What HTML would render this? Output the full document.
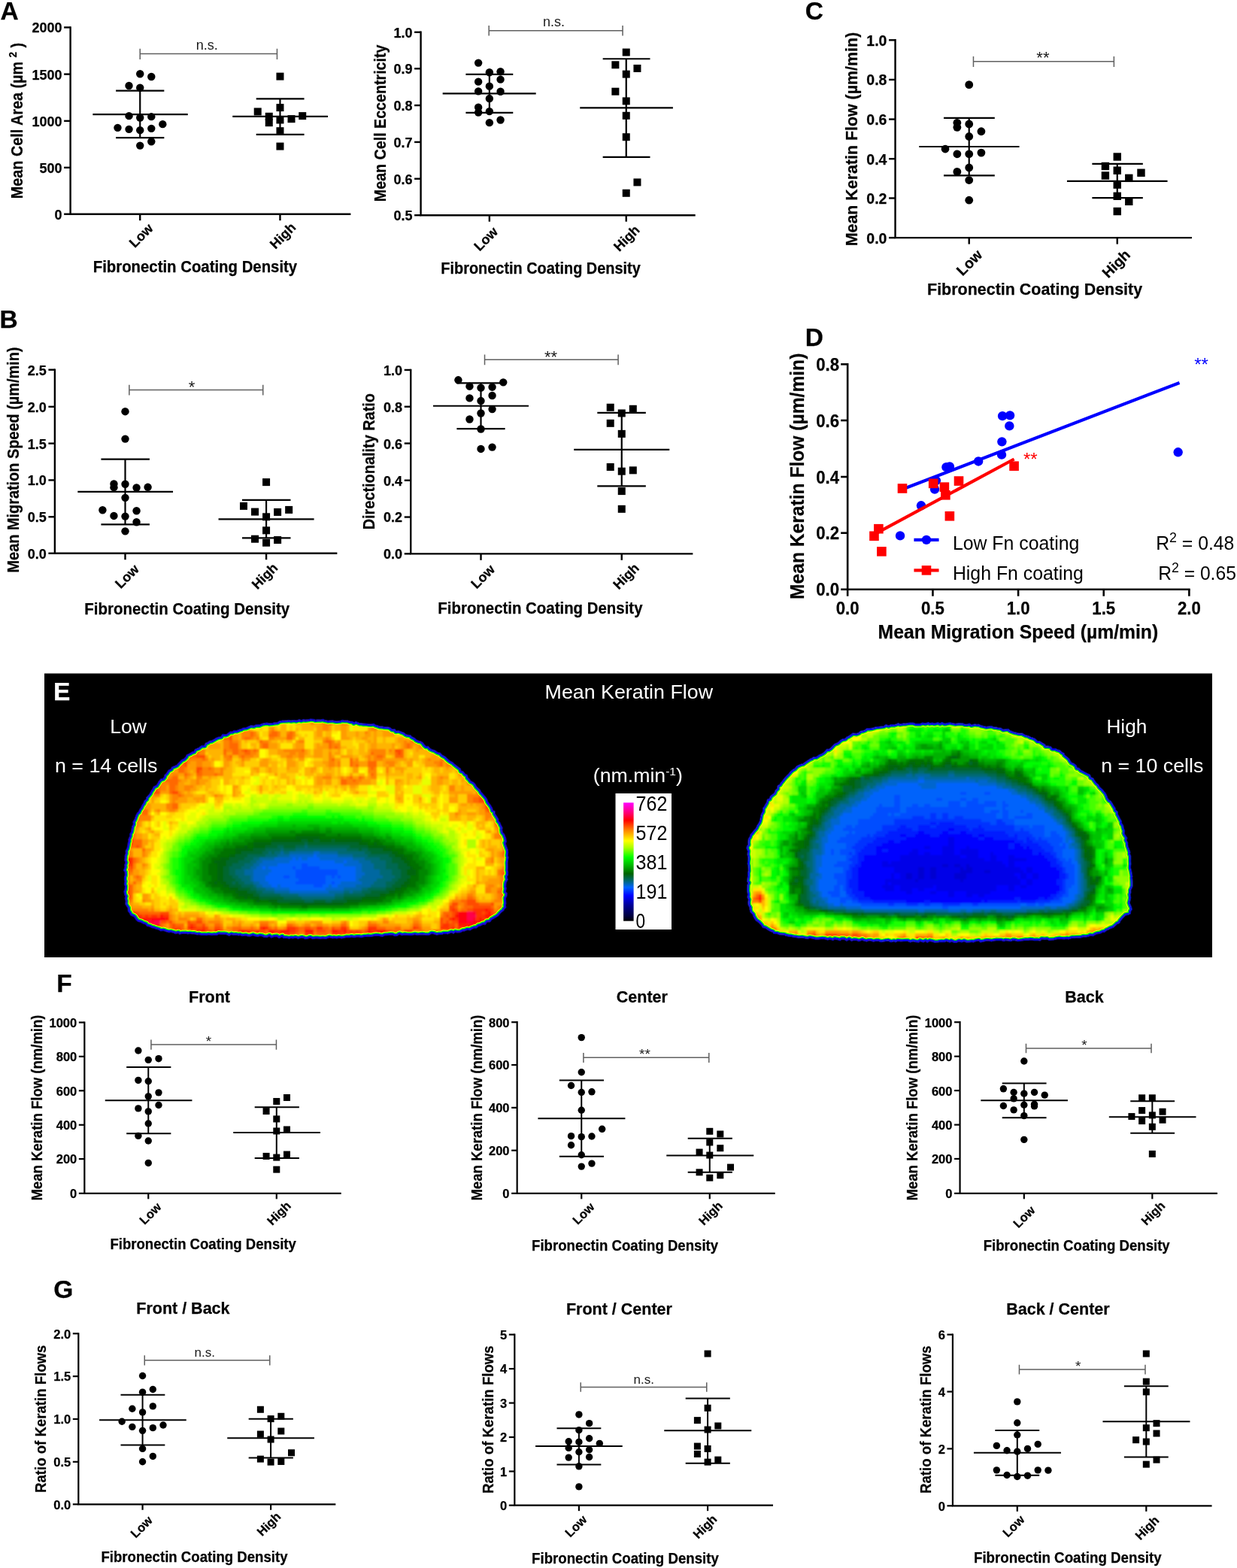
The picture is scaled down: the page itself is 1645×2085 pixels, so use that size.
<!DOCTYPE html>
<html lang="en"><head><meta charset="utf-8"><title>Figure</title>
<style>html,body{margin:0;padding:0;background:#fff}svg{display:block}text{font-family:"Liberation Sans", Arial, Helvetica, sans-serif}.b{font-weight:700;stroke:#000;stroke-width:.25px;stroke-linejoin:round}</style>
</head><body>
<svg width="1645" height="2085" viewBox="0 0 1645 2085">
<rect width="1645" height="2085" fill="#fff"/>
<g stroke="#000" fill="#000">
<path d="M93.62 35.24V284.7H466.41" fill="none" stroke-width="2.4" stroke-linejoin="miter"/>
<line x1="85.12" y1="36.44" x2="93.62" y2="36.44" stroke-width="2.4"/>
<line x1="85.12" y1="98.63" x2="93.62" y2="98.63" stroke-width="2.4"/>
<line x1="85.12" y1="160.82" x2="93.62" y2="160.82" stroke-width="2.4"/>
<line x1="85.12" y1="222.84" x2="93.62" y2="222.84" stroke-width="2.4"/>
<line x1="85.12" y1="284.7" x2="93.62" y2="284.7" stroke-width="2.4"/>
<line x1="186.23" y1="284.7" x2="186.23" y2="293.2" stroke-width="2.4"/>
<line x1="372.46" y1="284.7" x2="372.46" y2="293.2" stroke-width="2.4"/>
<line x1="123.37" y1="152.13" x2="249.76" y2="152.13" stroke-width="2.2"/>
<line x1="154.13" y1="120.7" x2="218.33" y2="120.7" stroke-width="2.2"/>
<line x1="154.13" y1="183.22" x2="218.33" y2="183.22" stroke-width="2.2"/>
<line x1="186.23" y1="120.7" x2="186.23" y2="183.22" stroke-width="2.2"/>
<line x1="309.27" y1="154.8" x2="435.99" y2="154.8" stroke-width="2.2"/>
<line x1="340.7" y1="131.4" x2="404.56" y2="131.4" stroke-width="2.2"/>
<line x1="340.7" y1="178.88" x2="404.56" y2="178.88" stroke-width="2.2"/>
<line x1="372.46" y1="131.4" x2="372.46" y2="178.88" stroke-width="2.2"/>
</g>
<circle cx="186.23" cy="98.3" r="5.2"/>
<circle cx="201.28" cy="101.98" r="5.2"/>
<circle cx="171.52" cy="114.01" r="5.2"/>
<circle cx="186.23" cy="116.69" r="5.2"/>
<circle cx="171.52" cy="154.13" r="5.2"/>
<circle cx="186.23" cy="156.47" r="5.2"/>
<circle cx="201.28" cy="155.14" r="5.2"/>
<circle cx="216.32" cy="165.17" r="5.2"/>
<circle cx="156.47" cy="169.85" r="5.2"/>
<circle cx="171.52" cy="171.85" r="5.2"/>
<circle cx="186.23" cy="173.19" r="5.2"/>
<circle cx="201.28" cy="170.85" r="5.2"/>
<circle cx="201.28" cy="188.24" r="5.2"/>
<circle cx="186.23" cy="193.59" r="5.2"/>
<rect x="367.46" y="96.64" width="10" height="10"/>
<rect x="367.46" y="138.1" width="10" height="10"/>
<rect x="337.71" y="143.45" width="10" height="10"/>
<rect x="352.75" y="149.8" width="10" height="10"/>
<rect x="397.22" y="149.13" width="10" height="10"/>
<rect x="382.51" y="153.15" width="10" height="10"/>
<rect x="367.46" y="154.48" width="10" height="10"/>
<rect x="352.75" y="158.16" width="10" height="10"/>
<rect x="367.46" y="169.19" width="10" height="10"/>
<rect x="367.46" y="189.59" width="10" height="10"/>
<path d="M186.23 64.86V78.91M186.23 71.55H368.45M368.45 64.86V78.91" fill="none" stroke="#606060" stroke-width="1.5"/>
<text x="275.17" y="65.53" font-size="18" text-anchor="middle" fill="#1a1a1a">n.s.</text>
<text x="82.52" y="43.37" font-size="18" class="b" text-anchor="end">2000</text>
<text x="82.52" y="105.56" font-size="18" class="b" text-anchor="end">1500</text>
<text x="82.52" y="167.75" font-size="18" class="b" text-anchor="end">1000</text>
<text x="82.52" y="229.77" font-size="18" class="b" text-anchor="end">500</text>
<text x="82.52" y="291.63" font-size="18" class="b" text-anchor="end">0</text>
<text x="204.62" y="304.92" font-size="18" class="b" text-anchor="end" transform="rotate(-45 204.62 304.92)">Low</text>
<text x="394.53" y="303.59" font-size="18" class="b" text-anchor="end" transform="rotate(-45 394.53 303.59)">High</text>
<text x="30.09" y="160.49" font-size="21.2" class="b" text-anchor="middle" transform="rotate(-90 30.09 160.49)" textLength="207.29" lengthAdjust="spacingAndGlyphs">Mean Cell Area (µm <tspan dy="-8.5" font-size="14.5">2</tspan><tspan dy="8.5"> )</tspan></text>
<text x="123.71" y="361.79" font-size="21.2" class="b" textLength="271.49" lengthAdjust="spacingAndGlyphs">Fibronectin Coating Density</text>
<g stroke="#000" fill="#000">
<path d="M559.57 41.6V286.2H924.68" fill="none" stroke-width="2.4" stroke-linejoin="miter"/>
<line x1="551.07" y1="42.8" x2="559.57" y2="42.8" stroke-width="2.4"/>
<line x1="551.07" y1="91.28" x2="559.57" y2="91.28" stroke-width="2.4"/>
<line x1="551.07" y1="140.09" x2="559.57" y2="140.09" stroke-width="2.4"/>
<line x1="551.07" y1="188.91" x2="559.57" y2="188.91" stroke-width="2.4"/>
<line x1="551.07" y1="237.72" x2="559.57" y2="237.72" stroke-width="2.4"/>
<line x1="551.07" y1="286.2" x2="559.57" y2="286.2" stroke-width="2.4"/>
<line x1="650.85" y1="286.2" x2="650.85" y2="294.7" stroke-width="2.4"/>
<line x1="832.74" y1="286.2" x2="832.74" y2="294.7" stroke-width="2.4"/>
<line x1="588.66" y1="124.38" x2="712.71" y2="124.38" stroke-width="2.2"/>
<line x1="619.42" y1="98.97" x2="682.28" y2="98.97" stroke-width="2.2"/>
<line x1="619.42" y1="149.79" x2="682.28" y2="149.79" stroke-width="2.2"/>
<line x1="650.85" y1="98.97" x2="650.85" y2="149.79" stroke-width="2.2"/>
<line x1="771.22" y1="143.43" x2="894.92" y2="143.43" stroke-width="2.2"/>
<line x1="801.64" y1="78.24" x2="864.5" y2="78.24" stroke-width="2.2"/>
<line x1="801.64" y1="208.97" x2="864.5" y2="208.97" stroke-width="2.2"/>
<line x1="832.74" y1="78.24" x2="832.74" y2="208.97" stroke-width="2.2"/>
</g>
<circle cx="636.14" cy="83.59" r="5.2"/>
<circle cx="650.85" cy="96.29" r="5.2"/>
<circle cx="665.56" cy="95.29" r="5.2"/>
<circle cx="665.56" cy="105.65" r="5.2"/>
<circle cx="636.14" cy="108.66" r="5.2"/>
<circle cx="650.85" cy="114.68" r="5.2"/>
<circle cx="636.14" cy="121.37" r="5.2"/>
<circle cx="665.56" cy="121.7" r="5.2"/>
<circle cx="650.85" cy="131.06" r="5.2"/>
<circle cx="636.14" cy="142.77" r="5.2"/>
<circle cx="636.14" cy="149.45" r="5.2"/>
<circle cx="650.85" cy="148.12" r="5.2"/>
<circle cx="665.56" cy="159.48" r="5.2"/>
<circle cx="650.85" cy="163.16" r="5.2"/>
<rect x="827.74" y="64.54" width="10" height="10"/>
<rect x="813.36" y="81.26" width="10" height="10"/>
<rect x="842.45" y="85.94" width="10" height="10"/>
<rect x="827.74" y="93.63" width="10" height="10"/>
<rect x="813.36" y="116.7" width="10" height="10"/>
<rect x="827.74" y="129.41" width="10" height="10"/>
<rect x="827.74" y="148.8" width="10" height="10"/>
<rect x="827.74" y="177.22" width="10" height="10"/>
<rect x="842.45" y="237.4" width="10" height="10"/>
<rect x="827.74" y="251.78" width="10" height="10"/>
<path d="M650.18 34.1V47.48M650.18 40.79H828.05M828.05 34.1V47.48" fill="none" stroke="#606060" stroke-width="1.5"/>
<text x="736.44" y="34.77" font-size="18" text-anchor="middle" fill="#1a1a1a">n.s.</text>
<text x="548.47" y="49.73" font-size="18" class="b" text-anchor="end">1.0</text>
<text x="548.47" y="98.21" font-size="18" class="b" text-anchor="end">0.9</text>
<text x="548.47" y="147.02" font-size="18" class="b" text-anchor="end">0.8</text>
<text x="548.47" y="195.84" font-size="18" class="b" text-anchor="end">0.7</text>
<text x="548.47" y="244.65" font-size="18" class="b" text-anchor="end">0.6</text>
<text x="548.47" y="293.13" font-size="18" class="b" text-anchor="end">0.5</text>
<text x="663.22" y="309.27" font-size="18" class="b" text-anchor="end" transform="rotate(-45 663.22 309.27)">Low</text>
<text x="851.79" y="306.93" font-size="18" class="b" text-anchor="end" transform="rotate(-45 851.79 306.93)">High</text>
<text x="513.43" y="163.83" font-size="21.2" class="b" text-anchor="middle" transform="rotate(-90 513.43 163.83)" textLength="208.63" lengthAdjust="spacingAndGlyphs">Mean Cell Eccentricity</text>
<text x="586.32" y="364.13" font-size="21.2" class="b" textLength="265.47" lengthAdjust="spacingAndGlyphs">Fibronectin Coating Density</text>
<g stroke="#000" fill="#000">
<path d="M1190.54 52.11V316.13H1584.95" fill="none" stroke-width="2.4" stroke-linejoin="miter"/>
<line x1="1182.04" y1="53.31" x2="1190.54" y2="53.31" stroke-width="2.4"/>
<line x1="1182.04" y1="105.94" x2="1190.54" y2="105.94" stroke-width="2.4"/>
<line x1="1182.04" y1="158.57" x2="1190.54" y2="158.57" stroke-width="2.4"/>
<line x1="1182.04" y1="211.2" x2="1190.54" y2="211.2" stroke-width="2.4"/>
<line x1="1182.04" y1="263.5" x2="1190.54" y2="263.5" stroke-width="2.4"/>
<line x1="1182.04" y1="316.13" x2="1190.54" y2="316.13" stroke-width="2.4"/>
<line x1="1288.72" y1="316.13" x2="1288.72" y2="324.63" stroke-width="2.4"/>
<line x1="1485.75" y1="316.13" x2="1485.75" y2="324.63" stroke-width="2.4"/>
<line x1="1222.26" y1="195.01" x2="1355.52" y2="195.01" stroke-width="2.2"/>
<line x1="1254.98" y1="156.88" x2="1322.8" y2="156.88" stroke-width="2.2"/>
<line x1="1254.98" y1="233.47" x2="1322.8" y2="233.47" stroke-width="2.2"/>
<line x1="1288.72" y1="156.88" x2="1288.72" y2="233.47" stroke-width="2.2"/>
<line x1="1418.95" y1="240.89" x2="1552.56" y2="240.89" stroke-width="2.2"/>
<line x1="1452.35" y1="217.95" x2="1519.83" y2="217.95" stroke-width="2.2"/>
<line x1="1452.35" y1="263.16" x2="1519.83" y2="263.16" stroke-width="2.2"/>
<line x1="1485.75" y1="217.95" x2="1485.75" y2="263.16" stroke-width="2.2"/>
</g>
<circle cx="1288.72" cy="112.69" r="5.4"/>
<circle cx="1272.86" cy="163.29" r="5.4"/>
<circle cx="1288.72" cy="164.98" r="5.4"/>
<circle cx="1272.86" cy="169.37" r="5.4"/>
<circle cx="1304.91" cy="174.77" r="5.4"/>
<circle cx="1288.72" cy="181.51" r="5.4"/>
<circle cx="1257.01" cy="198.05" r="5.4"/>
<circle cx="1272.86" cy="204.79" r="5.4"/>
<circle cx="1288.72" cy="204.79" r="5.4"/>
<circle cx="1304.91" cy="203.11" r="5.4"/>
<circle cx="1288.72" cy="223.01" r="5.4"/>
<circle cx="1272.86" cy="228.41" r="5.4"/>
<circle cx="1288.72" cy="239.54" r="5.4"/>
<circle cx="1288.72" cy="266.2" r="5.4"/>
<rect x="1480.55" y="203.3" width="10.4" height="10.4"/>
<rect x="1464.7" y="215.79" width="10.4" height="10.4"/>
<rect x="1480.55" y="221.52" width="10.4" height="10.4"/>
<rect x="1512.27" y="224.56" width="10.4" height="10.4"/>
<rect x="1464.7" y="228.27" width="10.4" height="10.4"/>
<rect x="1496.07" y="231.64" width="10.4" height="10.4"/>
<rect x="1480.55" y="240.42" width="10.4" height="10.4"/>
<rect x="1480.55" y="255.6" width="10.4" height="10.4"/>
<rect x="1496.07" y="262.68" width="10.4" height="10.4"/>
<rect x="1480.55" y="275.84" width="10.4" height="10.4"/>
<path d="M1294.46 74.9V89.07M1294.46 81.65H1481.37M1481.37 74.9V89.07" fill="none" stroke="#606060" stroke-width="1.5"/>
<text x="1386.9" y="84.01" font-size="22" text-anchor="middle" fill="#1a1a1a">**</text>
<text x="1179.44" y="60.81" font-size="19.5" class="b" text-anchor="end">1.0</text>
<text x="1179.44" y="113.45" font-size="19.5" class="b" text-anchor="end">0.8</text>
<text x="1179.44" y="166.08" font-size="19.5" class="b" text-anchor="end">0.6</text>
<text x="1179.44" y="218.71" font-size="19.5" class="b" text-anchor="end">0.4</text>
<text x="1179.44" y="271.01" font-size="19.5" class="b" text-anchor="end">0.2</text>
<text x="1179.44" y="323.64" font-size="19.5" class="b" text-anchor="end">0.0</text>
<text x="1307.61" y="340.09" font-size="19.5" class="b" text-anchor="end" transform="rotate(-45 1307.61 340.09)">Low</text>
<text x="1504.31" y="340.09" font-size="19.5" class="b" text-anchor="end" transform="rotate(-45 1504.31 340.09)">High</text>
<text x="1139.93" y="185.06" font-size="21.4" class="b" text-anchor="middle" transform="rotate(-90 1139.93 185.06)" textLength="284.42" lengthAdjust="spacingAndGlyphs">Mean Keratin Flow (µm/min)</text>
<text x="1233.05" y="392.07" font-size="21.4" class="b" textLength="286.1" lengthAdjust="spacingAndGlyphs">Fibronectin Coating Density</text>
<g stroke="#000" fill="#000">
<path d="M72.89 490.48V735.75H448.36" fill="none" stroke-width="2.4" stroke-linejoin="miter"/>
<line x1="64.39" y1="491.68" x2="72.89" y2="491.68" stroke-width="2.4"/>
<line x1="64.39" y1="540.83" x2="72.89" y2="540.83" stroke-width="2.4"/>
<line x1="64.39" y1="589.64" x2="72.89" y2="589.64" stroke-width="2.4"/>
<line x1="64.39" y1="638.45" x2="72.89" y2="638.45" stroke-width="2.4"/>
<line x1="64.39" y1="687.27" x2="72.89" y2="687.27" stroke-width="2.4"/>
<line x1="64.39" y1="735.75" x2="72.89" y2="735.75" stroke-width="2.4"/>
<line x1="166.5" y1="735.75" x2="166.5" y2="744.25" stroke-width="2.4"/>
<line x1="354.07" y1="735.75" x2="354.07" y2="744.25" stroke-width="2.4"/>
<line x1="103.31" y1="653.83" x2="230.03" y2="653.83" stroke-width="2.2"/>
<line x1="134.41" y1="610.7" x2="198.94" y2="610.7" stroke-width="2.2"/>
<line x1="134.41" y1="697.3" x2="198.94" y2="697.3" stroke-width="2.2"/>
<line x1="166.5" y1="610.7" x2="166.5" y2="697.3" stroke-width="2.2"/>
<line x1="290.55" y1="690.28" x2="417.6" y2="690.28" stroke-width="2.2"/>
<line x1="321.98" y1="664.87" x2="386.5" y2="664.87" stroke-width="2.2"/>
<line x1="321.98" y1="715.35" x2="386.5" y2="715.35" stroke-width="2.2"/>
<line x1="354.07" y1="664.87" x2="354.07" y2="715.35" stroke-width="2.2"/>
</g>
<circle cx="166.5" cy="547.18" r="5.2"/>
<circle cx="166.5" cy="583.62" r="5.2"/>
<circle cx="151.46" cy="643.47" r="5.2"/>
<circle cx="166.5" cy="643.8" r="5.2"/>
<circle cx="151.46" cy="648.15" r="5.2"/>
<circle cx="181.55" cy="648.49" r="5.2"/>
<circle cx="196.6" cy="647.82" r="5.2"/>
<circle cx="166.5" cy="661.86" r="5.2"/>
<circle cx="136.41" cy="678.24" r="5.2"/>
<circle cx="181.55" cy="679.24" r="5.2"/>
<circle cx="151.46" cy="685.93" r="5.2"/>
<circle cx="166.5" cy="686.6" r="5.2"/>
<circle cx="181.55" cy="694.29" r="5.2"/>
<circle cx="166.5" cy="706.33" r="5.2"/>
<rect x="349.07" y="636.13" width="10" height="10"/>
<rect x="318.98" y="667.89" width="10" height="10"/>
<rect x="379.16" y="672.91" width="10" height="10"/>
<rect x="334.03" y="675.58" width="10" height="10"/>
<rect x="364.12" y="675.92" width="10" height="10"/>
<rect x="349.07" y="682.27" width="10" height="10"/>
<rect x="349.07" y="700.32" width="10" height="10"/>
<rect x="334.03" y="711.69" width="10" height="10"/>
<rect x="364.12" y="713.03" width="10" height="10"/>
<rect x="349.07" y="716.71" width="10" height="10"/>
<path d="M171.85 511.74V525.45M171.85 518.42H349.73M349.73 511.74V525.45" fill="none" stroke="#606060" stroke-width="1.5"/>
<text x="255.11" y="521.6" font-size="22" text-anchor="middle" fill="#1a1a1a">*</text>
<text x="61.79" y="498.61" font-size="18" class="b" text-anchor="end">2.5</text>
<text x="61.79" y="547.76" font-size="18" class="b" text-anchor="end">2.0</text>
<text x="61.79" y="596.57" font-size="18" class="b" text-anchor="end">1.5</text>
<text x="61.79" y="645.38" font-size="18" class="b" text-anchor="end">1.0</text>
<text x="61.79" y="694.2" font-size="18" class="b" text-anchor="end">0.5</text>
<text x="61.79" y="742.68" font-size="18" class="b" text-anchor="end">0.0</text>
<text x="185.9" y="758.15" font-size="18" class="b" text-anchor="end" transform="rotate(-45 185.9 758.15)">Low</text>
<text x="370.46" y="756.14" font-size="18" class="b" text-anchor="end" transform="rotate(-45 370.46 756.14)">High</text>
<text x="24.74" y="611.54" font-size="21.2" class="b" text-anchor="middle" transform="rotate(-90 24.74 611.54)" textLength="299.91" lengthAdjust="spacingAndGlyphs">Mean Migration Speed (µm/min)</text>
<text x="112.34" y="816.69" font-size="21.2" class="b" textLength="272.83" lengthAdjust="spacingAndGlyphs">Fibronectin Coating Density</text>
<g stroke="#000" fill="#000">
<path d="M546.23 490.75V736.35H921.37" fill="none" stroke-width="2.4" stroke-linejoin="miter"/>
<line x1="537.73" y1="491.95" x2="546.23" y2="491.95" stroke-width="2.4"/>
<line x1="537.73" y1="540.76" x2="546.23" y2="540.76" stroke-width="2.4"/>
<line x1="537.73" y1="589.57" x2="546.23" y2="589.57" stroke-width="2.4"/>
<line x1="537.73" y1="638.72" x2="546.23" y2="638.72" stroke-width="2.4"/>
<line x1="537.73" y1="687.54" x2="546.23" y2="687.54" stroke-width="2.4"/>
<line x1="537.73" y1="736.35" x2="546.23" y2="736.35" stroke-width="2.4"/>
<line x1="639.51" y1="736.35" x2="639.51" y2="744.85" stroke-width="2.4"/>
<line x1="826.75" y1="736.35" x2="826.75" y2="744.85" stroke-width="2.4"/>
<line x1="575.99" y1="539.76" x2="703.04" y2="539.76" stroke-width="2.2"/>
<line x1="607.42" y1="509.33" x2="671.61" y2="509.33" stroke-width="2.2"/>
<line x1="607.42" y1="570.18" x2="671.61" y2="570.18" stroke-width="2.2"/>
<line x1="639.51" y1="509.33" x2="639.51" y2="570.18" stroke-width="2.2"/>
<line x1="763.22" y1="597.93" x2="890.27" y2="597.93" stroke-width="2.2"/>
<line x1="794.32" y1="548.78" x2="858.84" y2="548.78" stroke-width="2.2"/>
<line x1="794.32" y1="646.41" x2="858.84" y2="646.41" stroke-width="2.2"/>
<line x1="826.75" y1="548.78" x2="826.75" y2="646.41" stroke-width="2.2"/>
</g>
<circle cx="609.42" cy="505.32" r="5.2"/>
<circle cx="669.27" cy="508.33" r="5.2"/>
<circle cx="624.47" cy="513.68" r="5.2"/>
<circle cx="639.51" cy="515.68" r="5.2"/>
<circle cx="654.56" cy="514.68" r="5.2"/>
<circle cx="624.47" cy="529.39" r="5.2"/>
<circle cx="654.56" cy="526.05" r="5.2"/>
<circle cx="639.51" cy="533.07" r="5.2"/>
<circle cx="654.56" cy="544.1" r="5.2"/>
<circle cx="639.51" cy="549.45" r="5.2"/>
<circle cx="624.47" cy="557.48" r="5.2"/>
<circle cx="639.51" cy="570.52" r="5.2"/>
<circle cx="639.51" cy="596.93" r="5.2"/>
<circle cx="654.56" cy="594.59" r="5.2"/>
<rect x="806.7" y="536.76" width="10" height="10"/>
<rect x="836.79" y="538.77" width="10" height="10"/>
<rect x="821.75" y="544.45" width="10" height="10"/>
<rect x="806.7" y="557.83" width="10" height="10"/>
<rect x="821.75" y="571.87" width="10" height="10"/>
<rect x="806.7" y="616" width="10" height="10"/>
<rect x="821.75" y="621.69" width="10" height="10"/>
<rect x="836.79" y="620.35" width="10" height="10"/>
<rect x="821.75" y="648.1" width="10" height="10"/>
<rect x="821.75" y="671.84" width="10" height="10"/>
<path d="M644.53 471.55V485.26M644.53 478.24H822.07M822.07 471.55V485.26" fill="none" stroke="#606060" stroke-width="1.5"/>
<text x="732.46" y="482.08" font-size="22" text-anchor="middle" fill="#1a1a1a">**</text>
<text x="535.13" y="498.88" font-size="18" class="b" text-anchor="end">1.0</text>
<text x="535.13" y="547.69" font-size="18" class="b" text-anchor="end">0.8</text>
<text x="535.13" y="596.5" font-size="18" class="b" text-anchor="end">0.6</text>
<text x="535.13" y="645.65" font-size="18" class="b" text-anchor="end">0.4</text>
<text x="535.13" y="694.47" font-size="18" class="b" text-anchor="end">0.2</text>
<text x="535.13" y="743.28" font-size="18" class="b" text-anchor="end">0.0</text>
<text x="659.24" y="758.42" font-size="18" class="b" text-anchor="end" transform="rotate(-45 659.24 758.42)">Low</text>
<text x="851.16" y="756.41" font-size="18" class="b" text-anchor="end" transform="rotate(-45 851.16 756.41)">High</text>
<text x="497.75" y="613.65" font-size="21.2" class="b" text-anchor="middle" transform="rotate(-90 497.75 613.65)" textLength="181.22" lengthAdjust="spacingAndGlyphs">Directionality Ratio</text>
<text x="582.34" y="816.29" font-size="21.2" class="b" textLength="272.16" lengthAdjust="spacingAndGlyphs">Fibronectin Coating Density</text>
<g stroke="#000" fill="#000">
<path d="M112.34 1358.44V1586.83H453.71" fill="none" stroke-width="2.2" stroke-linejoin="miter"/>
<line x1="104.84" y1="1359.54" x2="112.34" y2="1359.54" stroke-width="2.2"/>
<line x1="104.84" y1="1404.85" x2="112.34" y2="1404.85" stroke-width="2.2"/>
<line x1="104.84" y1="1450.32" x2="112.34" y2="1450.32" stroke-width="2.2"/>
<line x1="104.84" y1="1495.79" x2="112.34" y2="1495.79" stroke-width="2.2"/>
<line x1="104.84" y1="1541.09" x2="112.34" y2="1541.09" stroke-width="2.2"/>
<line x1="104.84" y1="1586.83" x2="112.34" y2="1586.83" stroke-width="2.2"/>
<line x1="197.26" y1="1586.83" x2="197.26" y2="1594.33" stroke-width="2.2"/>
<line x1="367.78" y1="1586.83" x2="367.78" y2="1594.33" stroke-width="2.2"/>
<line x1="139.76" y1="1463.19" x2="255.44" y2="1463.19" stroke-width="2"/>
<line x1="168.18" y1="1419.06" x2="227.36" y2="1419.06" stroke-width="2"/>
<line x1="168.18" y1="1507.33" x2="227.36" y2="1507.33" stroke-width="2"/>
<line x1="197.26" y1="1419.06" x2="197.26" y2="1507.33" stroke-width="2"/>
<line x1="310.27" y1="1505.99" x2="425.96" y2="1505.99" stroke-width="2"/>
<line x1="338.69" y1="1472.22" x2="397.87" y2="1472.22" stroke-width="2"/>
<line x1="338.69" y1="1540.09" x2="397.87" y2="1540.09" stroke-width="2"/>
<line x1="367.78" y1="1472.22" x2="367.78" y2="1540.09" stroke-width="2"/>
</g>
<circle cx="183.89" cy="1396.99" r="4.7"/>
<circle cx="197.26" cy="1409.36" r="4.7"/>
<circle cx="210.97" cy="1407.69" r="4.7"/>
<circle cx="183.89" cy="1436.44" r="4.7"/>
<circle cx="197.26" cy="1437.78" r="4.7"/>
<circle cx="210.97" cy="1452.83" r="4.7"/>
<circle cx="197.26" cy="1457.84" r="4.7"/>
<circle cx="210.97" cy="1469.54" r="4.7"/>
<circle cx="183.89" cy="1473.89" r="4.7"/>
<circle cx="197.26" cy="1477.9" r="4.7"/>
<circle cx="197.26" cy="1493.95" r="4.7"/>
<circle cx="183.89" cy="1510.33" r="4.7"/>
<circle cx="197.26" cy="1517.02" r="4.7"/>
<circle cx="197.26" cy="1546.44" r="4.7"/>
<rect x="376.99" y="1455.01" width="9" height="9"/>
<rect x="363.28" y="1460.03" width="9" height="9"/>
<rect x="349.57" y="1473.07" width="9" height="9"/>
<rect x="363.28" y="1483.43" width="9" height="9"/>
<rect x="376.99" y="1497.48" width="9" height="9"/>
<rect x="363.28" y="1499.48" width="9" height="9"/>
<rect x="349.57" y="1532.92" width="9" height="9"/>
<rect x="376.99" y="1530.58" width="9" height="9"/>
<rect x="363.28" y="1534.59" width="9" height="9"/>
<rect x="363.28" y="1550.64" width="9" height="9"/>
<path d="M200.94 1382.61V1395.65M200.94 1388.97H367.45M367.45 1382.61V1395.65" fill="none" stroke="#606060" stroke-width="1.5"/>
<text x="277.51" y="1390.64" font-size="19" text-anchor="middle" fill="#1a1a1a">*</text>
<text x="102.24" y="1365.9" font-size="16.5" class="b" text-anchor="end">1000</text>
<text x="102.24" y="1411.2" font-size="16.5" class="b" text-anchor="end">800</text>
<text x="102.24" y="1456.67" font-size="16.5" class="b" text-anchor="end">600</text>
<text x="102.24" y="1502.14" font-size="16.5" class="b" text-anchor="end">400</text>
<text x="102.24" y="1547.45" font-size="16.5" class="b" text-anchor="end">200</text>
<text x="102.24" y="1593.19" font-size="16.5" class="b" text-anchor="end">0</text>
<text x="215.65" y="1605.96" font-size="16.5" class="b" text-anchor="end" transform="rotate(-45 215.65 1605.96)">Low</text>
<text x="387.84" y="1604.29" font-size="16.5" class="b" text-anchor="end" transform="rotate(-45 387.84 1604.29)">High</text>
<text x="56.17" y="1473.05" font-size="19.8" class="b" text-anchor="middle" transform="rotate(-90 56.17 1473.05)" textLength="247.08" lengthAdjust="spacingAndGlyphs">Mean Keratin Flow (nm/min)</text>
<text x="146.44" y="1660.82" font-size="19.8" class="b" textLength="247.42" lengthAdjust="spacingAndGlyphs">Fibronectin Coating Density</text>
<text x="278.51" y="1332.8" font-size="21.5" class="b" text-anchor="middle">Front</text>
<g stroke="#000" fill="#000">
<path d="M687.66 1358.11V1586.83H1030.7" fill="none" stroke-width="2.2" stroke-linejoin="miter"/>
<line x1="680.16" y1="1359.21" x2="687.66" y2="1359.21" stroke-width="2.2"/>
<line x1="680.16" y1="1416.05" x2="687.66" y2="1416.05" stroke-width="2.2"/>
<line x1="680.16" y1="1472.89" x2="687.66" y2="1472.89" stroke-width="2.2"/>
<line x1="680.16" y1="1529.73" x2="687.66" y2="1529.73" stroke-width="2.2"/>
<line x1="680.16" y1="1586.83" x2="687.66" y2="1586.83" stroke-width="2.2"/>
<line x1="773.25" y1="1586.83" x2="773.25" y2="1594.33" stroke-width="2.2"/>
<line x1="943.77" y1="1586.83" x2="943.77" y2="1594.33" stroke-width="2.2"/>
<line x1="715.41" y1="1487.26" x2="831.43" y2="1487.26" stroke-width="2"/>
<line x1="743.83" y1="1436.44" x2="803.01" y2="1436.44" stroke-width="2"/>
<line x1="743.83" y1="1537.75" x2="803.01" y2="1537.75" stroke-width="2"/>
<line x1="773.25" y1="1436.44" x2="773.25" y2="1537.75" stroke-width="2"/>
<line x1="886.26" y1="1536.41" x2="1002.28" y2="1536.41" stroke-width="2"/>
<line x1="914.68" y1="1513.68" x2="973.86" y2="1513.68" stroke-width="2"/>
<line x1="914.68" y1="1558.81" x2="973.86" y2="1558.81" stroke-width="2"/>
<line x1="943.77" y1="1513.68" x2="943.77" y2="1558.81" stroke-width="2"/>
</g>
<circle cx="773.25" cy="1379.6" r="4.7"/>
<circle cx="773.25" cy="1425.74" r="4.7"/>
<circle cx="759.54" cy="1443.47" r="4.7"/>
<circle cx="773.25" cy="1452.49" r="4.7"/>
<circle cx="786.96" cy="1451.82" r="4.7"/>
<circle cx="773.25" cy="1476.23" r="4.7"/>
<circle cx="800.67" cy="1501.31" r="4.7"/>
<circle cx="759.54" cy="1510.67" r="4.7"/>
<circle cx="773.25" cy="1511.67" r="4.7"/>
<circle cx="786.96" cy="1511" r="4.7"/>
<circle cx="759.54" cy="1522.71" r="4.7"/>
<circle cx="773.25" cy="1535.74" r="4.7"/>
<circle cx="786.96" cy="1547.11" r="4.7"/>
<circle cx="773.25" cy="1551.12" r="4.7"/>
<rect x="939.27" y="1499.82" width="9" height="9"/>
<rect x="953.31" y="1503.49" width="9" height="9"/>
<rect x="939.27" y="1514.53" width="9" height="9"/>
<rect x="953.31" y="1522.22" width="9" height="9"/>
<rect x="925.56" y="1527.57" width="9" height="9"/>
<rect x="939.27" y="1531.58" width="9" height="9"/>
<rect x="967.02" y="1547.63" width="9" height="9"/>
<rect x="925.56" y="1554.31" width="9" height="9"/>
<rect x="953.31" y="1558.33" width="9" height="9"/>
<rect x="939.27" y="1561.67" width="9" height="9"/>
<path d="M775.93 1400V1413.04M775.93 1406.35H942.77M942.77 1400V1413.04" fill="none" stroke="#606060" stroke-width="1.5"/>
<text x="857.51" y="1408.02" font-size="19" text-anchor="middle" fill="#1a1a1a">**</text>
<text x="677.56" y="1365.56" font-size="16.5" class="b" text-anchor="end">800</text>
<text x="677.56" y="1422.4" font-size="16.5" class="b" text-anchor="end">600</text>
<text x="677.56" y="1479.24" font-size="16.5" class="b" text-anchor="end">400</text>
<text x="677.56" y="1536.08" font-size="16.5" class="b" text-anchor="end">200</text>
<text x="677.56" y="1593.19" font-size="16.5" class="b" text-anchor="end">0</text>
<text x="791.64" y="1605.96" font-size="16.5" class="b" text-anchor="end" transform="rotate(-45 791.64 1605.96)">Low</text>
<text x="961.82" y="1604.29" font-size="16.5" class="b" text-anchor="end" transform="rotate(-45 961.82 1604.29)">High</text>
<text x="641.19" y="1473.05" font-size="19.8" class="b" text-anchor="middle" transform="rotate(-90 641.19 1473.05)" textLength="247.08" lengthAdjust="spacingAndGlyphs">Mean Keratin Flow (nm/min)</text>
<text x="707.05" y="1662.83" font-size="19.8" class="b" textLength="248.09" lengthAdjust="spacingAndGlyphs">Fibronectin Coating Density</text>
<text x="853.83" y="1332.8" font-size="21.5" class="b" text-anchor="middle">Center</text>
<g stroke="#000" fill="#000">
<path d="M1276.55 1358.11V1586.83H1618.92" fill="none" stroke-width="2.2" stroke-linejoin="miter"/>
<line x1="1269.05" y1="1359.21" x2="1276.55" y2="1359.21" stroke-width="2.2"/>
<line x1="1269.05" y1="1404.68" x2="1276.55" y2="1404.68" stroke-width="2.2"/>
<line x1="1269.05" y1="1450.15" x2="1276.55" y2="1450.15" stroke-width="2.2"/>
<line x1="1269.05" y1="1495.62" x2="1276.55" y2="1495.62" stroke-width="2.2"/>
<line x1="1269.05" y1="1540.93" x2="1276.55" y2="1540.93" stroke-width="2.2"/>
<line x1="1269.05" y1="1586.83" x2="1276.55" y2="1586.83" stroke-width="2.2"/>
<line x1="1361.81" y1="1586.83" x2="1361.81" y2="1594.33" stroke-width="2.2"/>
<line x1="1532.33" y1="1586.83" x2="1532.33" y2="1594.33" stroke-width="2.2"/>
<line x1="1304.3" y1="1463.19" x2="1419.98" y2="1463.19" stroke-width="2"/>
<line x1="1332.72" y1="1440.46" x2="1391.57" y2="1440.46" stroke-width="2"/>
<line x1="1332.72" y1="1486.26" x2="1391.57" y2="1486.26" stroke-width="2"/>
<line x1="1361.81" y1="1440.46" x2="1361.81" y2="1486.26" stroke-width="2"/>
<line x1="1474.82" y1="1485.26" x2="1590.5" y2="1485.26" stroke-width="2"/>
<line x1="1503.24" y1="1464.19" x2="1562.08" y2="1464.19" stroke-width="2"/>
<line x1="1503.24" y1="1506.66" x2="1562.08" y2="1506.66" stroke-width="2"/>
<line x1="1532.33" y1="1464.19" x2="1532.33" y2="1506.66" stroke-width="2"/>
</g>
<circle cx="1361.81" cy="1411.03" r="4.7"/>
<circle cx="1334.39" cy="1447.81" r="4.7"/>
<circle cx="1348.1" cy="1452.49" r="4.7"/>
<circle cx="1361.81" cy="1454.16" r="4.7"/>
<circle cx="1375.52" cy="1452.49" r="4.7"/>
<circle cx="1389.22" cy="1456.17" r="4.7"/>
<circle cx="1348.1" cy="1460.85" r="4.7"/>
<circle cx="1334.39" cy="1470.55" r="4.7"/>
<circle cx="1361.81" cy="1469.21" r="4.7"/>
<circle cx="1375.52" cy="1470.88" r="4.7"/>
<circle cx="1348.1" cy="1475.9" r="4.7"/>
<circle cx="1361.81" cy="1483.59" r="4.7"/>
<circle cx="1361.81" cy="1515.35" r="4.7"/>
<circle cx="1375.52" cy="1468.21" r="4.7"/>
<rect x="1514.12" y="1455.35" width="9" height="9"/>
<rect x="1527.83" y="1455.35" width="9" height="9"/>
<rect x="1514.12" y="1472.07" width="9" height="9"/>
<rect x="1541.53" y="1473.74" width="9" height="9"/>
<rect x="1500.41" y="1480.09" width="9" height="9"/>
<rect x="1527.83" y="1478.42" width="9" height="9"/>
<rect x="1514.12" y="1486.11" width="9" height="9"/>
<rect x="1541.53" y="1484.77" width="9" height="9"/>
<rect x="1527.83" y="1493.8" width="9" height="9"/>
<rect x="1527.83" y="1529.91" width="9" height="9"/>
<path d="M1364.48 1387.63V1400.33M1364.48 1393.98H1530.99M1530.99 1387.63V1400.33" fill="none" stroke="#606060" stroke-width="1.5"/>
<text x="1442.05" y="1395.65" font-size="19" text-anchor="middle" fill="#1a1a1a">*</text>
<text x="1266.45" y="1365.56" font-size="16.5" class="b" text-anchor="end">1000</text>
<text x="1266.45" y="1411.03" font-size="16.5" class="b" text-anchor="end">800</text>
<text x="1266.45" y="1456.5" font-size="16.5" class="b" text-anchor="end">600</text>
<text x="1266.45" y="1501.98" font-size="16.5" class="b" text-anchor="end">400</text>
<text x="1266.45" y="1547.28" font-size="16.5" class="b" text-anchor="end">200</text>
<text x="1266.45" y="1593.19" font-size="16.5" class="b" text-anchor="end">0</text>
<text x="1377.52" y="1610.3" font-size="16.5" class="b" text-anchor="end" transform="rotate(-45 1377.52 1610.3)">Low</text>
<text x="1550.38" y="1604.29" font-size="16.5" class="b" text-anchor="end" transform="rotate(-45 1550.38 1604.29)">High</text>
<text x="1220.38" y="1473.05" font-size="19.8" class="b" text-anchor="middle" transform="rotate(-90 1220.38 1473.05)" textLength="247.08" lengthAdjust="spacingAndGlyphs">Mean Keratin Flow (nm/min)</text>
<text x="1307.64" y="1662.83" font-size="19.8" class="b" textLength="248.09" lengthAdjust="spacingAndGlyphs">Fibronectin Coating Density</text>
<text x="1442.05" y="1332.8" font-size="21.5" class="b" text-anchor="middle">Back</text>
<g stroke="#000" fill="#000">
<path d="M104.32 1772.18V2000.3H446.35" fill="none" stroke-width="2.2" stroke-linejoin="miter"/>
<line x1="96.82" y1="1773.28" x2="104.32" y2="1773.28" stroke-width="2.2"/>
<line x1="96.82" y1="1830.12" x2="104.32" y2="1830.12" stroke-width="2.2"/>
<line x1="96.82" y1="1886.96" x2="104.32" y2="1886.96" stroke-width="2.2"/>
<line x1="96.82" y1="1943.8" x2="104.32" y2="1943.8" stroke-width="2.2"/>
<line x1="96.82" y1="2000.3" x2="104.32" y2="2000.3" stroke-width="2.2"/>
<line x1="189.57" y1="2000.3" x2="189.57" y2="2007.8" stroke-width="2.2"/>
<line x1="360.09" y1="2000.3" x2="360.09" y2="2007.8" stroke-width="2.2"/>
<line x1="132.07" y1="1888.3" x2="247.75" y2="1888.3" stroke-width="2"/>
<line x1="160.49" y1="1854.86" x2="219.33" y2="1854.86" stroke-width="2"/>
<line x1="160.49" y1="1921.4" x2="219.33" y2="1921.4" stroke-width="2"/>
<line x1="189.57" y1="1854.86" x2="189.57" y2="1921.4" stroke-width="2"/>
<line x1="302.25" y1="1912.37" x2="417.93" y2="1912.37" stroke-width="2"/>
<line x1="330.67" y1="1886.63" x2="389.85" y2="1886.63" stroke-width="2"/>
<line x1="330.67" y1="1938.45" x2="389.85" y2="1938.45" stroke-width="2"/>
<line x1="360.09" y1="1886.63" x2="360.09" y2="1938.45" stroke-width="2"/>
</g>
<circle cx="189.57" cy="1829.45" r="4.7"/>
<circle cx="203.28" cy="1847.51" r="4.7"/>
<circle cx="189.57" cy="1851.19" r="4.7"/>
<circle cx="175.87" cy="1873.25" r="4.7"/>
<circle cx="203.28" cy="1869.91" r="4.7"/>
<circle cx="189.57" cy="1877.93" r="4.7"/>
<circle cx="162.16" cy="1890.3" r="4.7"/>
<circle cx="216.99" cy="1894.98" r="4.7"/>
<circle cx="175.87" cy="1897.33" r="4.7"/>
<circle cx="203.28" cy="1898.66" r="4.7"/>
<circle cx="189.57" cy="1902.34" r="4.7"/>
<circle cx="189.57" cy="1926.41" r="4.7"/>
<circle cx="203.28" cy="1936.44" r="4.7"/>
<circle cx="189.57" cy="1943.8" r="4.7"/>
<rect x="341.88" y="1869.76" width="9" height="9"/>
<rect x="369.3" y="1878.78" width="9" height="9"/>
<rect x="355.59" y="1882.13" width="9" height="9"/>
<rect x="369.3" y="1898.51" width="9" height="9"/>
<rect x="341.88" y="1902.52" width="9" height="9"/>
<rect x="355.59" y="1909.54" width="9" height="9"/>
<rect x="383.01" y="1927.26" width="9" height="9"/>
<rect x="341.88" y="1935.62" width="9" height="9"/>
<rect x="355.59" y="1939.63" width="9" height="9"/>
<rect x="369.3" y="1938.97" width="9" height="9"/>
<path d="M192.25 1802.37V1815.41M192.25 1808.72H358.75M358.75 1802.37V1815.41" fill="none" stroke="#606060" stroke-width="1.5"/>
<text x="272.16" y="1804.38" font-size="17" text-anchor="middle" fill="#1a1a1a">n.s.</text>
<text x="94.22" y="1779.64" font-size="16.5" class="b" text-anchor="end">2.0</text>
<text x="94.22" y="1836.47" font-size="16.5" class="b" text-anchor="end">1.5</text>
<text x="94.22" y="1893.31" font-size="16.5" class="b" text-anchor="end">1.0</text>
<text x="94.22" y="1950.15" font-size="16.5" class="b" text-anchor="end">0.5</text>
<text x="94.22" y="2006.66" font-size="16.5" class="b" text-anchor="end">0.0</text>
<text x="203.95" y="2022.71" font-size="16.5" class="b" text-anchor="end" transform="rotate(-45 203.95 2022.71)">Low</text>
<text x="374.47" y="2017.69" font-size="16.5" class="b" text-anchor="end" transform="rotate(-45 374.47 2017.69)">High</text>
<text x="61.19" y="1886.79" font-size="19.8" class="b" text-anchor="middle" transform="rotate(-90 61.19 1886.79)" textLength="196.26" lengthAdjust="spacingAndGlyphs">Ratio of Keratin Flows</text>
<text x="134.41" y="2076.9" font-size="19.8" class="b" textLength="248.09" lengthAdjust="spacingAndGlyphs">Fibronectin Coating Density</text>
<text x="243.4" y="1746.87" font-size="21.5" class="b" text-anchor="middle">Front / Back</text>
<g stroke="#000" fill="#000">
<path d="M684.32 1773.52V2001.64H1028.02" fill="none" stroke-width="2.2" stroke-linejoin="miter"/>
<line x1="676.82" y1="1774.62" x2="684.32" y2="1774.62" stroke-width="2.2"/>
<line x1="676.82" y1="1820.09" x2="684.32" y2="1820.09" stroke-width="2.2"/>
<line x1="676.82" y1="1865.56" x2="684.32" y2="1865.56" stroke-width="2.2"/>
<line x1="676.82" y1="1911.03" x2="684.32" y2="1911.03" stroke-width="2.2"/>
<line x1="676.82" y1="1956.5" x2="684.32" y2="1956.5" stroke-width="2.2"/>
<line x1="676.82" y1="2001.64" x2="684.32" y2="2001.64" stroke-width="2.2"/>
<line x1="769.91" y1="2001.64" x2="769.91" y2="2009.14" stroke-width="2.2"/>
<line x1="941.09" y1="2001.64" x2="941.09" y2="2009.14" stroke-width="2.2"/>
<line x1="712.07" y1="1923.07" x2="827.75" y2="1923.07" stroke-width="2"/>
<line x1="740.49" y1="1899.33" x2="799.33" y2="1899.33" stroke-width="2"/>
<line x1="740.49" y1="1947.48" x2="799.33" y2="1947.48" stroke-width="2"/>
<line x1="769.91" y1="1899.33" x2="769.91" y2="1947.48" stroke-width="2"/>
<line x1="883.25" y1="1902.34" x2="999.27" y2="1902.34" stroke-width="2"/>
<line x1="911.67" y1="1859.54" x2="970.85" y2="1859.54" stroke-width="2"/>
<line x1="911.67" y1="1945.81" x2="970.85" y2="1945.81" stroke-width="2"/>
<line x1="941.09" y1="1859.54" x2="941.09" y2="1945.81" stroke-width="2"/>
</g>
<circle cx="769.91" cy="1880.94" r="4.7"/>
<circle cx="783.62" cy="1892.64" r="4.7"/>
<circle cx="769.91" cy="1901.67" r="4.7"/>
<circle cx="783.62" cy="1912.71" r="4.7"/>
<circle cx="756.2" cy="1916.72" r="4.7"/>
<circle cx="769.91" cy="1917.39" r="4.7"/>
<circle cx="797.33" cy="1919.39" r="4.7"/>
<circle cx="756.2" cy="1925.41" r="4.7"/>
<circle cx="769.91" cy="1930.76" r="4.7"/>
<circle cx="783.62" cy="1927.75" r="4.7"/>
<circle cx="756.2" cy="1938.12" r="4.7"/>
<circle cx="783.62" cy="1937.45" r="4.7"/>
<circle cx="769.91" cy="1949.82" r="4.7"/>
<circle cx="769.91" cy="1976.9" r="4.7"/>
<rect x="936.59" y="1795.53" width="9" height="9"/>
<rect x="936.59" y="1867.75" width="9" height="9"/>
<rect x="922.89" y="1884.13" width="9" height="9"/>
<rect x="950.3" y="1891.49" width="9" height="9"/>
<rect x="936.59" y="1896.5" width="9" height="9"/>
<rect x="922.89" y="1918.57" width="9" height="9"/>
<rect x="936.59" y="1921.91" width="9" height="9"/>
<rect x="922.89" y="1928.93" width="9" height="9"/>
<rect x="950.3" y="1936.62" width="9" height="9"/>
<rect x="936.59" y="1939.63" width="9" height="9"/>
<path d="M772.25 1838.15V1850.85M772.25 1844.5H939.76M939.76 1838.15V1850.85" fill="none" stroke="#606060" stroke-width="1.5"/>
<text x="856.17" y="1839.82" font-size="17" text-anchor="middle" fill="#1a1a1a">n.s.</text>
<text x="674.22" y="1780.97" font-size="16.5" class="b" text-anchor="end">5</text>
<text x="674.22" y="1826.44" font-size="16.5" class="b" text-anchor="end">4</text>
<text x="674.22" y="1871.91" font-size="16.5" class="b" text-anchor="end">3</text>
<text x="674.22" y="1917.39" font-size="16.5" class="b" text-anchor="end">2</text>
<text x="674.22" y="1962.86" font-size="16.5" class="b" text-anchor="end">1</text>
<text x="674.22" y="2007.99" font-size="16.5" class="b" text-anchor="end">0</text>
<text x="781.61" y="2021.7" font-size="16.5" class="b" text-anchor="end" transform="rotate(-45 781.61 2021.7)">Low</text>
<text x="954.47" y="2021.03" font-size="16.5" class="b" text-anchor="end" transform="rotate(-45 954.47 2021.03)">High</text>
<text x="655.9" y="1887.63" font-size="19.8" class="b" text-anchor="middle" transform="rotate(-90 655.9 1887.63)" textLength="196.6" lengthAdjust="spacingAndGlyphs">Ratio of Keratin Flows</text>
<text x="707.05" y="2079.24" font-size="19.8" class="b" textLength="248.75" lengthAdjust="spacingAndGlyphs">Fibronectin Coating Density</text>
<text x="823.4" y="1747.87" font-size="21.5" class="b" text-anchor="middle">Front / Center</text>
<g stroke="#000" fill="#000">
<path d="M1266.92 1773.52V2002.31H1611.57" fill="none" stroke-width="2.2" stroke-linejoin="miter"/>
<line x1="1259.42" y1="1774.62" x2="1266.92" y2="1774.62" stroke-width="2.2"/>
<line x1="1259.42" y1="1850.52" x2="1266.92" y2="1850.52" stroke-width="2.2"/>
<line x1="1259.42" y1="1926.41" x2="1266.92" y2="1926.41" stroke-width="2.2"/>
<line x1="1259.42" y1="2002.31" x2="1266.92" y2="2002.31" stroke-width="2.2"/>
<line x1="1352.78" y1="2002.31" x2="1352.78" y2="2009.81" stroke-width="2.2"/>
<line x1="1524.3" y1="2002.31" x2="1524.3" y2="2009.81" stroke-width="2.2"/>
<line x1="1294.94" y1="1931.76" x2="1410.96" y2="1931.76" stroke-width="2"/>
<line x1="1323.36" y1="1902.01" x2="1382.2" y2="1902.01" stroke-width="2"/>
<line x1="1323.36" y1="1961.85" x2="1382.2" y2="1961.85" stroke-width="2"/>
<line x1="1352.78" y1="1902.01" x2="1352.78" y2="1961.85" stroke-width="2"/>
<line x1="1466.46" y1="1890.3" x2="1582.48" y2="1890.3" stroke-width="2"/>
<line x1="1494.88" y1="1843.16" x2="1553.72" y2="1843.16" stroke-width="2"/>
<line x1="1494.88" y1="1937.45" x2="1553.72" y2="1937.45" stroke-width="2"/>
<line x1="1524.3" y1="1843.16" x2="1524.3" y2="1937.45" stroke-width="2"/>
</g>
<circle cx="1352.78" cy="1863.89" r="4.7"/>
<circle cx="1352.78" cy="1891.98" r="4.7"/>
<circle cx="1352.78" cy="1908.02" r="4.7"/>
<circle cx="1325.36" cy="1922.4" r="4.7"/>
<circle cx="1380.2" cy="1920.4" r="4.7"/>
<circle cx="1339.07" cy="1928.75" r="4.7"/>
<circle cx="1352.78" cy="1930.09" r="4.7"/>
<circle cx="1366.49" cy="1926.41" r="4.7"/>
<circle cx="1325.36" cy="1954.83" r="4.7"/>
<circle cx="1380.2" cy="1954.83" r="4.7"/>
<circle cx="1393.91" cy="1955.17" r="4.7"/>
<circle cx="1339.07" cy="1961.52" r="4.7"/>
<circle cx="1352.78" cy="1963.53" r="4.7"/>
<circle cx="1366.49" cy="1962.19" r="4.7"/>
<rect x="1519.8" y="1795.53" width="9" height="9"/>
<rect x="1519.8" y="1832.64" width="9" height="9"/>
<rect x="1519.8" y="1846.35" width="9" height="9"/>
<rect x="1533.51" y="1888.14" width="9" height="9"/>
<rect x="1519.8" y="1894.16" width="9" height="9"/>
<rect x="1533.51" y="1901.52" width="9" height="9"/>
<rect x="1506.09" y="1910.21" width="9" height="9"/>
<rect x="1519.8" y="1912.55" width="9" height="9"/>
<rect x="1533.51" y="1936.62" width="9" height="9"/>
<rect x="1519.8" y="1942.64" width="9" height="9"/>
<path d="M1355.46 1814.74V1827.45M1355.46 1821.09H1522.96M1522.96 1814.74V1827.45" fill="none" stroke="#606060" stroke-width="1.5"/>
<text x="1433.69" y="1822.77" font-size="19" text-anchor="middle" fill="#1a1a1a">*</text>
<text x="1256.82" y="1780.97" font-size="16.5" class="b" text-anchor="end">6</text>
<text x="1256.82" y="1856.87" font-size="16.5" class="b" text-anchor="end">4</text>
<text x="1256.82" y="1932.77" font-size="16.5" class="b" text-anchor="end">2</text>
<text x="1256.82" y="2008.66" font-size="16.5" class="b" text-anchor="end">0</text>
<text x="1363.48" y="2021.7" font-size="16.5" class="b" text-anchor="end" transform="rotate(-45 1363.48 2021.7)">Low</text>
<text x="1542.36" y="2022.71" font-size="16.5" class="b" text-anchor="end" transform="rotate(-45 1542.36 2022.71)">High</text>
<text x="1238.1" y="1887.63" font-size="19.8" class="b" text-anchor="middle" transform="rotate(-90 1238.1 1887.63)" textLength="196.6" lengthAdjust="spacingAndGlyphs">Ratio of Keratin Flows</text>
<text x="1294.94" y="2077.57" font-size="19.8" class="b" textLength="249.76" lengthAdjust="spacingAndGlyphs">Fibronectin Coating Density</text>
<text x="1406.95" y="1747.87" font-size="21.5" class="b" text-anchor="middle">Back / Center</text>
<g stroke="#000" fill="none">
<path d="M1127.16 483.06V783.74H1582.67" stroke-width="2.6"/>
<line x1="1118.16" y1="484.36" x2="1127.16" y2="484.36" stroke-width="2.6"/>
<line x1="1118.16" y1="559.02" x2="1127.16" y2="559.02" stroke-width="2.6"/>
<line x1="1118.16" y1="634.05" x2="1127.16" y2="634.05" stroke-width="2.6"/>
<line x1="1118.16" y1="708.71" x2="1127.16" y2="708.71" stroke-width="2.6"/>
<line x1="1118.16" y1="783.74" x2="1127.16" y2="783.74" stroke-width="2.6"/>
<line x1="1127.16" y1="783.74" x2="1127.16" y2="792.74" stroke-width="2.6"/>
<line x1="1240.44" y1="783.74" x2="1240.44" y2="792.74" stroke-width="2.6"/>
<line x1="1354.09" y1="783.74" x2="1354.09" y2="792.74" stroke-width="2.6"/>
<line x1="1467.73" y1="783.74" x2="1467.73" y2="792.74" stroke-width="2.6"/>
<line x1="1581.37" y1="783.74" x2="1581.37" y2="792.74" stroke-width="2.6"/>
</g>
<circle cx="1197.04" cy="712.39" r="6.2" fill="#0000ff"/>
<circle cx="1224.99" cy="672.3" r="6.2" fill="#0000ff"/>
<circle cx="1243.02" cy="650.6" r="6.2" fill="#0000ff"/>
<circle cx="1244.85" cy="639.2" r="6.2" fill="#0000ff"/>
<circle cx="1258.46" cy="621.18" r="6.2" fill="#0000ff"/>
<circle cx="1262.88" cy="620.44" r="6.2" fill="#0000ff"/>
<circle cx="1301.12" cy="613.45" r="6.2" fill="#0000ff"/>
<circle cx="1332.02" cy="604.63" r="6.2" fill="#0000ff"/>
<circle cx="1332.39" cy="587.34" r="6.2" fill="#0000ff"/>
<circle cx="1342.32" cy="566.38" r="6.2" fill="#0000ff"/>
<circle cx="1333.12" cy="553.14" r="6.2" fill="#0000ff"/>
<circle cx="1343.05" cy="552.4" r="6.2" fill="#0000ff"/>
<circle cx="1566.66" cy="601.32" r="6.2" fill="#0000ff"/>
<line x1="1197.04" y1="651.7" x2="1568.5" y2="509" stroke-width="4.2" stroke="#0000ff"/>
<rect x="1156.17" y="706.45" width="12.6" height="12.6" fill="#ff0000"/>
<rect x="1162.06" y="696.89" width="12.6" height="12.6" fill="#ff0000"/>
<rect x="1166.1" y="727.05" width="12.6" height="12.6" fill="#ff0000"/>
<rect x="1193.68" y="643.2" width="12.6" height="12.6" fill="#ff0000"/>
<rect x="1234.88" y="636.58" width="12.6" height="12.6" fill="#ff0000"/>
<rect x="1249.59" y="641.36" width="12.6" height="12.6" fill="#ff0000"/>
<rect x="1251.06" y="652.02" width="12.6" height="12.6" fill="#ff0000"/>
<rect x="1256.58" y="679.97" width="12.6" height="12.6" fill="#ff0000"/>
<rect x="1268.71" y="633.27" width="12.6" height="12.6" fill="#ff0000"/>
<rect x="1342.27" y="613.41" width="12.6" height="12.6" fill="#ff0000"/>
<line x1="1162.47" y1="710.55" x2="1348.57" y2="610.51" stroke-width="4.2" stroke="#ff0000"/>
<line x1="1215.43" y1="717.9" x2="1248.53" y2="717.9" stroke-width="4.2" stroke="#0000ff"/>
<circle cx="1231.98" cy="717.9" r="6.2" fill="#0000ff"/>
<line x1="1215.43" y1="758.36" x2="1248.53" y2="758.36" stroke-width="4.2" stroke="#ff0000"/>
<rect x="1225.68" y="752.06" width="12.6" height="12.6" fill="#ff0000"/>
<text x="1266.92" y="730.78" font-size="25" textLength="168.44" lengthAdjust="spacingAndGlyphs">Low Fn coating</text>
<text x="1266.92" y="770.5" font-size="25" textLength="173.96" lengthAdjust="spacingAndGlyphs">High Fn coating</text>
<text x="1537.24" y="730.78" font-size="25" textLength="104.08" lengthAdjust="spacingAndGlyphs">R<tspan dy="-10" font-size="18">2</tspan><tspan dy="10"> = 0.48</tspan></text>
<text x="1540.18" y="770.5" font-size="25" textLength="103.71" lengthAdjust="spacingAndGlyphs">R<tspan dy="-10" font-size="18">2</tspan><tspan dy="10"> = 0.65</tspan></text>
<text x="1597.56" y="492.82" font-size="24" text-anchor="middle" fill="#0000ff">**</text>
<text x="1370.27" y="618.6" font-size="24" text-anchor="middle" fill="#ff0000">**</text>
<text x="1116.06" y="492.87" font-size="23" class="b" text-anchor="end" textLength="30.85" lengthAdjust="spacingAndGlyphs">0.8</text>
<text x="1116.06" y="567.53" font-size="23" class="b" text-anchor="end" textLength="30.85" lengthAdjust="spacingAndGlyphs">0.6</text>
<text x="1116.06" y="642.56" font-size="23" class="b" text-anchor="end" textLength="30.85" lengthAdjust="spacingAndGlyphs">0.4</text>
<text x="1116.06" y="717.22" font-size="23" class="b" text-anchor="end" textLength="30.85" lengthAdjust="spacingAndGlyphs">0.2</text>
<text x="1116.06" y="792.25" font-size="23" class="b" text-anchor="end" textLength="30.85" lengthAdjust="spacingAndGlyphs">0.0</text>
<text x="1127.16" y="816.84" font-size="23" class="b" text-anchor="middle" textLength="30.85" lengthAdjust="spacingAndGlyphs">0.0</text>
<text x="1240.44" y="816.84" font-size="23" class="b" text-anchor="middle" textLength="30.85" lengthAdjust="spacingAndGlyphs">0.5</text>
<text x="1354.09" y="816.84" font-size="23" class="b" text-anchor="middle" textLength="30.85" lengthAdjust="spacingAndGlyphs">1.0</text>
<text x="1467.73" y="816.84" font-size="23" class="b" text-anchor="middle" textLength="30.85" lengthAdjust="spacingAndGlyphs">1.5</text>
<text x="1581.37" y="816.84" font-size="23" class="b" text-anchor="middle" textLength="30.85" lengthAdjust="spacingAndGlyphs">2.0</text>
<text x="1068.69" y="633.31" font-size="26" class="b" text-anchor="middle" transform="rotate(-90 1068.69 633.31)" textLength="327.33" lengthAdjust="spacingAndGlyphs">Mean Keratin Flow (µm/min)</text>
<text x="1167.62" y="848.83" font-size="25.6" class="b" textLength="372.56" lengthAdjust="spacingAndGlyphs">Mean Migration Speed (µm/min)</text>
<rect x="59" y="895.5" width="1553" height="377.5" fill="#000"/>
<filter id="hb" x="-5%" y="-5%" width="110%" height="110%"><feGaussianBlur stdDeviation="1.2"/></filter><filter id="rb" x="-5%" y="-5%" width="110%" height="110%"><feGaussianBlur stdDeviation="0.5"/></filter>
<clipPath id="cpL"><path d="M176.2 1099.2L177.9 1096.1L177.5 1093.0L179.3 1090.1L180.2 1088.0L181.4 1084.3L183.0 1081.3L184.7 1080.0L186.3 1076.4L188.1 1074.3L189.4 1070.9L191.6 1068.1L192.2 1065.4L195.3 1062.7L195.2 1060.8L198.4 1057.2L199.7 1055.7L201.9 1051.2L202.9 1050.3L204.9 1046.3L208.3 1044.9L210.7 1041.1L211.3 1039.8L214.3 1036.2L216.8 1035.9L219.0 1033.4L219.5 1030.8L221.7 1028.8L224.2 1024.9L228.1 1022.7L228.8 1020.5L231.9 1019.3L235.5 1017.8L237.0 1015.9L239.8 1013.2L241.5 1011.2L244.9 1009.6L247.8 1006.6L248.6 1004.3L252.8 1002.3L256.0 1000.3L258.1 1000.0L259.8 996.8L263.6 995.3L264.8 994.8L268.4 992.0L272.2 991.9L273.6 988.7L276.4 987.7L278.9 985.8L281.5 985.6L285.9 983.0L287.7 981.8L290.8 980.6L294.2 980.2L296.2 977.0L300.3 977.3L302.3 976.5L306.3 973.5L309.5 973.5L311.3 972.0L315.0 972.2L318.6 970.6L321.1 970.0L323.3 968.6L327.5 968.1L330.9 966.6L333.6 965.2L337.7 965.8L340.0 964.5L343.8 964.3L345.3 964.6L348.4 962.9L353.1 962.0L355.3 961.8L358.0 962.5L362.8 962.1L364.7 961.5L368.8 961.2L371.9 959.4L375.5 958.7L378.1 958.7L381.6 958.6L383.9 958.1L386.9 958.8L391.5 958.1L393.7 958.8L398.1 957.3L400.6 958.3L403.8 957.2L405.9 957.8L410.9 957.2L413.1 956.6L416.6 956.9L419.4 957.9L422.3 957.5L426.9 957.6L429.4 956.9L431.4 957.9L436.0 958.9L438.6 958.7L442.2 958.4L446.2 959.4L448.3 959.4L452.7 959.0L455.3 958.0L457.2 958.4L462.4 958.6L465.1 959.7L468.9 959.9L470.3 961.6L473.4 960.2L478.4 962.3L481.0 962.3L482.8 962.8L487.5 962.9L490.7 963.4L494.2 963.5L496.9 963.0L498.7 964.3L501.6 965.2L504.8 966.4L507.9 966.5L511.5 967.2L515.9 967.3L518.3 967.9L521.3 970.4L525.0 970.3L526.4 972.8L529.8 972.2L533.4 973.6L537.2 975.1L539.3 976.9L541.0 977.6L545.6 978.2L547.2 980.1L551.3 982.1L553.2 984.1L557.1 986.0L559.6 986.4L561.9 987.9L563.8 990.7L566.3 993.1L569.2 992.9L571.7 995.9L574.5 997.3L577.5 998.1L581.2 1000.5L583.6 1001.5L585.0 1001.7L587.7 1004.5L592.3 1007.1L594.0 1009.0L595.7 1010.5L598.4 1012.6L601.9 1014.4L603.2 1015.8L606.4 1018.5L609.7 1020.9L611.8 1022.4L612.8 1025.6L615.6 1026.4L618.2 1029.8L620.9 1031.1L621.6 1034.5L623.5 1036.0L625.8 1039.2L628.9 1040.6L631.2 1042.7L633.2 1046.3L634.7 1047.8L638.2 1051.2L639.3 1053.7L640.8 1055.1L643.1 1057.7L645.4 1060.3L647.1 1062.8L648.1 1065.9L649.4 1067.9L651.8 1070.8L654.1 1074.7L654.8 1077.8L657.6 1079.0L657.6 1082.1L659.5 1084.9L662.2 1089.3L662.2 1091.8L664.4 1094.3L665.4 1096.7L667.5 1100.8L667.1 1103.0L667.7 1107.0L670.1 1109.6L671.0 1112.1L672.1 1114.4L672.8 1119.4L671.4 1120.7L672.4 1123.9L673.7 1127.6L674.8 1130.7L675.1 1133.3L674.5 1137.7L675.4 1139.7L674.9 1143.9L674.4 1147.4L674.5 1149.4L674.7 1153.4L674.4 1157.0L675.1 1159.9L674.9 1163.1L673.5 1165.6L674.5 1169.8L672.6 1173.5L672.3 1175.5L672.1 1179.5L672.8 1181.1L671.7 1186.0L673.7 1187.8L673.4 1191.4L671.7 1194.3L672.0 1196.9L672.3 1201.7L671.6 1203.3L672.3 1206.3L670.0 1208.7L669.4 1210.2L666.5 1212.5L664.8 1214.3L662.3 1217.3L659.9 1218.8L656.2 1220.9L653.7 1222.2L651.4 1225.4L647.5 1225.6L645.0 1229.0L642.4 1228.6L638.2 1230.8L636.5 1230.9L633.2 1233.6L631.0 1233.4L626.9 1235.0L625.2 1236.4L621.4 1235.9L617.5 1237.5L615.7 1237.4L612.2 1239.2L607.9 1239.6L605.5 1238.9L602.9 1240.8L600.3 1239.3L595.1 1241.4L594.1 1241.0L589.5 1240.9L587.7 1241.9L583.6 1242.0L580.9 1242.7L577.1 1241.3L574.0 1240.8L570.0 1242.9L567.4 1242.8L564.5 1242.6L561.5 1242.2L558.1 1242.6L554.7 1242.9L551.8 1242.1L547.4 1243.0L544.9 1243.0L541.2 1242.8L537.8 1242.5L534.6 1243.2L531.4 1241.8L528.0 1243.7L525.4 1244.1L521.8 1242.7L519.8 1242.6L515.9 1243.0L511.6 1243.3L508.9 1244.8L505.5 1244.2L503.3 1243.7L500.3 1243.6L497.1 1244.1L493.4 1244.9L489.3 1244.5L486.1 1244.9L484.2 1245.0L480.2 1246.0L477.6 1245.3L473.9 1245.3L471.1 1246.1L467.4 1245.3L464.8 1246.0L461.1 1245.8L457.7 1246.6L454.2 1247.2L450.4 1246.4L447.9 1247.3L444.0 1246.6L442.8 1247.2L437.9 1246.1L436.1 1246.8L433.0 1247.9L429.4 1247.3L425.9 1247.7L421.8 1247.2L419.3 1247.2L415.8 1247.9L412.4 1246.2L410.0 1247.3L406.2 1248.1L404.3 1247.1L401.1 1246.3L396.4 1247.7L392.9 1246.3L389.9 1247.2L387.3 1246.7L384.6 1247.5L380.3 1246.6L377.2 1246.9L375.3 1244.9L371.1 1246.9L368.3 1244.7L364.3 1245.1L360.8 1246.3L358.5 1244.1L355.2 1245.7L351.2 1245.6L349.1 1244.4L345.7 1243.9L342.7 1244.9L338.4 1244.0L336.5 1243.1L332.1 1244.6L329.5 1244.4L326.9 1243.4L322.0 1244.0L319.4 1242.9L317.4 1243.4L314.1 1242.6L310.2 1242.8L307.7 1242.0L304.7 1243.7L301.2 1242.1L298.0 1241.7L293.2 1241.7L291.1 1241.4L288.0 1242.9L284.6 1242.6L281.8 1243.1L276.9 1242.4L275.3 1243.0L272.0 1242.7L267.8 1242.9L264.6 1242.0L262.2 1242.4L258.3 1241.3L256.1 1241.4L252.2 1240.9L249.7 1241.3L247.0 1240.7L242.3 1240.8L238.8 1241.7L237.3 1240.0L233.3 1241.0L231.1 1239.9L227.2 1238.8L224.9 1239.3L220.8 1238.2L217.6 1236.8L213.7 1237.2L211.1 1235.6L207.3 1234.6L204.5 1233.5L202.8 1233.3L198.2 1231.2L195.9 1231.1L194.0 1228.6L190.7 1227.6L187.8 1225.9L183.8 1224.9L181.7 1223.1L179.4 1219.5L177.9 1218.2L174.1 1216.6L172.4 1213.1L170.9 1211.5L170.7 1207.2L169.1 1205.0L167.4 1202.1L167.8 1198.0L166.7 1194.3L167.7 1191.9L166.3 1189.8L165.5 1185.2L166.6 1183.0L167.0 1178.4L165.9 1175.6L166.6 1171.9L166.0 1170.0L166.0 1166.8L166.9 1163.6L166.7 1159.4L165.1 1157.2L166.7 1153.0L166.3 1150.2L167.6 1146.9L166.3 1143.7L166.8 1139.8L166.7 1137.9L167.9 1134.9L167.7 1131.5L169.4 1128.4L170.4 1124.1L170.8 1120.9L171.6 1118.6L171.4 1116.3L173.4 1111.6L173.3 1109.1L175.1 1106.0L175.6 1103.1Z"/></clipPath>
<path d="M176.2 1099.2L177.9 1096.1L177.5 1093.0L179.3 1090.1L180.2 1088.0L181.4 1084.3L183.0 1081.3L184.7 1080.0L186.3 1076.4L188.1 1074.3L189.4 1070.9L191.6 1068.1L192.2 1065.4L195.3 1062.7L195.2 1060.8L198.4 1057.2L199.7 1055.7L201.9 1051.2L202.9 1050.3L204.9 1046.3L208.3 1044.9L210.7 1041.1L211.3 1039.8L214.3 1036.2L216.8 1035.9L219.0 1033.4L219.5 1030.8L221.7 1028.8L224.2 1024.9L228.1 1022.7L228.8 1020.5L231.9 1019.3L235.5 1017.8L237.0 1015.9L239.8 1013.2L241.5 1011.2L244.9 1009.6L247.8 1006.6L248.6 1004.3L252.8 1002.3L256.0 1000.3L258.1 1000.0L259.8 996.8L263.6 995.3L264.8 994.8L268.4 992.0L272.2 991.9L273.6 988.7L276.4 987.7L278.9 985.8L281.5 985.6L285.9 983.0L287.7 981.8L290.8 980.6L294.2 980.2L296.2 977.0L300.3 977.3L302.3 976.5L306.3 973.5L309.5 973.5L311.3 972.0L315.0 972.2L318.6 970.6L321.1 970.0L323.3 968.6L327.5 968.1L330.9 966.6L333.6 965.2L337.7 965.8L340.0 964.5L343.8 964.3L345.3 964.6L348.4 962.9L353.1 962.0L355.3 961.8L358.0 962.5L362.8 962.1L364.7 961.5L368.8 961.2L371.9 959.4L375.5 958.7L378.1 958.7L381.6 958.6L383.9 958.1L386.9 958.8L391.5 958.1L393.7 958.8L398.1 957.3L400.6 958.3L403.8 957.2L405.9 957.8L410.9 957.2L413.1 956.6L416.6 956.9L419.4 957.9L422.3 957.5L426.9 957.6L429.4 956.9L431.4 957.9L436.0 958.9L438.6 958.7L442.2 958.4L446.2 959.4L448.3 959.4L452.7 959.0L455.3 958.0L457.2 958.4L462.4 958.6L465.1 959.7L468.9 959.9L470.3 961.6L473.4 960.2L478.4 962.3L481.0 962.3L482.8 962.8L487.5 962.9L490.7 963.4L494.2 963.5L496.9 963.0L498.7 964.3L501.6 965.2L504.8 966.4L507.9 966.5L511.5 967.2L515.9 967.3L518.3 967.9L521.3 970.4L525.0 970.3L526.4 972.8L529.8 972.2L533.4 973.6L537.2 975.1L539.3 976.9L541.0 977.6L545.6 978.2L547.2 980.1L551.3 982.1L553.2 984.1L557.1 986.0L559.6 986.4L561.9 987.9L563.8 990.7L566.3 993.1L569.2 992.9L571.7 995.9L574.5 997.3L577.5 998.1L581.2 1000.5L583.6 1001.5L585.0 1001.7L587.7 1004.5L592.3 1007.1L594.0 1009.0L595.7 1010.5L598.4 1012.6L601.9 1014.4L603.2 1015.8L606.4 1018.5L609.7 1020.9L611.8 1022.4L612.8 1025.6L615.6 1026.4L618.2 1029.8L620.9 1031.1L621.6 1034.5L623.5 1036.0L625.8 1039.2L628.9 1040.6L631.2 1042.7L633.2 1046.3L634.7 1047.8L638.2 1051.2L639.3 1053.7L640.8 1055.1L643.1 1057.7L645.4 1060.3L647.1 1062.8L648.1 1065.9L649.4 1067.9L651.8 1070.8L654.1 1074.7L654.8 1077.8L657.6 1079.0L657.6 1082.1L659.5 1084.9L662.2 1089.3L662.2 1091.8L664.4 1094.3L665.4 1096.7L667.5 1100.8L667.1 1103.0L667.7 1107.0L670.1 1109.6L671.0 1112.1L672.1 1114.4L672.8 1119.4L671.4 1120.7L672.4 1123.9L673.7 1127.6L674.8 1130.7L675.1 1133.3L674.5 1137.7L675.4 1139.7L674.9 1143.9L674.4 1147.4L674.5 1149.4L674.7 1153.4L674.4 1157.0L675.1 1159.9L674.9 1163.1L673.5 1165.6L674.5 1169.8L672.6 1173.5L672.3 1175.5L672.1 1179.5L672.8 1181.1L671.7 1186.0L673.7 1187.8L673.4 1191.4L671.7 1194.3L672.0 1196.9L672.3 1201.7L671.6 1203.3L672.3 1206.3L670.0 1208.7L669.4 1210.2L666.5 1212.5L664.8 1214.3L662.3 1217.3L659.9 1218.8L656.2 1220.9L653.7 1222.2L651.4 1225.4L647.5 1225.6L645.0 1229.0L642.4 1228.6L638.2 1230.8L636.5 1230.9L633.2 1233.6L631.0 1233.4L626.9 1235.0L625.2 1236.4L621.4 1235.9L617.5 1237.5L615.7 1237.4L612.2 1239.2L607.9 1239.6L605.5 1238.9L602.9 1240.8L600.3 1239.3L595.1 1241.4L594.1 1241.0L589.5 1240.9L587.7 1241.9L583.6 1242.0L580.9 1242.7L577.1 1241.3L574.0 1240.8L570.0 1242.9L567.4 1242.8L564.5 1242.6L561.5 1242.2L558.1 1242.6L554.7 1242.9L551.8 1242.1L547.4 1243.0L544.9 1243.0L541.2 1242.8L537.8 1242.5L534.6 1243.2L531.4 1241.8L528.0 1243.7L525.4 1244.1L521.8 1242.7L519.8 1242.6L515.9 1243.0L511.6 1243.3L508.9 1244.8L505.5 1244.2L503.3 1243.7L500.3 1243.6L497.1 1244.1L493.4 1244.9L489.3 1244.5L486.1 1244.9L484.2 1245.0L480.2 1246.0L477.6 1245.3L473.9 1245.3L471.1 1246.1L467.4 1245.3L464.8 1246.0L461.1 1245.8L457.7 1246.6L454.2 1247.2L450.4 1246.4L447.9 1247.3L444.0 1246.6L442.8 1247.2L437.9 1246.1L436.1 1246.8L433.0 1247.9L429.4 1247.3L425.9 1247.7L421.8 1247.2L419.3 1247.2L415.8 1247.9L412.4 1246.2L410.0 1247.3L406.2 1248.1L404.3 1247.1L401.1 1246.3L396.4 1247.7L392.9 1246.3L389.9 1247.2L387.3 1246.7L384.6 1247.5L380.3 1246.6L377.2 1246.9L375.3 1244.9L371.1 1246.9L368.3 1244.7L364.3 1245.1L360.8 1246.3L358.5 1244.1L355.2 1245.7L351.2 1245.6L349.1 1244.4L345.7 1243.9L342.7 1244.9L338.4 1244.0L336.5 1243.1L332.1 1244.6L329.5 1244.4L326.9 1243.4L322.0 1244.0L319.4 1242.9L317.4 1243.4L314.1 1242.6L310.2 1242.8L307.7 1242.0L304.7 1243.7L301.2 1242.1L298.0 1241.7L293.2 1241.7L291.1 1241.4L288.0 1242.9L284.6 1242.6L281.8 1243.1L276.9 1242.4L275.3 1243.0L272.0 1242.7L267.8 1242.9L264.6 1242.0L262.2 1242.4L258.3 1241.3L256.1 1241.4L252.2 1240.9L249.7 1241.3L247.0 1240.7L242.3 1240.8L238.8 1241.7L237.3 1240.0L233.3 1241.0L231.1 1239.9L227.2 1238.8L224.9 1239.3L220.8 1238.2L217.6 1236.8L213.7 1237.2L211.1 1235.6L207.3 1234.6L204.5 1233.5L202.8 1233.3L198.2 1231.2L195.9 1231.1L194.0 1228.6L190.7 1227.6L187.8 1225.9L183.8 1224.9L181.7 1223.1L179.4 1219.5L177.9 1218.2L174.1 1216.6L172.4 1213.1L170.9 1211.5L170.7 1207.2L169.1 1205.0L167.4 1202.1L167.8 1198.0L166.7 1194.3L167.7 1191.9L166.3 1189.8L165.5 1185.2L166.6 1183.0L167.0 1178.4L165.9 1175.6L166.6 1171.9L166.0 1170.0L166.0 1166.8L166.9 1163.6L166.7 1159.4L165.1 1157.2L166.7 1153.0L166.3 1150.2L167.6 1146.9L166.3 1143.7L166.8 1139.8L166.7 1137.9L167.9 1134.9L167.7 1131.5L169.4 1128.4L170.4 1124.1L170.8 1120.9L171.6 1118.6L171.4 1116.3L173.4 1111.6L173.3 1109.1L175.1 1106.0L175.6 1103.1Z" fill="#0008f0" stroke="#0000b0" stroke-width="2.4" stroke-linejoin="round" filter="url(#rb)"/>
<g clip-path="url(#cpL)"><g transform="translate(161 952)" filter="url(#hb)" shape-rendering="crispEdges">
<path fill="#004dff" d="M240 196h8v4h-8zM228 200h4v4h-4zM240 200h24v4h-24zM232 204h56v4h-56zM232 208h56v4h-56zM216 212h8v4h-8zM232 212h40v4h-40zM280 212h4v4h-4zM288 212h4v4h-4zM236 216h36v4h-36zM232 220h40v4h-40zM280 220h4v4h-4zM256 224h12v4h-12z"/>
<path fill="#0064fb" d="M256 184h4v4h-4zM228 188h4v4h-4zM236 188h4v4h-4zM248 188h16v4h-16zM224 192h60v4h-60zM296 192h4v4h-4zM208 196h32v4h-32zM248 196h48v4h-48zM188 200h4v4h-4zM196 200h32v4h-32zM232 200h8v4h-8zM264 200h48v4h-48zM200 204h32v4h-32zM288 204h24v4h-24zM196 208h36v4h-36zM288 208h24v4h-24zM192 212h24v4h-24zM224 212h8v4h-8zM272 212h8v4h-8zM284 212h4v4h-4zM292 212h20v4h-20zM192 216h44v4h-44zM272 216h40v4h-40zM196 220h36v4h-36zM272 220h8v4h-8zM284 220h8v4h-8zM200 224h8v4h-8zM212 224h44v4h-44zM268 224h8v4h-8zM280 224h8v4h-8zM224 228h48v4h-48z"/>
<path fill="#0066ce" d="M256 180h8v4h-8zM224 184h32v4h-32zM260 184h28v4h-28zM204 188h24v4h-24zM232 188h4v4h-4zM240 188h8v4h-8zM264 188h44v4h-44zM188 192h36v4h-36zM284 192h12v4h-12zM300 192h16v4h-16zM184 196h24v4h-24zM296 196h24v4h-24zM180 200h8v4h-8zM192 200h4v4h-4zM312 200h8v4h-8zM176 204h24v4h-24zM312 204h8v4h-8zM176 208h20v4h-20zM312 208h12v4h-12zM176 212h16v4h-16zM312 212h8v4h-8zM176 216h16v4h-16zM312 216h4v4h-4zM184 220h12v4h-12zM292 220h28v4h-28zM188 224h12v4h-12zM208 224h4v4h-4zM276 224h4v4h-4zM288 224h24v4h-24zM204 228h20v4h-20zM272 228h24v4h-24zM224 232h52v4h-52z"/>
<path fill="#0067a1" d="M212 180h4v4h-4zM224 180h32v4h-32zM264 180h24v4h-24zM208 184h16v4h-16zM288 184h20v4h-20zM184 188h20v4h-20zM308 188h16v4h-16zM180 192h8v4h-8zM316 192h16v4h-16zM176 196h8v4h-8zM320 196h16v4h-16zM172 200h8v4h-8zM320 200h16v4h-16zM164 204h12v4h-12zM320 204h24v4h-24zM164 208h12v4h-12zM324 208h20v4h-20zM172 212h4v4h-4zM320 212h28v4h-28zM172 216h4v4h-4zM316 216h24v4h-24zM176 220h8v4h-8zM320 220h16v4h-16zM180 224h8v4h-8zM312 224h20v4h-20zM192 228h12v4h-12zM296 228h24v4h-24zM204 232h20v4h-20zM276 232h20v4h-20zM304 232h4v4h-4zM236 236h48v4h-48z"/>
<path fill="#006975" d="M244 172h4v4h-4zM212 176h4v4h-4zM232 176h68v4h-68zM196 180h4v4h-4zM204 180h8v4h-8zM216 180h8v4h-8zM288 180h36v4h-36zM192 184h16v4h-16zM308 184h20v4h-20zM176 188h8v4h-8zM324 188h20v4h-20zM172 192h8v4h-8zM332 192h20v4h-20zM164 196h12v4h-12zM336 196h16v4h-16zM160 200h12v4h-12zM336 200h16v4h-16zM152 204h12v4h-12zM344 204h16v4h-16zM152 208h12v4h-12zM344 208h16v4h-16zM156 212h16v4h-16zM348 212h16v4h-16zM160 216h12v4h-12zM340 216h20v4h-20zM164 220h12v4h-12zM336 220h16v4h-16zM176 224h4v4h-4zM332 224h20v4h-20zM180 228h12v4h-12zM320 228h8v4h-8zM188 232h16v4h-16zM296 232h8v4h-8zM308 232h12v4h-12zM212 236h24v4h-24zM284 236h12v4h-12zM240 240h44v4h-44z"/>
<path fill="#006851" d="M244 168h4v4h-4zM208 172h8v4h-8zM232 172h12v4h-12zM248 172h56v4h-56zM192 176h20v4h-20zM216 176h16v4h-16zM300 176h16v4h-16zM320 176h8v4h-8zM188 180h8v4h-8zM200 180h4v4h-4zM324 180h8v4h-8zM168 184h24v4h-24zM328 184h28v4h-28zM164 188h12v4h-12zM344 188h16v4h-16zM156 192h16v4h-16zM352 192h8v4h-8zM148 196h16v4h-16zM352 196h16v4h-16zM144 200h16v4h-16zM352 200h16v4h-16zM144 204h8v4h-8zM360 204h12v4h-12zM144 208h8v4h-8zM360 208h12v4h-12zM148 212h8v4h-8zM364 212h8v4h-8zM152 216h8v4h-8zM360 216h8v4h-8zM148 220h4v4h-4zM156 220h8v4h-8zM352 220h12v4h-12zM160 224h16v4h-16zM352 224h8v4h-8zM172 228h8v4h-8zM328 228h24v4h-24zM180 232h8v4h-8zM320 232h12v4h-12zM184 236h28v4h-28zM296 236h28v4h-28zM216 240h24v4h-24zM284 240h12v4h-12zM244 244h12v4h-12zM272 244h8v4h-8z"/>
<path fill="#00662f" d="M240 164h8v4h-8zM256 164h8v4h-8zM280 164h4v4h-4zM200 168h44v4h-44zM248 168h68v4h-68zM192 172h16v4h-16zM216 172h16v4h-16zM304 172h24v4h-24zM176 176h16v4h-16zM316 176h4v4h-4zM328 176h20v4h-20zM160 180h28v4h-28zM332 180h28v4h-28zM152 184h16v4h-16zM356 184h8v4h-8zM144 188h20v4h-20zM360 188h12v4h-12zM140 192h16v4h-16zM360 192h16v4h-16zM140 196h8v4h-8zM368 196h12v4h-12zM136 200h8v4h-8zM368 200h16v4h-16zM136 204h8v4h-8zM372 204h8v4h-8zM136 208h8v4h-8zM372 208h8v4h-8zM136 212h12v4h-12zM372 212h12v4h-12zM136 216h16v4h-16zM368 216h12v4h-12zM140 220h8v4h-8zM152 220h4v4h-4zM364 220h12v4h-12zM144 224h16v4h-16zM360 224h12v4h-12zM156 228h16v4h-16zM352 228h12v4h-12zM168 232h12v4h-12zM332 232h24v4h-24zM176 236h8v4h-8zM324 236h20v4h-20zM184 240h32v4h-32zM296 240h24v4h-24zM208 244h36v4h-36zM256 244h16v4h-16zM280 244h20v4h-20z"/>
<path fill="#00650e" d="M232 160h32v4h-32zM200 164h40v4h-40zM248 164h8v4h-8zM264 164h16v4h-16zM284 164h36v4h-36zM176 168h24v4h-24zM316 168h12v4h-12zM336 168h4v4h-4zM164 172h4v4h-4zM176 172h16v4h-16zM328 172h24v4h-24zM152 176h24v4h-24zM348 176h12v4h-12zM152 180h8v4h-8zM360 180h8v4h-8zM144 184h8v4h-8zM364 184h12v4h-12zM132 188h12v4h-12zM372 188h8v4h-8zM124 192h16v4h-16zM376 192h8v4h-8zM128 196h12v4h-12zM380 196h4v4h-4zM128 200h8v4h-8zM384 200h4v4h-4zM128 204h8v4h-8zM380 204h12v4h-12zM128 208h8v4h-8zM380 208h12v4h-12zM128 212h8v4h-8zM128 216h8v4h-8zM380 216h4v4h-4zM124 220h4v4h-4zM132 220h8v4h-8zM376 220h8v4h-8zM136 224h8v4h-8zM372 224h8v4h-8zM144 228h12v4h-12zM364 228h8v4h-8zM152 232h16v4h-16zM356 232h8v4h-8zM156 236h20v4h-20zM344 236h8v4h-8zM164 240h4v4h-4zM172 240h12v4h-12zM320 240h24v4h-24zM180 244h4v4h-4zM196 244h12v4h-12zM300 244h20v4h-20zM224 248h72v4h-72z"/>
<path fill="#007100" d="M232 156h40v4h-40zM288 156h4v4h-4zM200 160h32v4h-32zM264 160h56v4h-56zM176 164h24v4h-24zM320 164h12v4h-12zM336 164h8v4h-8zM168 168h8v4h-8zM328 168h8v4h-8zM340 168h8v4h-8zM152 172h12v4h-12zM168 172h8v4h-8zM352 172h12v4h-12zM136 176h16v4h-16zM360 176h16v4h-16zM132 180h20v4h-20zM368 180h8v4h-8zM128 184h16v4h-16zM376 184h12v4h-12zM120 188h12v4h-12zM380 188h8v4h-8zM120 192h4v4h-4zM384 192h8v4h-8zM116 196h12v4h-12zM384 196h12v4h-12zM116 200h12v4h-12zM388 200h12v4h-12zM116 204h12v4h-12zM392 204h4v4h-4zM116 208h12v4h-12zM392 208h4v4h-4zM120 212h8v4h-8zM384 212h12v4h-12zM120 216h8v4h-8zM384 216h12v4h-12zM116 220h8v4h-8zM128 220h4v4h-4zM384 220h8v4h-8zM120 224h16v4h-16zM380 224h12v4h-12zM132 228h12v4h-12zM372 228h8v4h-8zM136 232h16v4h-16zM364 232h12v4h-12zM148 236h8v4h-8zM352 236h12v4h-12zM368 236h4v4h-4zM152 240h12v4h-12zM168 240h4v4h-4zM344 240h8v4h-8zM176 244h4v4h-4zM184 244h12v4h-12zM320 244h28v4h-28zM200 248h24v4h-24zM296 248h20v4h-20zM240 252h8v4h-8z"/>
<path fill="#008600" d="M224 152h8v4h-8zM240 152h24v4h-24zM272 152h8v4h-8zM196 156h36v4h-36zM272 156h16v4h-16zM292 156h28v4h-28zM172 160h28v4h-28zM320 160h20v4h-20zM164 164h12v4h-12zM332 164h4v4h-4zM344 164h8v4h-8zM140 168h4v4h-4zM148 168h20v4h-20zM348 168h16v4h-16zM136 172h16v4h-16zM364 172h12v4h-12zM124 176h12v4h-12zM376 176h4v4h-4zM124 180h8v4h-8zM376 180h16v4h-16zM116 184h12v4h-12zM388 184h8v4h-8zM112 188h8v4h-8zM388 188h8v4h-8zM108 192h12v4h-12zM392 192h12v4h-12zM108 196h8v4h-8zM396 196h8v4h-8zM108 200h8v4h-8zM400 200h4v4h-4zM108 204h8v4h-8zM396 204h12v4h-12zM108 208h8v4h-8zM396 208h12v4h-12zM108 212h12v4h-12zM396 212h8v4h-8zM108 216h12v4h-12zM396 216h8v4h-8zM112 220h4v4h-4zM392 220h12v4h-12zM112 224h8v4h-8zM392 224h4v4h-4zM120 228h12v4h-12zM380 228h16v4h-16zM124 232h12v4h-12zM376 232h8v4h-8zM136 236h12v4h-12zM364 236h4v4h-4zM372 236h4v4h-4zM148 240h4v4h-4zM352 240h12v4h-12zM368 240h4v4h-4zM156 244h20v4h-20zM348 244h12v4h-12zM176 248h24v4h-24zM316 248h24v4h-24zM204 252h4v4h-4zM212 252h28v4h-28zM248 252h56v4h-56z"/>
<path fill="#009c00" d="M256 148h8v4h-8zM272 148h8v4h-8zM192 152h32v4h-32zM232 152h8v4h-8zM264 152h8v4h-8zM280 152h36v4h-36zM172 156h24v4h-24zM320 156h16v4h-16zM156 160h16v4h-16zM340 160h8v4h-8zM352 160h8v4h-8zM140 164h4v4h-4zM148 164h16v4h-16zM352 164h12v4h-12zM132 168h8v4h-8zM144 168h4v4h-4zM364 168h8v4h-8zM124 172h12v4h-12zM376 172h4v4h-4zM120 176h4v4h-4zM380 176h8v4h-8zM112 180h12v4h-12zM392 180h8v4h-8zM108 184h8v4h-8zM396 184h4v4h-4zM104 188h8v4h-8zM396 188h8v4h-8zM104 192h4v4h-4zM404 192h4v4h-4zM104 196h4v4h-4zM404 196h8v4h-8zM104 200h4v4h-4zM404 200h8v4h-8zM100 204h8v4h-8zM408 204h4v4h-4zM100 208h8v4h-8zM408 208h4v4h-4zM104 212h4v4h-4zM404 212h4v4h-4zM104 216h4v4h-4zM404 216h4v4h-4zM108 220h4v4h-4zM404 220h4v4h-4zM396 224h8v4h-8zM116 228h4v4h-4zM396 228h4v4h-4zM120 232h4v4h-4zM384 232h12v4h-12zM128 236h8v4h-8zM376 236h12v4h-12zM136 240h12v4h-12zM364 240h4v4h-4zM372 240h4v4h-4zM144 244h12v4h-12zM168 248h8v4h-8zM340 248h12v4h-12zM196 252h8v4h-8zM208 252h4v4h-4zM304 252h12v4h-12z"/>
<path fill="#00b100" d="M228 144h4v4h-4zM248 144h16v4h-16zM192 148h64v4h-64zM264 148h8v4h-8zM280 148h36v4h-36zM176 152h16v4h-16zM316 152h20v4h-20zM156 156h16v4h-16zM336 156h8v4h-8zM352 156h4v4h-4zM148 160h8v4h-8zM348 160h4v4h-4zM132 164h8v4h-8zM144 164h4v4h-4zM364 164h8v4h-8zM124 168h8v4h-8zM372 168h16v4h-16zM116 172h8v4h-8zM380 172h12v4h-12zM112 176h8v4h-8zM388 176h12v4h-12zM108 180h4v4h-4zM400 180h4v4h-4zM104 184h4v4h-4zM400 184h8v4h-8zM100 188h4v4h-4zM404 188h8v4h-8zM96 192h8v4h-8zM408 192h4v4h-4zM100 196h4v4h-4zM412 196h4v4h-4zM96 200h8v4h-8zM412 200h4v4h-4zM96 204h4v4h-4zM412 204h4v4h-4zM96 208h4v4h-4zM412 208h4v4h-4zM96 212h8v4h-8zM408 212h4v4h-4zM100 216h4v4h-4zM408 216h4v4h-4zM104 220h4v4h-4zM408 220h4v4h-4zM104 224h8v4h-8zM404 224h4v4h-4zM108 228h8v4h-8zM112 232h8v4h-8zM396 232h4v4h-4zM116 236h12v4h-12zM388 236h4v4h-4zM128 240h8v4h-8zM376 240h4v4h-4zM136 244h8v4h-8zM360 244h12v4h-12zM152 248h16v4h-16zM352 248h8v4h-8zM172 252h4v4h-4zM180 252h16v4h-16zM316 252h12v4h-12zM236 256h12v4h-12zM280 256h4v4h-4z"/>
<path fill="#00c300" d="M208 144h20v4h-20zM232 144h16v4h-16zM264 144h44v4h-44zM176 148h16v4h-16zM316 148h20v4h-20zM164 152h12v4h-12zM336 152h8v4h-8zM152 156h4v4h-4zM344 156h8v4h-8zM356 156h4v4h-4zM136 160h12v4h-12zM360 160h16v4h-16zM124 164h8v4h-8zM372 164h16v4h-16zM112 168h12v4h-12zM388 168h4v4h-4zM108 172h8v4h-8zM392 172h8v4h-8zM104 176h8v4h-8zM400 176h4v4h-4zM100 180h8v4h-8zM404 180h8v4h-8zM92 184h12v4h-12zM408 184h8v4h-8zM96 188h4v4h-4zM412 188h4v4h-4zM92 192h4v4h-4zM412 192h4v4h-4zM88 196h12v4h-12zM416 196h4v4h-4zM88 200h8v4h-8zM416 200h4v4h-4zM88 204h8v4h-8zM416 204h4v4h-4zM88 208h8v4h-8zM416 208h4v4h-4zM92 212h4v4h-4zM412 212h4v4h-4zM92 216h8v4h-8zM412 216h4v4h-4zM96 220h8v4h-8zM412 220h4v4h-4zM100 224h4v4h-4zM408 224h4v4h-4zM96 228h12v4h-12zM400 228h12v4h-12zM100 232h12v4h-12zM400 232h4v4h-4zM108 236h8v4h-8zM392 236h8v4h-8zM116 240h12v4h-12zM380 240h12v4h-12zM124 244h12v4h-12zM372 244h4v4h-4zM140 248h12v4h-12zM360 248h4v4h-4zM160 252h12v4h-12zM176 252h4v4h-4zM328 252h16v4h-16zM200 256h8v4h-8zM212 256h24v4h-24zM248 256h32v4h-32zM284 256h20v4h-20z"/>
<path fill="#00d600" d="M208 140h72v4h-72zM288 140h4v4h-4zM296 140h8v4h-8zM184 144h24v4h-24zM308 144h20v4h-20zM168 148h8v4h-8zM336 148h8v4h-8zM140 152h4v4h-4zM148 152h16v4h-16zM344 152h16v4h-16zM136 156h16v4h-16zM360 156h12v4h-12zM128 160h8v4h-8zM376 160h12v4h-12zM112 164h12v4h-12zM388 164h4v4h-4zM108 168h4v4h-4zM392 168h8v4h-8zM104 172h4v4h-4zM400 172h4v4h-4zM96 176h8v4h-8zM404 176h4v4h-4zM88 180h12v4h-12zM412 180h4v4h-4zM88 184h4v4h-4zM416 184h4v4h-4zM84 188h12v4h-12zM416 188h4v4h-4zM84 192h8v4h-8zM416 192h8v4h-8zM84 196h4v4h-4zM420 196h4v4h-4zM84 200h4v4h-4zM420 200h4v4h-4zM84 204h4v4h-4zM420 204h4v4h-4zM84 208h4v4h-4zM420 208h4v4h-4zM84 212h8v4h-8zM416 212h4v4h-4zM84 216h8v4h-8zM416 216h4v4h-4zM84 220h12v4h-12zM416 220h8v4h-8zM92 224h8v4h-8zM412 224h8v4h-8zM412 228h4v4h-4zM96 232h4v4h-4zM404 232h8v4h-8zM104 236h4v4h-4zM400 236h4v4h-4zM108 240h8v4h-8zM392 240h4v4h-4zM120 244h4v4h-4zM376 244h12v4h-12zM132 248h8v4h-8zM364 248h8v4h-8zM148 252h12v4h-12zM344 252h12v4h-12zM184 256h16v4h-16zM208 256h4v4h-4zM304 256h16v4h-16z"/>
<path fill="#00e900" d="M208 136h8v4h-8zM224 136h72v4h-72zM188 140h20v4h-20zM280 140h8v4h-8zM292 140h4v4h-4zM304 140h24v4h-24zM160 144h24v4h-24zM328 144h16v4h-16zM140 148h4v4h-4zM148 148h20v4h-20zM344 148h16v4h-16zM136 152h4v4h-4zM144 152h4v4h-4zM360 152h16v4h-16zM128 156h8v4h-8zM372 156h16v4h-16zM116 160h12v4h-12zM388 160h4v4h-4zM104 164h8v4h-8zM392 164h8v4h-8zM100 168h8v4h-8zM400 168h8v4h-8zM92 172h12v4h-12zM404 172h8v4h-8zM88 176h8v4h-8zM408 176h8v4h-8zM416 180h4v4h-4zM84 184h4v4h-4zM420 184h4v4h-4zM80 188h4v4h-4zM420 188h8v4h-8zM80 192h4v4h-4zM424 192h4v4h-4zM80 196h4v4h-4zM424 196h4v4h-4zM80 200h4v4h-4zM424 200h4v4h-4zM80 204h4v4h-4zM424 204h8v4h-8zM80 208h4v4h-4zM424 208h4v4h-4zM80 212h4v4h-4zM420 212h8v4h-8zM80 216h4v4h-4zM420 216h8v4h-8zM80 220h4v4h-4zM80 224h12v4h-12zM420 224h4v4h-4zM88 228h8v4h-8zM416 228h4v4h-4zM412 232h4v4h-4zM96 236h8v4h-8zM404 236h8v4h-8zM104 240h4v4h-4zM396 240h8v4h-8zM112 244h8v4h-8zM388 244h8v4h-8zM120 248h12v4h-12zM372 248h8v4h-8zM144 252h4v4h-4zM356 252h8v4h-8zM160 256h24v4h-24zM320 256h24v4h-24z"/>
<path fill="#00fc00" d="M208 132h8v4h-8zM224 132h48v4h-48zM280 132h4v4h-4zM288 132h8v4h-8zM196 136h12v4h-12zM216 136h8v4h-8zM296 136h20v4h-20zM320 136h4v4h-4zM160 140h28v4h-28zM328 140h12v4h-12zM148 144h12v4h-12zM344 144h16v4h-16zM136 148h4v4h-4zM144 148h4v4h-4zM360 148h16v4h-16zM120 152h16v4h-16zM376 152h12v4h-12zM116 156h12v4h-12zM388 156h4v4h-4zM100 160h16v4h-16zM392 160h8v4h-8zM96 164h8v4h-8zM400 164h8v4h-8zM92 168h8v4h-8zM408 168h8v4h-8zM84 172h8v4h-8zM412 172h8v4h-8zM80 176h8v4h-8zM416 176h8v4h-8zM80 180h8v4h-8zM420 180h8v4h-8zM80 184h4v4h-4zM424 184h4v4h-4zM76 188h4v4h-4zM428 188h8v4h-8zM76 192h4v4h-4zM428 192h8v4h-8zM76 196h4v4h-4zM428 196h4v4h-4zM76 200h4v4h-4zM428 200h4v4h-4zM72 204h8v4h-8zM72 208h8v4h-8zM428 208h4v4h-4zM76 212h4v4h-4zM428 212h8v4h-8zM76 216h4v4h-4zM428 216h4v4h-4zM76 220h4v4h-4zM424 220h4v4h-4zM424 224h4v4h-4zM84 228h4v4h-4zM420 228h4v4h-4zM88 232h8v4h-8zM416 232h8v4h-8zM92 236h4v4h-4zM412 236h4v4h-4zM96 240h8v4h-8zM404 240h8v4h-8zM104 244h8v4h-8zM396 244h8v4h-8zM116 248h4v4h-4zM380 248h12v4h-12zM128 252h16v4h-16zM364 252h16v4h-16zM148 256h12v4h-12zM344 256h8v4h-8zM200 260h108v4h-108z"/>
<path fill="#1fff00" d="M228 128h20v4h-20zM272 128h20v4h-20zM200 132h8v4h-8zM216 132h8v4h-8zM272 132h8v4h-8zM284 132h4v4h-4zM296 132h16v4h-16zM320 132h4v4h-4zM168 136h28v4h-28zM316 136h4v4h-4zM324 136h12v4h-12zM148 140h12v4h-12zM340 140h20v4h-20zM140 144h8v4h-8zM360 144h16v4h-16zM120 148h16v4h-16zM376 148h12v4h-12zM116 152h4v4h-4zM388 152h4v4h-4zM100 156h16v4h-16zM392 156h8v4h-8zM96 160h4v4h-4zM400 160h12v4h-12zM92 164h4v4h-4zM408 164h8v4h-8zM84 168h8v4h-8zM416 168h8v4h-8zM80 172h4v4h-4zM420 172h8v4h-8zM424 176h8v4h-8zM76 180h4v4h-4zM428 180h4v4h-4zM76 184h4v4h-4zM428 184h8v4h-8zM68 188h8v4h-8zM436 188h4v4h-4zM68 192h8v4h-8zM436 192h4v4h-4zM68 196h8v4h-8zM432 196h4v4h-4zM68 200h8v4h-8zM432 200h4v4h-4zM68 204h4v4h-4zM432 204h4v4h-4zM68 208h4v4h-4zM432 208h4v4h-4zM72 212h4v4h-4zM72 216h4v4h-4zM432 216h4v4h-4zM72 220h4v4h-4zM428 220h4v4h-4zM76 224h4v4h-4zM428 224h4v4h-4zM76 228h8v4h-8zM424 228h4v4h-4zM84 232h4v4h-4zM88 236h4v4h-4zM416 236h4v4h-4zM92 240h4v4h-4zM412 240h4v4h-4zM100 244h4v4h-4zM404 244h4v4h-4zM112 248h4v4h-4zM392 248h4v4h-4zM124 252h4v4h-4zM380 252h4v4h-4zM144 256h4v4h-4zM352 256h8v4h-8zM184 260h16v4h-16zM308 260h12v4h-12zM328 260h4v4h-4z"/>
<path fill="#4f0" d="M240 124h8v4h-8zM272 124h8v4h-8zM184 128h44v4h-44zM248 128h24v4h-24zM292 128h28v4h-28zM168 132h32v4h-32zM312 132h8v4h-8zM324 132h12v4h-12zM144 136h24v4h-24zM336 136h20v4h-20zM140 140h8v4h-8zM360 140h16v4h-16zM120 144h20v4h-20zM376 144h12v4h-12zM116 148h4v4h-4zM388 148h4v4h-4zM104 152h12v4h-12zM392 152h12v4h-12zM96 156h4v4h-4zM400 156h12v4h-12zM92 160h4v4h-4zM412 160h4v4h-4zM84 164h8v4h-8zM416 164h8v4h-8zM76 168h8v4h-8zM424 168h4v4h-4zM76 172h4v4h-4zM428 172h4v4h-4zM76 176h4v4h-4zM432 176h4v4h-4zM68 180h8v4h-8zM432 180h4v4h-4zM68 184h8v4h-8zM436 184h8v4h-8zM64 188h4v4h-4zM64 192h4v4h-4zM64 196h4v4h-4zM436 196h8v4h-8zM64 200h4v4h-4zM436 200h8v4h-8zM64 204h4v4h-4zM436 204h8v4h-8zM64 208h4v4h-4zM436 208h8v4h-8zM68 212h4v4h-4zM436 212h4v4h-4zM68 216h4v4h-4zM436 216h4v4h-4zM68 220h4v4h-4zM432 220h4v4h-4zM72 224h4v4h-4zM432 224h4v4h-4zM72 228h4v4h-4zM428 228h4v4h-4zM76 232h8v4h-8zM424 232h4v4h-4zM84 236h4v4h-4zM420 236h4v4h-4zM88 240h4v4h-4zM96 244h4v4h-4zM408 244h4v4h-4zM104 248h8v4h-8zM396 248h8v4h-8zM120 252h4v4h-4zM384 252h4v4h-4zM140 256h4v4h-4zM360 256h8v4h-8zM168 260h16v4h-16zM320 260h8v4h-8zM332 260h8v4h-8z"/>
<path fill="#6aff00" d="M248 120h8v4h-8zM188 124h52v4h-52zM248 124h24v4h-24zM280 124h40v4h-40zM176 128h8v4h-8zM320 128h16v4h-16zM144 132h24v4h-24zM336 132h16v4h-16zM140 136h4v4h-4zM356 136h16v4h-16zM120 140h20v4h-20zM376 140h12v4h-12zM116 144h4v4h-4zM388 144h4v4h-4zM104 148h12v4h-12zM392 148h12v4h-12zM96 152h8v4h-8zM404 152h8v4h-8zM92 156h4v4h-4zM412 156h4v4h-4zM84 160h8v4h-8zM416 160h12v4h-12zM76 164h8v4h-8zM424 164h4v4h-4zM72 168h4v4h-4zM428 168h4v4h-4zM68 172h8v4h-8zM432 172h8v4h-8zM68 176h8v4h-8zM436 176h4v4h-4zM64 180h4v4h-4zM436 180h8v4h-8zM64 184h4v4h-4zM444 184h4v4h-4zM440 188h4v4h-4zM440 192h4v4h-4zM60 196h4v4h-4zM444 196h4v4h-4zM60 200h4v4h-4zM444 200h4v4h-4zM444 204h4v4h-4zM444 208h4v4h-4zM60 212h8v4h-8zM440 212h4v4h-4zM64 216h4v4h-4zM440 216h4v4h-4zM64 220h4v4h-4zM436 220h4v4h-4zM68 224h4v4h-4zM432 228h4v4h-4zM72 232h4v4h-4zM428 232h4v4h-4zM76 236h8v4h-8zM424 236h4v4h-4zM84 240h4v4h-4zM416 240h4v4h-4zM92 244h4v4h-4zM412 244h4v4h-4zM100 248h4v4h-4zM404 248h4v4h-4zM112 252h8v4h-8zM388 252h8v4h-8zM128 256h12v4h-12zM368 256h12v4h-12zM156 260h12v4h-12zM340 260h12v4h-12zM200 264h8v4h-8zM224 264h8v4h-8zM248 264h4v4h-4zM264 264h8v4h-8z"/>
<path fill="#8fff00" d="M220 116h8v4h-8zM248 116h8v4h-8zM196 120h52v4h-52zM256 120h56v4h-56zM328 120h8v4h-8zM176 124h12v4h-12zM320 124h16v4h-16zM152 128h24v4h-24zM336 128h28v4h-28zM136 132h8v4h-8zM352 132h24v4h-24zM116 136h24v4h-24zM372 136h16v4h-16zM112 140h8v4h-8zM388 140h4v4h-4zM104 144h12v4h-12zM392 144h12v4h-12zM96 148h8v4h-8zM404 148h8v4h-8zM88 152h8v4h-8zM412 152h8v4h-8zM84 156h8v4h-8zM416 156h12v4h-12zM76 160h8v4h-8zM428 160h4v4h-4zM72 164h4v4h-4zM428 164h8v4h-8zM68 168h4v4h-4zM432 168h12v4h-12zM64 176h4v4h-4zM440 176h4v4h-4zM60 180h4v4h-4zM444 180h4v4h-4zM60 184h4v4h-4zM60 188h4v4h-4zM444 188h4v4h-4zM60 192h4v4h-4zM444 192h4v4h-4zM56 196h4v4h-4zM56 200h4v4h-4zM60 204h4v4h-4zM60 208h4v4h-4zM56 212h4v4h-4zM444 212h4v4h-4zM60 216h4v4h-4zM444 216h4v4h-4zM440 220h4v4h-4zM64 224h4v4h-4zM436 224h4v4h-4zM68 228h4v4h-4zM436 228h4v4h-4zM432 232h4v4h-4zM72 236h4v4h-4zM428 236h4v4h-4zM76 240h8v4h-8zM420 240h8v4h-8zM84 244h8v4h-8zM92 248h8v4h-8zM104 252h8v4h-8zM396 252h4v4h-4zM120 256h8v4h-8zM380 256h4v4h-4zM144 260h12v4h-12zM352 260h8v4h-8zM184 264h16v4h-16zM208 264h16v4h-16zM232 264h16v4h-16zM252 264h12v4h-12zM272 264h48v4h-48z"/>
<path fill="#b1ff00" d="M172 108h4v4h-4zM172 112h8v4h-8zM200 112h8v4h-8zM236 112h4v4h-4zM244 112h4v4h-4zM172 116h4v4h-4zM196 116h24v4h-24zM228 116h20v4h-20zM256 116h32v4h-32zM292 116h12v4h-12zM328 116h12v4h-12zM136 120h12v4h-12zM156 120h4v4h-4zM172 120h12v4h-12zM192 120h4v4h-4zM312 120h16v4h-16zM336 120h4v4h-4zM136 124h4v4h-4zM144 124h32v4h-32zM336 124h24v4h-24zM132 128h20v4h-20zM364 128h12v4h-12zM380 128h4v4h-4zM112 132h24v4h-24zM376 132h12v4h-12zM108 136h8v4h-8zM388 136h12v4h-12zM100 140h12v4h-12zM392 140h12v4h-12zM100 144h4v4h-4zM404 144h8v4h-8zM92 148h4v4h-4zM412 148h8v4h-8zM420 152h4v4h-4zM436 152h8v4h-8zM76 156h8v4h-8zM428 156h4v4h-4zM436 156h8v4h-8zM72 160h4v4h-4zM432 160h12v4h-12zM68 164h4v4h-4zM436 164h12v4h-12zM460 164h12v4h-12zM60 168h8v4h-8zM444 168h4v4h-4zM460 168h12v4h-12zM60 172h8v4h-8zM440 172h8v4h-8zM460 172h12v4h-12zM60 176h4v4h-4zM444 176h4v4h-4zM56 180h4v4h-4zM448 180h4v4h-4zM56 184h4v4h-4zM448 184h4v4h-4zM56 188h4v4h-4zM448 188h4v4h-4zM56 192h4v4h-4zM448 192h4v4h-4zM52 196h4v4h-4zM448 196h4v4h-4zM448 200h4v4h-4zM56 204h4v4h-4zM448 204h4v4h-4zM56 208h4v4h-4zM448 208h4v4h-4zM52 212h4v4h-4zM448 212h4v4h-4zM56 216h4v4h-4zM56 220h8v4h-8zM444 220h4v4h-4zM60 224h4v4h-4zM440 224h4v4h-4zM60 228h8v4h-8zM440 228h4v4h-4zM68 232h4v4h-4zM432 236h4v4h-4zM428 240h4v4h-4zM80 244h4v4h-4zM416 244h4v4h-4zM84 248h8v4h-8zM408 248h8v4h-8zM84 252h4v4h-4zM100 252h4v4h-4zM400 252h4v4h-4zM108 256h12v4h-12zM384 256h12v4h-12zM136 260h8v4h-8zM360 260h4v4h-4zM172 264h12v4h-12zM320 264h20v4h-20zM208 268h8v4h-8zM280 268h4v4h-4z"/>
<path fill="#cbff00" d="M172 104h8v4h-8zM188 104h8v4h-8zM204 104h8v4h-8zM236 104h8v4h-8zM248 104h4v4h-4zM176 108h20v4h-20zM200 108h8v4h-8zM236 108h16v4h-16zM332 108h8v4h-8zM180 112h20v4h-20zM208 112h20v4h-20zM232 112h4v4h-4zM240 112h4v4h-4zM248 112h8v4h-8zM268 112h12v4h-12zM296 112h12v4h-12zM316 112h4v4h-4zM328 112h12v4h-12zM136 116h12v4h-12zM152 116h8v4h-8zM168 116h4v4h-4zM176 116h8v4h-8zM192 116h4v4h-4zM288 116h4v4h-4zM304 116h8v4h-8zM348 116h8v4h-8zM120 120h4v4h-4zM148 120h8v4h-8zM160 120h12v4h-12zM184 120h8v4h-8zM340 120h20v4h-20zM116 124h8v4h-8zM140 124h4v4h-4zM360 124h4v4h-4zM116 128h16v4h-16zM376 128h4v4h-4zM384 128h4v4h-4zM396 128h4v4h-4zM108 132h4v4h-4zM388 132h16v4h-16zM104 136h4v4h-4zM400 136h4v4h-4zM424 136h8v4h-8zM404 140h8v4h-8zM80 144h8v4h-8zM92 144h8v4h-8zM412 144h16v4h-16zM80 148h12v4h-12zM420 148h8v4h-8zM432 148h8v4h-8zM76 152h12v4h-12zM424 152h4v4h-4zM72 156h4v4h-4zM432 156h4v4h-4zM444 156h4v4h-4zM68 160h4v4h-4zM444 160h4v4h-4zM472 160h4v4h-4zM60 164h8v4h-8zM56 168h4v4h-4zM56 172h4v4h-4zM56 176h4v4h-4zM448 176h4v4h-4zM52 184h4v4h-4zM452 184h4v4h-4zM52 188h4v4h-4zM452 188h4v4h-4zM52 192h4v4h-4zM452 192h4v4h-4zM452 196h4v4h-4zM48 200h8v4h-8zM52 204h4v4h-4zM52 208h4v4h-4zM452 212h4v4h-4zM52 216h4v4h-4zM448 216h4v4h-4zM52 220h4v4h-4zM448 220h4v4h-4zM444 224h4v4h-4zM444 228h4v4h-4zM60 232h8v4h-8zM436 232h4v4h-4zM72 240h4v4h-4zM76 244h4v4h-4zM420 244h8v4h-8zM416 248h8v4h-8zM80 252h4v4h-4zM88 252h12v4h-12zM404 252h4v4h-4zM412 252h8v4h-8zM100 256h8v4h-8zM396 256h4v4h-4zM132 260h4v4h-4zM364 260h16v4h-16zM164 264h8v4h-8zM216 268h4v4h-4zM236 268h4v4h-4zM284 268h8v4h-8zM300 268h8v4h-8z"/>
<path fill="#e6ff00" d="M304 12h4v4h-4zM304 16h4v4h-4zM176 80h8v4h-8zM232 80h4v4h-4zM240 80h4v4h-4zM404 80h4v4h-4zM180 84h4v4h-4zM344 84h4v4h-4zM400 84h12v4h-12zM176 88h8v4h-8zM340 88h8v4h-8zM400 88h12v4h-12zM328 92h4v4h-4zM352 92h12v4h-12zM388 92h12v4h-12zM168 96h4v4h-4zM328 96h4v4h-4zM352 96h12v4h-12zM388 96h12v4h-12zM164 100h8v4h-8zM220 100h8v4h-8zM236 100h4v4h-4zM268 100h4v4h-4zM328 100h12v4h-12zM356 100h8v4h-8zM388 100h12v4h-12zM180 104h8v4h-8zM196 104h8v4h-8zM212 104h16v4h-16zM232 104h4v4h-4zM244 104h4v4h-4zM252 104h4v4h-4zM268 104h4v4h-4zM400 104h12v4h-12zM164 108h8v4h-8zM196 108h4v4h-4zM208 108h20v4h-20zM232 108h4v4h-4zM252 108h4v4h-4zM268 108h12v4h-12zM296 108h12v4h-12zM312 108h12v4h-12zM328 108h4v4h-4zM352 108h4v4h-4zM408 108h4v4h-4zM164 112h8v4h-8zM228 112h4v4h-4zM256 112h12v4h-12zM280 112h16v4h-16zM308 112h8v4h-8zM320 112h8v4h-8zM352 112h4v4h-4zM408 112h4v4h-4zM112 116h12v4h-12zM148 116h4v4h-4zM160 116h8v4h-8zM184 116h8v4h-8zM312 116h16v4h-16zM340 116h8v4h-8zM356 116h8v4h-8zM104 120h16v4h-16zM360 120h4v4h-4zM380 120h8v4h-8zM100 124h4v4h-4zM112 124h4v4h-4zM124 124h12v4h-12zM364 124h8v4h-8zM380 124h8v4h-8zM396 124h4v4h-4zM92 128h8v4h-8zM112 128h4v4h-4zM388 128h8v4h-8zM400 128h4v4h-4zM88 132h12v4h-12zM104 132h4v4h-4zM404 132h8v4h-8zM424 132h12v4h-12zM88 136h16v4h-16zM404 136h8v4h-8zM432 136h4v4h-4zM56 140h4v4h-4zM76 140h12v4h-12zM96 140h4v4h-4zM412 140h24v4h-24zM460 140h4v4h-4zM56 144h4v4h-4zM76 144h4v4h-4zM88 144h4v4h-4zM428 144h8v4h-8zM440 144h8v4h-8zM460 144h8v4h-8zM56 148h8v4h-8zM76 148h4v4h-4zM428 148h4v4h-4zM440 148h4v4h-4zM452 148h4v4h-4zM460 148h8v4h-8zM72 152h4v4h-4zM428 152h8v4h-8zM444 152h4v4h-4zM452 152h8v4h-8zM472 152h4v4h-4zM68 156h4v4h-4zM448 156h4v4h-4zM472 156h8v4h-8zM56 160h4v4h-4zM64 160h4v4h-4zM448 160h4v4h-4zM476 160h4v4h-4zM52 164h8v4h-8zM448 164h4v4h-4zM52 168h4v4h-4zM448 168h4v4h-4zM52 172h4v4h-4zM448 172h4v4h-4zM452 176h12v4h-12zM472 176h4v4h-4zM52 180h4v4h-4zM452 180h4v4h-4zM472 180h4v4h-4zM48 188h4v4h-4zM456 188h4v4h-4zM472 188h8v4h-8zM48 192h4v4h-4zM456 192h4v4h-4zM44 196h8v4h-8zM44 200h4v4h-4zM452 200h4v4h-4zM452 204h4v4h-4zM460 204h4v4h-4zM48 208h4v4h-4zM452 208h4v4h-4zM460 208h4v4h-4zM36 212h4v4h-4zM456 212h4v4h-4zM36 216h4v4h-4zM452 216h8v4h-8zM452 220h4v4h-4zM460 220h4v4h-4zM36 224h4v4h-4zM52 224h8v4h-8zM448 224h4v4h-4zM48 228h12v4h-12zM48 232h4v4h-4zM440 232h8v4h-8zM24 236h4v4h-4zM60 236h4v4h-4zM68 236h4v4h-4zM436 236h4v4h-4zM432 240h4v4h-4zM76 248h8v4h-8zM424 248h4v4h-4zM76 252h4v4h-4zM408 252h4v4h-4zM80 256h20v4h-20zM412 256h8v4h-8zM116 260h8v4h-8zM128 260h4v4h-4zM380 260h8v4h-8zM148 264h16v4h-16zM340 264h12v4h-12zM356 264h4v4h-4zM184 268h12v4h-12zM204 268h4v4h-4zM220 268h8v4h-8zM232 268h4v4h-4zM240 268h12v4h-12zM268 268h12v4h-12zM292 268h8v4h-8zM308 268h8v4h-8zM332 268h4v4h-4z"/>
<path fill="#fffe00" d="M220 4h4v4h-4zM220 8h8v4h-8zM316 8h4v4h-4zM288 20h4v4h-4zM280 24h12v4h-12zM284 28h8v4h-8zM184 44h8v4h-8zM184 48h8v4h-8zM184 52h8v4h-8zM248 56h4v4h-4zM124 60h8v4h-8zM244 60h4v4h-4zM124 64h8v4h-8zM244 64h4v4h-4zM296 68h4v4h-4zM164 72h8v4h-8zM296 72h4v4h-4zM316 72h8v4h-8zM344 72h4v4h-4zM184 76h8v4h-8zM404 76h8v4h-8zM172 80h4v4h-4zM196 80h8v4h-8zM236 80h4v4h-4zM408 80h4v4h-4zM132 84h4v4h-4zM172 84h8v4h-8zM240 84h4v4h-4zM248 84h8v4h-8zM340 84h4v4h-4zM348 84h4v4h-4zM132 88h4v4h-4zM172 88h4v4h-4zM240 88h4v4h-4zM248 88h8v4h-8zM348 88h4v4h-4zM132 92h4v4h-4zM140 92h8v4h-8zM160 92h12v4h-12zM220 92h8v4h-8zM332 92h4v4h-4zM344 92h8v4h-8zM376 92h4v4h-4zM132 96h4v4h-4zM140 96h8v4h-8zM160 96h8v4h-8zM220 96h12v4h-12zM332 96h20v4h-20zM140 100h8v4h-8zM160 100h4v4h-4zM172 100h8v4h-8zM228 100h8v4h-8zM240 100h4v4h-4zM272 100h4v4h-4zM296 100h4v4h-4zM164 104h8v4h-8zM228 104h4v4h-4zM264 104h4v4h-4zM272 104h4v4h-4zM292 104h16v4h-16zM328 104h12v4h-12zM356 104h8v4h-8zM376 104h12v4h-12zM424 104h4v4h-4zM116 108h8v4h-8zM144 108h4v4h-4zM160 108h4v4h-4zM228 108h4v4h-4zM256 108h12v4h-12zM280 108h16v4h-16zM308 108h4v4h-4zM324 108h4v4h-4zM344 108h8v4h-8zM356 108h8v4h-8zM376 108h4v4h-4zM384 108h4v4h-4zM404 108h4v4h-4zM424 108h4v4h-4zM52 112h8v4h-8zM116 112h8v4h-8zM136 112h28v4h-28zM340 112h12v4h-12zM356 112h8v4h-8zM376 112h12v4h-12zM404 112h4v4h-4zM424 112h4v4h-4zM104 116h8v4h-8zM376 116h12v4h-12zM424 116h4v4h-4zM100 120h4v4h-4zM132 120h4v4h-4zM368 120h12v4h-12zM388 120h8v4h-8zM424 120h4v4h-4zM436 120h8v4h-8zM88 124h12v4h-12zM104 124h8v4h-8zM372 124h8v4h-8zM388 124h8v4h-8zM400 124h4v4h-4zM436 124h8v4h-8zM40 128h4v4h-4zM52 128h8v4h-8zM84 128h8v4h-8zM100 128h8v4h-8zM404 128h8v4h-8zM424 128h4v4h-4zM84 132h4v4h-4zM100 132h4v4h-4zM72 136h8v4h-8zM84 136h4v4h-4zM412 136h4v4h-4zM420 136h4v4h-4zM40 140h4v4h-4zM52 140h4v4h-4zM88 140h8v4h-8zM436 140h16v4h-16zM464 140h4v4h-4zM40 144h4v4h-4zM52 144h4v4h-4zM60 144h4v4h-4zM436 144h4v4h-4zM448 144h8v4h-8zM44 148h12v4h-12zM72 148h4v4h-4zM444 148h4v4h-4zM456 148h4v4h-4zM468 148h4v4h-4zM56 152h8v4h-8zM68 152h4v4h-4zM448 152h4v4h-4zM460 152h8v4h-8zM476 152h8v4h-8zM52 156h12v4h-12zM452 156h4v4h-4zM460 156h8v4h-8zM480 156h4v4h-4zM52 160h4v4h-4zM60 160h4v4h-4zM452 160h20v4h-20zM480 160h4v4h-4zM452 164h4v4h-4zM472 164h4v4h-4zM452 168h4v4h-4zM472 168h4v4h-4zM452 172h8v4h-8zM52 176h4v4h-4zM464 176h8v4h-8zM48 180h4v4h-4zM456 180h4v4h-4zM464 180h8v4h-8zM48 184h4v4h-4zM456 184h4v4h-4zM472 184h4v4h-4zM40 188h8v4h-8zM460 188h8v4h-8zM480 188h4v4h-4zM40 192h8v4h-8zM460 192h8v4h-8zM472 192h12v4h-12zM40 196h4v4h-4zM456 196h4v4h-4zM472 196h12v4h-12zM40 200h4v4h-4zM484 200h8v4h-8zM40 204h12v4h-12zM464 204h4v4h-4zM40 208h8v4h-8zM464 208h4v4h-4zM48 212h4v4h-4zM464 212h4v4h-4zM48 216h4v4h-4zM32 220h8v4h-8zM48 220h4v4h-4zM456 220h4v4h-4zM464 220h4v4h-4zM28 224h8v4h-8zM40 224h4v4h-4zM48 224h4v4h-4zM452 224h8v4h-8zM32 228h8v4h-8zM44 228h4v4h-4zM448 228h4v4h-4zM32 232h8v4h-8zM52 232h8v4h-8zM20 236h4v4h-4zM52 236h8v4h-8zM64 236h4v4h-4zM440 236h4v4h-4zM24 240h4v4h-4zM60 240h4v4h-4zM68 240h4v4h-4zM428 244h8v4h-8zM420 252h4v4h-4zM76 256h4v4h-4zM400 256h8v4h-8zM112 260h4v4h-4zM124 260h4v4h-4zM388 260h4v4h-4zM400 260h8v4h-8zM420 260h4v4h-4zM144 264h4v4h-4zM352 264h4v4h-4zM360 264h4v4h-4zM420 264h4v4h-4zM168 268h16v4h-16zM196 268h8v4h-8zM228 268h4v4h-4zM252 268h16v4h-16zM316 268h16v4h-16zM336 268h4v4h-4zM208 272h12v4h-12zM304 272h4v4h-4zM304 276h4v4h-4z"/>
<path fill="#ffe600" d="M212 4h8v4h-8zM224 4h8v4h-8zM228 8h4v4h-4zM308 8h8v4h-8zM320 8h8v4h-8zM172 12h12v4h-12zM188 12h8v4h-8zM208 12h4v4h-4zM220 12h4v4h-4zM228 12h4v4h-4zM308 12h20v4h-20zM176 16h8v4h-8zM188 16h8v4h-8zM220 16h4v4h-4zM228 16h4v4h-4zM308 16h20v4h-20zM184 20h4v4h-4zM236 20h20v4h-20zM280 20h8v4h-8zM184 24h4v4h-4zM240 24h4v4h-4zM248 24h8v4h-8zM188 28h8v4h-8zM232 28h4v4h-4zM244 28h12v4h-12zM228 32h4v4h-4zM244 32h12v4h-12zM308 32h4v4h-4zM168 36h4v4h-4zM212 36h16v4h-16zM244 36h12v4h-12zM308 36h8v4h-8zM168 40h4v4h-4zM212 40h16v4h-16zM244 40h12v4h-12zM312 40h4v4h-4zM192 44h4v4h-4zM296 44h4v4h-4zM192 48h4v4h-4zM296 48h4v4h-4zM384 48h4v4h-4zM192 52h4v4h-4zM200 52h8v4h-8zM396 52h8v4h-8zM180 56h4v4h-4zM208 56h4v4h-4zM244 56h4v4h-4zM252 56h4v4h-4zM132 60h4v4h-4zM216 60h4v4h-4zM248 60h4v4h-4zM388 60h4v4h-4zM132 64h4v4h-4zM208 64h4v4h-4zM216 64h4v4h-4zM248 64h8v4h-8zM388 64h8v4h-8zM152 68h20v4h-20zM240 68h4v4h-4zM264 68h4v4h-4zM292 68h4v4h-4zM300 68h4v4h-4zM316 68h12v4h-12zM340 68h8v4h-8zM400 68h4v4h-4zM408 68h4v4h-4zM152 72h12v4h-12zM236 72h8v4h-8zM264 72h4v4h-4zM292 72h4v4h-4zM300 72h4v4h-4zM324 72h4v4h-4zM340 72h4v4h-4zM400 72h12v4h-12zM148 76h24v4h-24zM192 76h4v4h-4zM232 76h4v4h-4zM240 76h4v4h-4zM296 76h4v4h-4zM324 76h4v4h-4zM400 76h4v4h-4zM436 76h8v4h-8zM184 80h8v4h-8zM204 80h4v4h-4zM244 80h4v4h-4zM252 80h4v4h-4zM340 80h12v4h-12zM400 80h4v4h-4zM436 80h8v4h-8zM152 84h4v4h-4zM164 84h8v4h-8zM184 84h4v4h-4zM192 84h8v4h-8zM204 84h4v4h-4zM212 84h8v4h-8zM232 84h8v4h-8zM244 84h4v4h-4zM356 84h8v4h-8zM152 88h4v4h-4zM164 88h8v4h-8zM184 88h4v4h-4zM192 88h8v4h-8zM204 88h4v4h-4zM212 88h8v4h-8zM232 88h8v4h-8zM244 88h4v4h-4zM356 88h8v4h-8zM396 88h4v4h-4zM128 92h4v4h-4zM136 92h4v4h-4zM172 92h8v4h-8zM196 92h4v4h-4zM228 92h4v4h-4zM316 92h12v4h-12zM336 92h8v4h-8zM380 92h8v4h-8zM400 92h8v4h-8zM428 92h4v4h-4zM128 96h4v4h-4zM136 96h4v4h-4zM172 96h8v4h-8zM196 96h4v4h-4zM212 96h8v4h-8zM240 96h8v4h-8zM252 96h4v4h-4zM268 96h4v4h-4zM276 96h8v4h-8zM288 96h4v4h-4zM300 96h4v4h-4zM316 96h12v4h-12zM376 96h12v4h-12zM400 96h8v4h-8zM428 96h4v4h-4zM100 100h12v4h-12zM132 100h8v4h-8zM180 100h4v4h-4zM188 100h8v4h-8zM204 100h8v4h-8zM244 100h12v4h-12zM276 100h8v4h-8zM288 100h8v4h-8zM300 100h4v4h-4zM352 100h4v4h-4zM376 100h12v4h-12zM400 100h12v4h-12zM424 100h4v4h-4zM56 104h4v4h-4zM140 104h8v4h-8zM256 104h8v4h-8zM276 104h4v4h-4zM308 104h20v4h-20zM412 104h4v4h-4zM428 104h8v4h-8zM52 108h8v4h-8zM136 108h8v4h-8zM148 108h12v4h-12zM340 108h4v4h-4zM380 108h4v4h-4zM400 108h4v4h-4zM420 108h4v4h-4zM428 108h8v4h-8zM60 112h4v4h-4zM400 112h4v4h-4zM420 112h4v4h-4zM428 112h8v4h-8zM100 116h4v4h-4zM132 116h4v4h-4zM364 116h12v4h-12zM388 116h8v4h-8zM420 116h4v4h-4zM436 116h12v4h-12zM92 120h8v4h-8zM124 120h8v4h-8zM364 120h4v4h-4zM400 120h4v4h-4zM408 120h4v4h-4zM420 120h4v4h-4zM444 120h4v4h-4zM84 124h4v4h-4zM404 124h16v4h-16zM424 124h4v4h-4zM444 124h4v4h-4zM60 128h4v4h-4zM72 128h12v4h-12zM108 128h4v4h-4zM428 128h8v4h-8zM44 132h16v4h-16zM68 132h16v4h-16zM412 132h4v4h-4zM420 132h4v4h-4zM44 136h28v4h-28zM80 136h4v4h-4zM416 136h4v4h-4zM472 136h4v4h-4zM32 140h4v4h-4zM44 140h4v4h-4zM60 140h4v4h-4zM452 140h4v4h-4zM468 140h4v4h-4zM488 140h4v4h-4zM32 144h4v4h-4zM44 144h4v4h-4zM68 144h8v4h-8zM456 144h4v4h-4zM468 144h4v4h-4zM484 144h8v4h-8zM40 148h4v4h-4zM68 148h4v4h-4zM448 148h4v4h-4zM492 148h4v4h-4zM28 152h4v4h-4zM52 152h4v4h-4zM64 152h4v4h-4zM468 152h4v4h-4zM36 156h4v4h-4zM64 156h4v4h-4zM456 156h4v4h-4zM468 156h4v4h-4zM484 156h8v4h-8zM36 160h4v4h-4zM484 160h8v4h-8zM48 164h4v4h-4zM456 164h4v4h-4zM44 168h8v4h-8zM456 168h4v4h-4zM44 172h8v4h-8zM472 172h4v4h-4zM44 176h8v4h-8zM476 176h8v4h-8zM40 180h8v4h-8zM460 180h4v4h-4zM480 180h8v4h-8zM40 184h8v4h-8zM460 184h12v4h-12zM484 184h4v4h-4zM36 188h4v4h-4zM468 188h4v4h-4zM36 192h4v4h-4zM468 192h4v4h-4zM460 196h12v4h-12zM496 196h4v4h-4zM456 200h16v4h-16zM492 200h4v4h-4zM36 204h4v4h-4zM456 204h4v4h-4zM468 204h4v4h-4zM484 204h4v4h-4zM492 204h4v4h-4zM36 208h4v4h-4zM456 208h4v4h-4zM468 208h4v4h-4zM484 208h4v4h-4zM492 208h4v4h-4zM32 212h4v4h-4zM40 212h8v4h-8zM460 212h4v4h-4zM468 212h4v4h-4zM32 216h4v4h-4zM40 216h8v4h-8zM460 216h12v4h-12zM28 220h4v4h-4zM40 220h8v4h-8zM468 220h4v4h-4zM44 224h4v4h-4zM476 224h8v4h-8zM28 228h4v4h-4zM452 228h8v4h-8zM472 228h12v4h-12zM28 232h4v4h-4zM44 232h4v4h-4zM448 232h4v4h-4zM472 232h12v4h-12zM40 236h4v4h-4zM48 236h4v4h-4zM20 240h4v4h-4zM40 240h4v4h-4zM52 240h8v4h-8zM436 240h8v4h-8zM20 244h8v4h-8zM52 244h12v4h-12zM72 244h4v4h-4zM32 248h8v4h-8zM52 248h4v4h-4zM60 248h4v4h-4zM428 248h4v4h-4zM52 252h8v4h-8zM424 252h4v4h-4zM408 256h4v4h-4zM420 256h4v4h-4zM392 260h4v4h-4zM408 260h12v4h-12zM116 264h8v4h-8zM132 264h12v4h-12zM368 264h12v4h-12zM384 264h4v4h-4zM404 264h4v4h-4zM412 264h8v4h-8zM160 268h8v4h-8zM340 268h4v4h-4zM356 268h4v4h-4zM400 268h16v4h-16zM268 272h12v4h-12zM308 272h8v4h-8zM208 276h4v4h-4zM308 276h8v4h-8z"/>
<path fill="#ffcd00" d="M208 4h4v4h-4zM304 4h4v4h-4zM188 8h8v4h-8zM212 8h8v4h-8zM304 8h4v4h-4zM184 12h4v4h-4zM204 12h4v4h-4zM224 12h4v4h-4zM232 12h8v4h-8zM280 12h4v4h-4zM352 12h4v4h-4zM172 16h4v4h-4zM184 16h4v4h-4zM208 16h4v4h-4zM224 16h4v4h-4zM236 16h4v4h-4zM256 16h4v4h-4zM280 16h4v4h-4zM352 16h4v4h-4zM188 20h8v4h-8zM232 20h4v4h-4zM268 20h4v4h-4zM364 20h12v4h-12zM188 24h8v4h-8zM236 24h4v4h-4zM244 24h4v4h-4zM268 24h4v4h-4zM364 24h12v4h-12zM184 28h4v4h-4zM280 28h4v4h-4zM308 28h4v4h-4zM340 28h8v4h-8zM352 28h12v4h-12zM112 32h4v4h-4zM128 32h4v4h-4zM160 32h4v4h-4zM168 32h12v4h-12zM208 32h4v4h-4zM216 32h4v4h-4zM256 32h12v4h-12zM292 32h16v4h-16zM312 32h12v4h-12zM340 32h8v4h-8zM352 32h12v4h-12zM108 36h8v4h-8zM160 36h8v4h-8zM180 36h4v4h-4zM292 36h16v4h-16zM324 36h4v4h-4zM100 40h16v4h-16zM160 40h8v4h-8zM172 40h4v4h-4zM180 40h4v4h-4zM300 40h12v4h-12zM324 40h4v4h-4zM364 40h4v4h-4zM252 44h4v4h-4zM292 44h4v4h-4zM308 44h8v4h-8zM324 44h4v4h-4zM380 44h8v4h-8zM112 48h4v4h-4zM252 48h4v4h-4zM292 48h4v4h-4zM308 48h8v4h-8zM380 48h4v4h-4zM116 52h4v4h-4zM132 52h4v4h-4zM196 52h4v4h-4zM208 52h4v4h-4zM284 52h8v4h-8zM316 52h4v4h-4zM352 52h8v4h-8zM380 52h8v4h-8zM424 52h8v4h-8zM132 56h4v4h-4zM148 56h8v4h-8zM172 56h8v4h-8zM200 56h8v4h-8zM212 56h8v4h-8zM232 56h4v4h-4zM256 56h12v4h-12zM292 56h12v4h-12zM316 56h8v4h-8zM396 56h4v4h-4zM148 60h4v4h-4zM164 60h20v4h-20zM208 60h8v4h-8zM236 60h8v4h-8zM252 60h4v4h-4zM292 60h12v4h-12zM372 60h4v4h-4zM392 60h8v4h-8zM148 64h8v4h-8zM164 64h20v4h-20zM196 64h4v4h-4zM212 64h4v4h-4zM236 64h8v4h-8zM292 64h12v4h-12zM372 64h8v4h-8zM396 64h8v4h-8zM148 68h4v4h-4zM184 68h8v4h-8zM208 68h12v4h-12zM236 68h4v4h-4zM260 68h4v4h-4zM284 68h4v4h-4zM304 68h4v4h-4zM348 68h4v4h-4zM360 68h4v4h-4zM380 68h20v4h-20zM404 68h4v4h-4zM412 68h4v4h-4zM424 68h4v4h-4zM148 72h4v4h-4zM184 72h8v4h-8zM208 72h12v4h-12zM260 72h4v4h-4zM284 72h4v4h-4zM304 72h4v4h-4zM348 72h4v4h-4zM360 72h4v4h-4zM376 72h24v4h-24zM412 72h4v4h-4zM424 72h4v4h-4zM440 72h4v4h-4zM176 76h8v4h-8zM196 76h8v4h-8zM208 76h4v4h-4zM220 76h12v4h-12zM236 76h4v4h-4zM256 76h4v4h-4zM284 76h4v4h-4zM292 76h4v4h-4zM300 76h4v4h-4zM308 76h8v4h-8zM340 76h12v4h-12zM376 76h4v4h-4zM388 76h8v4h-8zM412 76h8v4h-8zM444 76h4v4h-4zM96 80h4v4h-4zM128 80h8v4h-8zM148 80h12v4h-12zM164 80h8v4h-8zM192 80h4v4h-4zM208 80h4v4h-4zM224 80h8v4h-8zM248 80h4v4h-4zM356 80h24v4h-24zM388 80h4v4h-4zM444 80h4v4h-4zM120 84h12v4h-12zM144 84h8v4h-8zM156 84h8v4h-8zM188 84h4v4h-4zM200 84h4v4h-4zM208 84h4v4h-4zM224 84h4v4h-4zM280 84h8v4h-8zM376 84h4v4h-4zM384 84h16v4h-16zM436 84h4v4h-4zM448 84h4v4h-4zM120 88h12v4h-12zM144 88h8v4h-8zM156 88h8v4h-8zM188 88h4v4h-4zM200 88h4v4h-4zM208 88h4v4h-4zM224 88h4v4h-4zM280 88h8v4h-8zM376 88h4v4h-4zM384 88h12v4h-12zM436 88h4v4h-4zM448 88h4v4h-4zM108 92h4v4h-4zM120 92h8v4h-8zM156 92h4v4h-4zM180 92h4v4h-4zM188 92h8v4h-8zM200 92h4v4h-4zM208 92h12v4h-12zM232 92h24v4h-24zM268 92h16v4h-16zM288 92h4v4h-4zM300 92h4v4h-4zM372 92h4v4h-4zM408 92h4v4h-4zM424 92h4v4h-4zM432 92h4v4h-4zM104 96h8v4h-8zM116 96h12v4h-12zM156 96h4v4h-4zM180 96h4v4h-4zM188 96h8v4h-8zM200 96h12v4h-12zM232 96h8v4h-8zM248 96h4v4h-4zM256 96h8v4h-8zM272 96h4v4h-4zM284 96h4v4h-4zM292 96h4v4h-4zM312 96h4v4h-4zM372 96h4v4h-4zM408 96h4v4h-4zM424 96h4v4h-4zM432 96h4v4h-4zM96 100h4v4h-4zM112 100h4v4h-4zM124 100h8v4h-8zM196 100h8v4h-8zM212 100h8v4h-8zM260 100h8v4h-8zM284 100h4v4h-4zM304 100h4v4h-4zM316 100h12v4h-12zM340 100h12v4h-12zM368 100h4v4h-4zM412 100h4v4h-4zM428 100h8v4h-8zM32 104h4v4h-4zM52 104h4v4h-4zM60 104h4v4h-4zM112 104h8v4h-8zM136 104h4v4h-4zM156 104h8v4h-8zM280 104h12v4h-12zM340 104h16v4h-16zM388 104h12v4h-12zM416 104h8v4h-8zM448 104h12v4h-12zM32 108h8v4h-8zM48 108h4v4h-4zM60 108h4v4h-4zM112 108h4v4h-4zM388 108h8v4h-8zM448 108h12v4h-12zM32 112h8v4h-8zM44 112h8v4h-8zM112 112h4v4h-4zM124 112h4v4h-4zM132 112h4v4h-4zM364 112h4v4h-4zM388 112h8v4h-8zM448 112h12v4h-12zM80 116h20v4h-20zM124 116h8v4h-8zM396 116h24v4h-24zM428 116h8v4h-8zM80 120h12v4h-12zM396 120h4v4h-4zM404 120h4v4h-4zM412 120h8v4h-8zM428 120h8v4h-8zM40 124h4v4h-4zM76 124h8v4h-8zM420 124h4v4h-4zM428 124h8v4h-8zM460 124h12v4h-12zM44 128h4v4h-4zM64 128h8v4h-8zM412 128h12v4h-12zM60 132h8v4h-8zM416 132h4v4h-4zM452 132h8v4h-8zM472 132h8v4h-8zM40 136h4v4h-4zM452 136h8v4h-8zM468 136h4v4h-4zM476 136h4v4h-4zM28 140h4v4h-4zM36 140h4v4h-4zM48 140h4v4h-4zM68 140h8v4h-8zM456 140h4v4h-4zM484 140h4v4h-4zM492 140h4v4h-4zM28 144h4v4h-4zM36 144h4v4h-4zM48 144h4v4h-4zM64 144h4v4h-4zM476 144h4v4h-4zM492 144h4v4h-4zM24 148h8v4h-8zM64 148h4v4h-4zM472 148h4v4h-4zM484 148h8v4h-8zM24 152h4v4h-4zM32 152h4v4h-4zM44 152h8v4h-8zM492 152h4v4h-4zM40 156h4v4h-4zM40 160h12v4h-12zM44 164h4v4h-4zM476 164h4v4h-4zM484 164h4v4h-4zM492 164h12v4h-12zM36 168h4v4h-4zM476 168h4v4h-4zM484 168h4v4h-4zM492 168h12v4h-12zM32 172h8v4h-8zM476 172h4v4h-4zM484 172h4v4h-4zM500 172h4v4h-4zM476 180h4v4h-4zM488 180h4v4h-4zM36 184h4v4h-4zM476 184h8v4h-8zM488 184h4v4h-4zM32 188h4v4h-4zM496 188h4v4h-4zM32 192h4v4h-4zM496 192h4v4h-4zM36 196h4v4h-4zM500 196h4v4h-4zM36 200h4v4h-4zM496 200h4v4h-4zM32 204h4v4h-4zM476 204h8v4h-8zM488 204h4v4h-4zM496 204h4v4h-4zM32 208h4v4h-4zM476 208h8v4h-8zM488 208h4v4h-4zM496 208h4v4h-4zM476 212h4v4h-4zM28 216h4v4h-4zM476 216h4v4h-4zM460 224h8v4h-8zM472 224h4v4h-4zM40 228h4v4h-4zM460 228h4v4h-4zM452 232h8v4h-8zM16 236h4v4h-4zM44 236h4v4h-4zM444 236h8v4h-8zM472 236h20v4h-20zM16 240h4v4h-4zM44 240h8v4h-8zM64 240h4v4h-4zM476 240h4v4h-4zM484 240h8v4h-8zM16 244h4v4h-4zM44 244h8v4h-8zM64 244h8v4h-8zM24 248h8v4h-8zM44 248h8v4h-8zM56 248h4v4h-4zM64 248h12v4h-12zM432 248h4v4h-4zM44 252h8v4h-8zM60 252h4v4h-4zM68 252h8v4h-8zM428 252h8v4h-8zM52 256h8v4h-8zM72 260h4v4h-4zM80 260h4v4h-4zM104 260h8v4h-8zM396 260h4v4h-4zM112 264h4v4h-4zM364 264h4v4h-4zM380 264h4v4h-4zM388 264h4v4h-4zM400 264h4v4h-4zM408 264h4v4h-4zM92 268h4v4h-4zM136 268h4v4h-4zM152 268h8v4h-8zM344 268h4v4h-4zM360 268h20v4h-20zM416 268h8v4h-8zM136 272h12v4h-12zM164 272h12v4h-12zM232 272h12v4h-12zM280 272h12v4h-12zM316 272h12v4h-12zM364 272h16v4h-16zM400 272h16v4h-16zM136 276h4v4h-4zM180 276h4v4h-4zM212 276h8v4h-8zM316 276h8v4h-8zM412 276h8v4h-8zM304 280h12v4h-12zM412 280h8v4h-8z"/>
<path fill="#ffb400" d="M256 4h12v4h-12zM184 8h4v4h-4zM196 8h8v4h-8zM208 8h4v4h-4zM232 8h20v4h-20zM260 8h4v4h-4zM284 8h4v4h-4zM212 12h8v4h-8zM240 12h20v4h-20zM284 12h8v4h-8zM300 12h4v4h-4zM340 12h12v4h-12zM356 12h4v4h-4zM204 16h4v4h-4zM212 16h8v4h-8zM232 16h4v4h-4zM240 16h16v4h-16zM284 16h8v4h-8zM300 16h4v4h-4zM340 16h8v4h-8zM156 20h4v4h-4zM180 20h4v4h-4zM212 20h8v4h-8zM256 20h4v4h-4zM272 20h8v4h-8zM300 20h12v4h-12zM316 20h8v4h-8zM332 20h4v4h-4zM340 20h8v4h-8zM376 20h4v4h-4zM156 24h4v4h-4zM212 24h8v4h-8zM232 24h4v4h-4zM256 24h4v4h-4zM272 24h8v4h-8zM300 24h12v4h-12zM316 24h8v4h-8zM332 24h4v4h-4zM340 24h8v4h-8zM376 24h12v4h-12zM128 28h4v4h-4zM156 28h4v4h-4zM236 28h8v4h-8zM256 28h12v4h-12zM304 28h4v4h-4zM312 28h8v4h-8zM328 28h8v4h-8zM348 28h4v4h-4zM364 28h4v4h-4zM376 28h12v4h-12zM116 32h4v4h-4zM124 32h4v4h-4zM132 32h4v4h-4zM164 32h4v4h-4zM180 32h4v4h-4zM200 32h8v4h-8zM212 32h4v4h-4zM220 32h8v4h-8zM284 32h4v4h-4zM324 32h4v4h-4zM332 32h4v4h-4zM348 32h4v4h-4zM364 32h4v4h-4zM132 36h4v4h-4zM172 36h8v4h-8zM208 36h4v4h-4zM228 36h4v4h-4zM256 36h4v4h-4zM264 36h4v4h-4zM316 36h8v4h-8zM328 36h4v4h-4zM340 36h20v4h-20zM364 36h8v4h-8zM132 40h4v4h-4zM176 40h4v4h-4zM208 40h4v4h-4zM228 40h4v4h-4zM256 40h4v4h-4zM292 40h8v4h-8zM316 40h8v4h-8zM328 40h4v4h-4zM340 40h20v4h-20zM368 40h4v4h-4zM388 40h4v4h-4zM112 44h24v4h-24zM196 44h12v4h-12zM248 44h4v4h-4zM268 44h8v4h-8zM280 44h8v4h-8zM300 44h8v4h-8zM316 44h8v4h-8zM352 44h4v4h-4zM376 44h4v4h-4zM388 44h4v4h-4zM396 44h24v4h-24zM116 48h20v4h-20zM196 48h12v4h-12zM248 48h4v4h-4zM268 48h8v4h-8zM280 48h4v4h-4zM300 48h8v4h-8zM316 48h12v4h-12zM352 48h4v4h-4zM376 48h4v4h-4zM388 48h32v4h-32zM424 48h4v4h-4zM120 52h12v4h-12zM148 52h8v4h-8zM244 52h12v4h-12zM268 52h8v4h-8zM308 52h8v4h-8zM320 52h4v4h-4zM360 52h4v4h-4zM376 52h4v4h-4zM388 52h8v4h-8zM404 52h8v4h-8zM420 52h4v4h-4zM116 56h4v4h-4zM124 56h8v4h-8zM156 56h4v4h-4zM184 56h4v4h-4zM196 56h4v4h-4zM228 56h4v4h-4zM268 56h8v4h-8zM324 56h4v4h-4zM380 56h4v4h-4zM388 56h8v4h-8zM400 56h4v4h-4zM120 60h4v4h-4zM144 60h4v4h-4zM152 60h8v4h-8zM196 60h12v4h-12zM232 60h4v4h-4zM256 60h12v4h-12zM340 60h8v4h-8zM368 60h4v4h-4zM376 60h4v4h-4zM400 60h4v4h-4zM120 64h4v4h-4zM144 64h4v4h-4zM156 64h4v4h-4zM200 64h8v4h-8zM232 64h4v4h-4zM256 64h16v4h-16zM340 64h8v4h-8zM364 64h8v4h-8zM140 68h8v4h-8zM172 68h4v4h-4zM192 68h4v4h-4zM200 68h8v4h-8zM224 68h12v4h-12zM244 68h8v4h-8zM268 68h8v4h-8zM280 68h4v4h-4zM288 68h4v4h-4zM356 68h4v4h-4zM376 68h4v4h-4zM416 68h8v4h-8zM428 68h4v4h-4zM436 68h12v4h-12zM92 72h4v4h-4zM136 72h12v4h-12zM172 72h8v4h-8zM192 72h4v4h-4zM200 72h8v4h-8zM220 72h16v4h-16zM244 72h8v4h-8zM256 72h4v4h-4zM268 72h16v4h-16zM288 72h4v4h-4zM356 72h4v4h-4zM364 72h8v4h-8zM416 72h8v4h-8zM428 72h12v4h-12zM444 72h4v4h-4zM96 76h4v4h-4zM136 76h12v4h-12zM172 76h4v4h-4zM212 76h8v4h-8zM244 76h12v4h-12zM260 76h12v4h-12zM280 76h4v4h-4zM288 76h4v4h-4zM316 76h8v4h-8zM356 76h20v4h-20zM380 76h8v4h-8zM396 76h4v4h-4zM420 76h16v4h-16zM76 80h8v4h-8zM92 80h4v4h-4zM108 80h8v4h-8zM120 80h8v4h-8zM136 80h12v4h-12zM160 80h4v4h-4zM212 80h12v4h-12zM256 80h4v4h-4zM280 80h8v4h-8zM324 80h4v4h-4zM352 80h4v4h-4zM380 80h8v4h-8zM392 80h4v4h-4zM412 80h8v4h-8zM448 80h12v4h-12zM88 84h4v4h-4zM116 84h4v4h-4zM136 84h8v4h-8zM220 84h4v4h-4zM228 84h4v4h-4zM256 84h4v4h-4zM268 84h4v4h-4zM288 84h4v4h-4zM332 84h8v4h-8zM352 84h4v4h-4zM372 84h4v4h-4zM380 84h4v4h-4zM412 84h8v4h-8zM428 84h8v4h-8zM440 84h8v4h-8zM456 84h4v4h-4zM84 88h8v4h-8zM112 88h8v4h-8zM136 88h8v4h-8zM220 88h4v4h-4zM228 88h4v4h-4zM256 88h4v4h-4zM268 88h4v4h-4zM288 88h4v4h-4zM332 88h8v4h-8zM352 88h4v4h-4zM368 88h8v4h-8zM380 88h4v4h-4zM412 88h8v4h-8zM428 88h8v4h-8zM440 88h8v4h-8zM452 88h8v4h-8zM100 92h8v4h-8zM112 92h8v4h-8zM204 92h4v4h-4zM256 92h12v4h-12zM284 92h4v4h-4zM292 92h8v4h-8zM312 92h4v4h-4zM364 92h8v4h-8zM412 92h12v4h-12zM444 92h8v4h-8zM456 92h12v4h-12zM100 96h4v4h-4zM112 96h4v4h-4zM152 96h4v4h-4zM264 96h4v4h-4zM296 96h4v4h-4zM304 96h8v4h-8zM364 96h8v4h-8zM412 96h12v4h-12zM444 96h8v4h-8zM456 96h12v4h-12zM84 100h4v4h-4zM92 100h4v4h-4zM116 100h8v4h-8zM152 100h8v4h-8zM184 100h4v4h-4zM256 100h4v4h-4zM308 100h4v4h-4zM364 100h4v4h-4zM372 100h4v4h-4zM416 100h8v4h-8zM468 100h4v4h-4zM36 104h4v4h-4zM96 104h12v4h-12zM120 104h4v4h-4zM152 104h4v4h-4zM364 104h12v4h-12zM436 104h8v4h-8zM44 108h4v4h-4zM88 108h8v4h-8zM124 108h12v4h-12zM364 108h4v4h-4zM372 108h4v4h-4zM412 108h8v4h-8zM28 112h4v4h-4zM88 112h12v4h-12zM104 112h4v4h-4zM128 112h4v4h-4zM368 112h8v4h-8zM396 112h4v4h-4zM412 112h8v4h-8zM40 116h20v4h-20zM76 116h4v4h-4zM448 116h4v4h-4zM460 116h4v4h-4zM468 116h4v4h-4zM40 120h20v4h-20zM76 120h4v4h-4zM448 120h28v4h-28zM52 124h8v4h-8zM452 124h8v4h-8zM472 124h4v4h-4zM36 128h4v4h-4zM48 128h4v4h-4zM436 128h8v4h-8zM452 128h8v4h-8zM472 128h4v4h-4zM40 132h4v4h-4zM436 132h8v4h-8zM448 132h4v4h-4zM460 132h12v4h-12zM480 132h4v4h-4zM436 136h16v4h-16zM460 136h8v4h-8zM480 136h4v4h-4zM64 140h4v4h-4zM472 140h12v4h-12zM472 144h4v4h-4zM480 144h4v4h-4zM32 148h4v4h-4zM476 148h8v4h-8zM20 152h4v4h-4zM36 152h4v4h-4zM484 152h4v4h-4zM496 152h4v4h-4zM28 156h8v4h-8zM44 156h8v4h-8zM492 156h4v4h-4zM28 160h8v4h-8zM492 160h4v4h-4zM36 164h8v4h-8zM480 164h4v4h-4zM488 164h4v4h-4zM504 164h4v4h-4zM40 168h4v4h-4zM480 168h4v4h-4zM488 168h4v4h-4zM504 168h4v4h-4zM40 172h4v4h-4zM480 172h4v4h-4zM488 172h12v4h-12zM504 172h4v4h-4zM16 176h12v4h-12zM40 176h4v4h-4zM484 176h4v4h-4zM496 176h12v4h-12zM16 180h12v4h-12zM36 180h4v4h-4zM496 180h4v4h-4zM16 184h12v4h-12zM496 184h4v4h-4zM28 188h4v4h-4zM484 188h4v4h-4zM500 188h4v4h-4zM508 188h4v4h-4zM28 192h4v4h-4zM500 192h4v4h-4zM20 196h8v4h-8zM484 196h12v4h-12zM504 196h4v4h-4zM20 200h8v4h-8zM32 200h4v4h-4zM472 200h12v4h-12zM500 200h4v4h-4zM24 204h8v4h-8zM472 204h4v4h-4zM24 208h8v4h-8zM472 208h4v4h-4zM12 212h4v4h-4zM28 212h4v4h-4zM472 212h4v4h-4zM480 212h20v4h-20zM12 216h4v4h-4zM472 216h4v4h-4zM480 216h8v4h-8zM476 220h8v4h-8zM20 224h8v4h-8zM500 224h4v4h-4zM20 228h8v4h-8zM464 228h8v4h-8zM24 232h4v4h-4zM40 232h4v4h-4zM460 232h4v4h-4zM36 236h4v4h-4zM452 236h8v4h-8zM492 236h4v4h-4zM36 240h4v4h-4zM448 240h4v4h-4zM472 240h4v4h-4zM480 240h4v4h-4zM492 240h4v4h-4zM40 244h4v4h-4zM436 244h4v4h-4zM476 244h16v4h-16zM16 248h8v4h-8zM40 248h4v4h-4zM28 252h12v4h-12zM64 252h4v4h-4zM44 256h8v4h-8zM60 256h4v4h-4zM68 256h8v4h-8zM424 256h12v4h-12zM68 260h4v4h-4zM76 260h4v4h-4zM84 260h20v4h-20zM72 264h4v4h-4zM80 264h4v4h-4zM104 264h8v4h-8zM128 264h4v4h-4zM392 264h8v4h-8zM72 268h4v4h-4zM96 268h4v4h-4zM112 268h12v4h-12zM132 268h4v4h-4zM140 268h12v4h-12zM352 268h4v4h-4zM380 268h8v4h-8zM396 268h4v4h-4zM152 272h4v4h-4zM160 272h4v4h-4zM176 272h8v4h-8zM204 272h4v4h-4zM220 272h12v4h-12zM244 272h8v4h-8zM300 272h4v4h-4zM340 272h8v4h-8zM356 272h8v4h-8zM380 272h8v4h-8zM416 272h8v4h-8zM84 276h4v4h-4zM140 276h8v4h-8zM160 276h12v4h-12zM176 276h4v4h-4zM200 276h4v4h-4zM236 276h4v4h-4zM252 276h4v4h-4zM276 276h4v4h-4zM324 276h4v4h-4zM372 276h12v4h-12zM400 276h12v4h-12zM420 276h4v4h-4zM136 280h4v4h-4zM316 280h4v4h-4zM420 280h4v4h-4z"/>
<path fill="#ff9c00" d="M232 4h20v4h-20zM272 4h4v4h-4zM204 8h4v4h-4zM256 8h4v4h-4zM264 8h4v4h-4zM280 8h4v4h-4zM288 8h4v4h-4zM328 8h8v4h-8zM168 12h4v4h-4zM196 12h8v4h-8zM260 12h8v4h-8zM276 12h4v4h-4zM292 12h8v4h-8zM328 12h4v4h-4zM164 16h8v4h-8zM196 16h4v4h-4zM260 16h8v4h-8zM276 16h4v4h-4zM292 16h8v4h-8zM328 16h4v4h-4zM348 16h4v4h-4zM356 16h8v4h-8zM148 20h8v4h-8zM260 20h8v4h-8zM292 20h8v4h-8zM312 20h4v4h-4zM328 20h4v4h-4zM336 20h4v4h-4zM348 20h16v4h-16zM148 24h8v4h-8zM180 24h4v4h-4zM260 24h8v4h-8zM292 24h8v4h-8zM312 24h4v4h-4zM324 24h8v4h-8zM336 24h4v4h-4zM348 24h16v4h-16zM124 28h4v4h-4zM148 28h8v4h-8zM176 28h4v4h-4zM204 28h16v4h-16zM228 28h4v4h-4zM268 28h4v4h-4zM276 28h4v4h-4zM292 28h12v4h-12zM320 28h8v4h-8zM336 28h4v4h-4zM368 28h8v4h-8zM120 32h4v4h-4zM156 32h4v4h-4zM196 32h4v4h-4zM232 32h4v4h-4zM288 32h4v4h-4zM328 32h4v4h-4zM336 32h4v4h-4zM368 32h8v4h-8zM380 32h4v4h-4zM116 36h16v4h-16zM156 36h4v4h-4zM196 36h12v4h-12zM232 36h12v4h-12zM260 36h4v4h-4zM268 36h8v4h-8zM332 36h8v4h-8zM360 36h4v4h-4zM372 36h4v4h-4zM388 36h8v4h-8zM116 40h16v4h-16zM156 40h4v4h-4zM196 40h12v4h-12zM232 40h12v4h-12zM260 40h16v4h-16zM332 40h8v4h-8zM360 40h4v4h-4zM372 40h4v4h-4zM392 40h4v4h-4zM208 44h8v4h-8zM244 44h4v4h-4zM256 44h12v4h-12zM276 44h4v4h-4zM288 44h4v4h-4zM328 44h4v4h-4zM360 44h4v4h-4zM392 44h4v4h-4zM140 48h8v4h-8zM180 48h4v4h-4zM208 48h16v4h-16zM232 48h4v4h-4zM244 48h4v4h-4zM256 48h12v4h-12zM284 48h8v4h-8zM328 48h4v4h-4zM356 48h8v4h-8zM112 52h4v4h-4zM176 52h8v4h-8zM212 52h8v4h-8zM228 52h8v4h-8zM256 52h12v4h-12zM280 52h4v4h-4zM292 52h16v4h-16zM324 52h4v4h-4zM332 52h4v4h-4zM412 52h8v4h-8zM120 56h4v4h-4zM136 56h4v4h-4zM164 56h8v4h-8zM188 56h8v4h-8zM220 56h8v4h-8zM236 56h8v4h-8zM284 56h8v4h-8zM308 56h4v4h-4zM332 56h4v4h-4zM348 56h32v4h-32zM384 56h4v4h-4zM404 56h4v4h-4zM412 56h12v4h-12zM432 56h4v4h-4zM92 60h8v4h-8zM108 60h12v4h-12zM136 60h8v4h-8zM160 60h4v4h-4zM184 60h12v4h-12zM220 60h12v4h-12zM268 60h8v4h-8zM284 60h4v4h-4zM316 60h12v4h-12zM348 60h4v4h-4zM364 60h4v4h-4zM380 60h8v4h-8zM404 60h12v4h-12zM428 60h4v4h-4zM88 64h12v4h-12zM108 64h12v4h-12zM136 64h8v4h-8zM160 64h4v4h-4zM184 64h12v4h-12zM220 64h12v4h-12zM272 64h4v4h-4zM284 64h4v4h-4zM316 64h12v4h-12zM348 64h8v4h-8zM380 64h8v4h-8zM404 64h16v4h-16zM428 64h4v4h-4zM68 68h8v4h-8zM88 68h12v4h-12zM124 68h8v4h-8zM136 68h4v4h-4zM176 68h8v4h-8zM196 68h4v4h-4zM220 68h4v4h-4zM252 68h8v4h-8zM276 68h4v4h-4zM308 68h8v4h-8zM364 68h12v4h-12zM432 68h4v4h-4zM68 72h8v4h-8zM88 72h4v4h-4zM96 72h4v4h-4zM124 72h8v4h-8zM180 72h4v4h-4zM196 72h4v4h-4zM252 72h4v4h-4zM308 72h8v4h-8zM372 72h4v4h-4zM64 76h4v4h-4zM76 76h8v4h-8zM92 76h4v4h-4zM204 76h4v4h-4zM272 76h8v4h-8zM304 76h4v4h-4zM328 76h4v4h-4zM352 76h4v4h-4zM448 76h12v4h-12zM60 80h4v4h-4zM88 80h4v4h-4zM116 80h4v4h-4zM260 80h8v4h-8zM288 80h4v4h-4zM296 80h4v4h-4zM308 80h8v4h-8zM328 80h4v4h-4zM396 80h4v4h-4zM420 80h4v4h-4zM428 80h8v4h-8zM80 84h8v4h-8zM92 84h8v4h-8zM104 84h12v4h-12zM260 84h8v4h-8zM272 84h8v4h-8zM320 84h12v4h-12zM364 84h8v4h-8zM420 84h8v4h-8zM452 84h4v4h-4zM76 88h8v4h-8zM92 88h8v4h-8zM104 88h8v4h-8zM260 88h8v4h-8zM272 88h8v4h-8zM316 88h16v4h-16zM364 88h4v4h-4zM420 88h8v4h-8zM60 92h4v4h-4zM76 92h8v4h-8zM96 92h4v4h-4zM148 92h8v4h-8zM184 92h4v4h-4zM304 92h8v4h-8zM452 92h4v4h-4zM468 92h4v4h-4zM60 96h4v4h-4zM76 96h8v4h-8zM92 96h8v4h-8zM148 96h4v4h-4zM184 96h4v4h-4zM452 96h4v4h-4zM468 96h4v4h-4zM52 100h12v4h-12zM80 100h4v4h-4zM88 100h4v4h-4zM148 100h4v4h-4zM312 100h4v4h-4zM436 100h32v4h-32zM40 104h4v4h-4zM64 104h4v4h-4zM84 104h12v4h-12zM108 104h4v4h-4zM128 104h8v4h-8zM148 104h4v4h-4zM444 104h4v4h-4zM40 108h4v4h-4zM64 108h4v4h-4zM76 108h12v4h-12zM96 108h16v4h-16zM368 108h4v4h-4zM396 108h4v4h-4zM436 108h12v4h-12zM40 112h4v4h-4zM64 112h4v4h-4zM72 112h16v4h-16zM100 112h4v4h-4zM108 112h4v4h-4zM436 112h12v4h-12zM32 116h8v4h-8zM452 116h8v4h-8zM464 116h4v4h-4zM472 116h8v4h-8zM32 120h8v4h-8zM476 120h4v4h-4zM36 124h4v4h-4zM44 124h4v4h-4zM60 124h4v4h-4zM72 124h4v4h-4zM448 124h4v4h-4zM476 124h8v4h-8zM448 128h4v4h-4zM460 128h12v4h-12zM476 128h8v4h-8zM444 132h4v4h-4zM492 132h4v4h-4zM488 136h12v4h-12zM24 140h4v4h-4zM24 144h4v4h-4zM16 148h8v4h-8zM36 148h4v4h-4zM496 148h4v4h-4zM16 152h4v4h-4zM40 152h4v4h-4zM488 152h4v4h-4zM20 156h8v4h-8zM20 160h8v4h-8zM28 164h8v4h-8zM28 168h8v4h-8zM28 172h4v4h-4zM12 176h4v4h-4zM32 176h8v4h-8zM488 176h8v4h-8zM32 180h4v4h-4zM492 180h4v4h-4zM500 180h4v4h-4zM32 184h4v4h-4zM492 184h4v4h-4zM500 184h4v4h-4zM24 188h4v4h-4zM488 188h4v4h-4zM504 188h4v4h-4zM512 188h4v4h-4zM24 192h4v4h-4zM484 192h8v4h-8zM504 192h12v4h-12zM32 196h4v4h-4zM508 196h4v4h-4zM28 200h4v4h-4zM504 200h4v4h-4zM16 204h8v4h-8zM16 208h8v4h-8zM500 212h4v4h-4zM508 212h4v4h-4zM16 216h4v4h-4zM488 216h16v4h-16zM508 216h4v4h-4zM12 220h4v4h-4zM20 220h8v4h-8zM472 220h4v4h-4zM484 220h20v4h-20zM16 224h4v4h-4zM468 224h4v4h-4zM484 224h4v4h-4zM496 224h4v4h-4zM16 228h4v4h-4zM492 228h8v4h-8zM16 232h8v4h-8zM464 232h8v4h-8zM492 232h8v4h-8zM28 236h8v4h-8zM468 236h4v4h-4zM496 236h4v4h-4zM28 240h8v4h-8zM444 240h4v4h-4zM452 240h8v4h-8zM496 240h4v4h-4zM32 244h8v4h-8zM472 244h4v4h-4zM492 244h4v4h-4zM4 248h12v4h-12zM496 248h12v4h-12zM8 252h20v4h-20zM40 252h4v4h-4zM448 252h4v4h-4zM496 252h4v4h-4zM36 256h4v4h-4zM64 256h4v4h-4zM64 260h4v4h-4zM424 260h4v4h-4zM68 264h4v4h-4zM76 264h4v4h-4zM84 264h20v4h-20zM124 264h4v4h-4zM68 268h4v4h-4zM88 268h4v4h-4zM108 268h4v4h-4zM124 268h8v4h-8zM348 268h4v4h-4zM388 268h8v4h-8zM72 272h16v4h-16zM112 272h4v4h-4zM132 272h4v4h-4zM148 272h4v4h-4zM156 272h4v4h-4zM196 272h8v4h-8zM252 272h16v4h-16zM292 272h4v4h-4zM332 272h8v4h-8zM396 272h4v4h-4zM60 276h4v4h-4zM116 276h8v4h-8zM148 276h8v4h-8zM172 276h4v4h-4zM196 276h4v4h-4zM204 276h4v4h-4zM232 276h4v4h-4zM240 276h4v4h-4zM256 276h4v4h-4zM268 276h8v4h-8zM280 276h12v4h-12zM300 276h4v4h-4zM344 276h28v4h-28zM384 276h4v4h-4zM60 280h4v4h-4zM84 280h4v4h-4zM180 280h4v4h-4zM208 280h8v4h-8zM320 280h4v4h-4zM372 280h12v4h-12zM400 280h12v4h-12zM140 284h4v4h-4zM404 284h8v4h-8zM140 288h4v4h-4z"/>
<path fill="#ff8300" d="M268 4h4v4h-4zM276 4h28v4h-28zM252 8h4v4h-4zM268 8h8v4h-8zM292 8h12v4h-12zM268 12h8v4h-8zM332 12h8v4h-8zM200 16h4v4h-4zM268 16h8v4h-8zM332 16h8v4h-8zM160 20h12v4h-12zM176 20h4v4h-4zM196 20h4v4h-4zM208 20h4v4h-4zM220 20h4v4h-4zM228 20h4v4h-4zM324 20h4v4h-4zM132 24h4v4h-4zM160 24h12v4h-12zM176 24h4v4h-4zM208 24h4v4h-4zM228 24h4v4h-4zM120 28h4v4h-4zM132 28h4v4h-4zM160 28h4v4h-4zM172 28h4v4h-4zM180 28h4v4h-4zM196 28h8v4h-8zM272 28h4v4h-4zM388 28h4v4h-4zM136 32h8v4h-8zM148 32h8v4h-8zM188 32h8v4h-8zM236 32h8v4h-8zM268 32h4v4h-4zM280 32h4v4h-4zM376 32h4v4h-4zM384 32h4v4h-4zM396 32h8v4h-8zM136 36h8v4h-8zM184 36h4v4h-4zM280 36h12v4h-12zM376 36h4v4h-4zM384 36h4v4h-4zM396 36h8v4h-8zM136 40h8v4h-8zM184 40h4v4h-4zM280 40h4v4h-4zM288 40h4v4h-4zM376 40h4v4h-4zM384 40h4v4h-4zM396 40h16v4h-16zM104 44h8v4h-8zM140 44h8v4h-8zM156 44h4v4h-4zM172 44h4v4h-4zM180 44h4v4h-4zM216 44h24v4h-24zM332 44h20v4h-20zM356 44h4v4h-4zM104 48h8v4h-8zM156 48h8v4h-8zM172 48h8v4h-8zM224 48h8v4h-8zM236 48h8v4h-8zM276 48h4v4h-4zM336 48h16v4h-16zM420 48h4v4h-4zM136 52h8v4h-8zM156 52h4v4h-4zM164 52h12v4h-12zM220 52h8v4h-8zM236 52h8v4h-8zM276 52h4v4h-4zM328 52h4v4h-4zM336 52h4v4h-4zM348 52h4v4h-4zM88 56h20v4h-20zM112 56h4v4h-4zM140 56h8v4h-8zM160 56h4v4h-4zM276 56h4v4h-4zM312 56h4v4h-4zM328 56h4v4h-4zM336 56h12v4h-12zM408 56h4v4h-4zM424 56h8v4h-8zM88 60h4v4h-4zM100 60h8v4h-8zM276 60h8v4h-8zM288 60h4v4h-4zM308 60h8v4h-8zM352 60h12v4h-12zM416 60h8v4h-8zM432 60h8v4h-8zM100 64h8v4h-8zM276 64h8v4h-8zM288 64h4v4h-4zM308 64h4v4h-4zM356 64h8v4h-8zM420 64h4v4h-4zM432 64h16v4h-16zM64 68h4v4h-4zM84 68h4v4h-4zM108 68h8v4h-8zM120 68h4v4h-4zM132 68h4v4h-4zM328 68h4v4h-4zM336 68h4v4h-4zM352 68h4v4h-4zM448 68h4v4h-4zM64 72h4v4h-4zM84 72h4v4h-4zM108 72h16v4h-16zM132 72h4v4h-4zM328 72h12v4h-12zM352 72h4v4h-4zM448 72h8v4h-8zM60 76h4v4h-4zM68 76h8v4h-8zM88 76h4v4h-4zM108 76h16v4h-16zM128 76h8v4h-8zM336 76h4v4h-4zM52 80h8v4h-8zM64 80h4v4h-4zM84 80h4v4h-4zM100 80h8v4h-8zM268 80h12v4h-12zM292 80h4v4h-4zM300 80h4v4h-4zM320 80h4v4h-4zM332 80h8v4h-8zM424 80h4v4h-4zM460 80h4v4h-4zM52 84h4v4h-4zM76 84h4v4h-4zM100 84h4v4h-4zM300 84h8v4h-8zM312 84h8v4h-8zM460 84h4v4h-4zM52 88h12v4h-12zM100 88h4v4h-4zM300 88h16v4h-16zM460 88h4v4h-4zM468 88h4v4h-4zM52 92h8v4h-8zM72 92h4v4h-4zM84 92h12v4h-12zM436 92h8v4h-8zM52 96h8v4h-8zM72 96h4v4h-4zM84 96h8v4h-8zM436 96h8v4h-8zM472 96h4v4h-4zM36 100h4v4h-4zM76 100h4v4h-4zM472 100h4v4h-4zM44 104h8v4h-8zM68 104h8v4h-8zM80 104h4v4h-4zM124 104h4v4h-4zM460 104h16v4h-16zM68 108h8v4h-8zM460 108h8v4h-8zM68 112h4v4h-4zM460 112h8v4h-8zM28 116h4v4h-4zM60 116h8v4h-8zM480 116h4v4h-4zM28 120h4v4h-4zM60 120h8v4h-8zM480 120h4v4h-4zM48 124h4v4h-4zM64 124h8v4h-8zM496 124h4v4h-4zM24 128h4v4h-4zM444 128h4v4h-4zM484 128h16v4h-16zM24 132h16v4h-16zM484 132h8v4h-8zM496 132h4v4h-4zM24 136h16v4h-16zM484 136h4v4h-4zM500 136h4v4h-4zM16 140h8v4h-8zM16 144h8v4h-8zM496 144h4v4h-4zM500 148h8v4h-8zM500 152h8v4h-8zM16 156h4v4h-4zM496 156h8v4h-8zM16 160h4v4h-4zM496 160h12v4h-12zM8 180h8v4h-8zM28 180h4v4h-4zM504 180h4v4h-4zM8 184h8v4h-8zM28 184h4v4h-4zM504 184h4v4h-4zM20 188h4v4h-4zM492 188h4v4h-4zM20 192h4v4h-4zM492 192h4v4h-4zM16 196h4v4h-4zM28 196h4v4h-4zM16 200h4v4h-4zM500 204h4v4h-4zM12 208h4v4h-4zM500 208h4v4h-4zM8 212h4v4h-4zM16 212h4v4h-4zM24 212h4v4h-4zM504 212h4v4h-4zM512 212h4v4h-4zM8 216h4v4h-4zM20 216h8v4h-8zM504 216h4v4h-4zM512 216h4v4h-4zM8 220h4v4h-4zM504 220h4v4h-4zM488 224h8v4h-8zM504 224h4v4h-4zM484 228h8v4h-8zM500 228h4v4h-4zM484 232h8v4h-8zM460 236h8v4h-8zM500 236h4v4h-4zM468 240h4v4h-4zM500 240h4v4h-4zM12 244h4v4h-4zM28 244h4v4h-4zM440 244h12v4h-12zM496 244h12v4h-12zM436 248h4v4h-4zM448 248h8v4h-8zM452 252h4v4h-4zM500 252h4v4h-4zM8 256h28v4h-28zM40 256h4v4h-4zM448 256h4v4h-4zM496 256h8v4h-8zM504 260h4v4h-4zM64 264h4v4h-4zM424 264h4v4h-4zM64 268h4v4h-4zM76 268h12v4h-12zM68 272h4v4h-4zM108 272h4v4h-4zM116 272h16v4h-16zM184 272h12v4h-12zM296 272h4v4h-4zM328 272h4v4h-4zM348 272h8v4h-8zM388 272h8v4h-8zM56 276h4v4h-4zM112 276h4v4h-4zM132 276h4v4h-4zM156 276h4v4h-4zM228 276h4v4h-4zM244 276h8v4h-8zM260 276h8v4h-8zM340 276h4v4h-4zM396 276h4v4h-4zM56 280h4v4h-4zM116 280h8v4h-8zM140 280h8v4h-8zM160 280h12v4h-12zM176 280h4v4h-4zM200 280h4v4h-4zM216 280h4v4h-4zM276 280h4v4h-4zM324 280h4v4h-4zM352 280h12v4h-12zM384 280h4v4h-4zM84 284h8v4h-8zM136 284h4v4h-4zM144 284h4v4h-4zM372 284h4v4h-4zM388 284h8v4h-8zM400 284h4v4h-4zM424 284h8v4h-8zM464 284h4v4h-4zM84 288h8v4h-8zM136 288h4v4h-4zM144 288h4v4h-4zM192 288h4v4h-4zM236 288h8v4h-8zM256 288h4v4h-4zM276 288h4v4h-4zM400 288h12v4h-12zM424 288h8v4h-8zM192 292h4v4h-4zM256 292h4v4h-4z"/>
<path fill="#ff6700" d="M252 4h4v4h-4zM276 8h4v4h-4zM152 16h12v4h-12zM140 20h8v4h-8zM172 20h4v4h-4zM200 20h8v4h-8zM224 20h4v4h-4zM140 24h8v4h-8zM172 24h4v4h-4zM196 24h12v4h-12zM220 24h8v4h-8zM136 28h8v4h-8zM164 28h8v4h-8zM220 28h8v4h-8zM144 32h4v4h-4zM184 32h4v4h-4zM272 32h8v4h-8zM388 32h8v4h-8zM144 36h12v4h-12zM188 36h8v4h-8zM276 36h4v4h-4zM380 36h4v4h-4zM144 40h12v4h-12zM188 40h8v4h-8zM276 40h4v4h-4zM284 40h4v4h-4zM380 40h4v4h-4zM96 44h8v4h-8zM136 44h4v4h-4zM148 44h8v4h-8zM160 44h4v4h-4zM168 44h4v4h-4zM176 44h4v4h-4zM240 44h4v4h-4zM372 44h4v4h-4zM88 48h16v4h-16zM136 48h4v4h-4zM148 48h8v4h-8zM164 48h8v4h-8zM332 48h4v4h-4zM364 48h4v4h-4zM372 48h4v4h-4zM88 52h12v4h-12zM144 52h4v4h-4zM160 52h4v4h-4zM340 52h8v4h-8zM364 52h12v4h-12zM108 56h4v4h-4zM280 56h4v4h-4zM304 56h4v4h-4zM76 60h8v4h-8zM304 60h4v4h-4zM328 60h12v4h-12zM424 60h4v4h-4zM440 60h4v4h-4zM76 64h8v4h-8zM304 64h4v4h-4zM312 64h4v4h-4zM328 64h12v4h-12zM424 64h4v4h-4zM76 68h8v4h-8zM116 68h4v4h-4zM332 68h4v4h-4zM76 72h8v4h-8zM104 72h4v4h-4zM56 76h4v4h-4zM84 76h4v4h-4zM100 76h8v4h-8zM124 76h4v4h-4zM332 76h4v4h-4zM68 80h8v4h-8zM304 80h4v4h-4zM316 80h4v4h-4zM48 84h4v4h-4zM56 84h20v4h-20zM292 84h8v4h-8zM308 84h4v4h-4zM464 84h4v4h-4zM48 88h4v4h-4zM64 88h12v4h-12zM292 88h8v4h-8zM464 88h4v4h-4zM64 92h8v4h-8zM472 92h4v4h-4zM48 96h4v4h-4zM64 96h8v4h-8zM476 96h4v4h-4zM40 100h4v4h-4zM64 100h4v4h-4zM476 100h4v4h-4zM76 104h4v4h-4zM476 104h8v4h-8zM468 108h8v4h-8zM484 108h4v4h-4zM468 112h8v4h-8zM484 112h8v4h-8zM68 116h8v4h-8zM24 120h4v4h-4zM68 120h8v4h-8zM24 124h12v4h-12zM484 124h4v4h-4zM492 124h4v4h-4zM28 128h8v4h-8zM16 132h8v4h-8zM500 132h4v4h-4zM16 136h8v4h-8zM496 140h8v4h-8zM500 144h8v4h-8zM12 148h4v4h-4zM12 152h4v4h-4zM504 156h8v4h-8zM508 160h4v4h-4zM16 164h12v4h-12zM16 168h12v4h-12zM12 172h8v4h-8zM24 172h4v4h-4zM8 176h4v4h-4zM28 176h4v4h-4zM4 180h4v4h-4zM4 184h4v4h-4zM16 188h4v4h-4zM16 192h4v4h-4zM512 196h4v4h-4zM8 200h4v4h-4zM508 200h4v4h-4zM8 204h8v4h-8zM504 204h8v4h-8zM8 208h4v4h-4zM504 208h4v4h-4zM20 212h4v4h-4zM4 216h4v4h-4zM16 220h4v4h-4zM508 220h4v4h-4zM12 224h4v4h-4zM12 228h4v4h-4zM504 228h4v4h-4zM12 232h4v4h-4zM500 232h8v4h-8zM12 236h4v4h-4zM504 236h4v4h-4zM12 240h4v4h-4zM460 240h8v4h-8zM504 240h4v4h-4zM8 244h4v4h-4zM452 244h8v4h-8zM456 248h4v4h-4zM476 248h16v4h-16zM444 252h4v4h-4zM456 252h12v4h-12zM492 252h4v4h-4zM504 252h4v4h-4zM452 256h8v4h-8zM504 256h4v4h-4zM24 260h28v4h-28zM428 260h12v4h-12zM496 260h8v4h-8zM428 264h4v4h-4zM436 264h4v4h-4zM496 264h8v4h-8zM100 268h8v4h-8zM428 268h8v4h-8zM60 272h4v4h-4zM92 272h8v4h-8zM428 272h4v4h-4zM436 272h4v4h-4zM52 276h4v4h-4zM64 276h4v4h-4zM72 276h12v4h-12zM100 276h8v4h-8zM124 276h8v4h-8zM184 276h12v4h-12zM220 276h8v4h-8zM292 276h8v4h-8zM328 276h12v4h-12zM388 276h8v4h-8zM444 276h4v4h-4zM52 280h4v4h-4zM64 280h4v4h-4zM80 280h4v4h-4zM132 280h4v4h-4zM148 280h12v4h-12zM172 280h4v4h-4zM196 280h4v4h-4zM204 280h4v4h-4zM236 280h8v4h-8zM252 280h8v4h-8zM268 280h8v4h-8zM284 280h8v4h-8zM300 280h4v4h-4zM340 280h12v4h-12zM364 280h8v4h-8zM396 280h4v4h-4zM444 280h4v4h-4zM64 284h4v4h-4zM80 284h4v4h-4zM92 284h8v4h-8zM120 284h4v4h-4zM148 284h8v4h-8zM192 284h4v4h-4zM236 284h8v4h-8zM256 284h4v4h-4zM272 284h8v4h-8zM320 284h4v4h-4zM360 284h12v4h-12zM396 284h4v4h-4zM420 284h4v4h-4zM432 284h12v4h-12zM92 288h8v4h-8zM148 288h8v4h-8zM184 288h8v4h-8zM232 288h4v4h-4zM260 288h16v4h-16zM320 288h4v4h-4zM372 288h4v4h-4zM388 288h12v4h-12zM432 288h12v4h-12zM188 292h4v4h-4zM220 292h8v4h-8zM260 292h4v4h-4zM296 292h4v4h-4z"/>
<path fill="#ff4c00" d="M364 16h4v4h-4zM136 24h4v4h-4zM144 28h4v4h-4zM164 44h4v4h-4zM364 44h8v4h-8zM368 48h4v4h-4zM84 52h4v4h-4zM100 52h12v4h-12zM84 56h4v4h-4zM84 60h4v4h-4zM68 64h8v4h-8zM84 64h4v4h-4zM100 68h8v4h-8zM60 72h4v4h-4zM100 72h4v4h-4zM40 92h12v4h-12zM40 96h8v4h-8zM44 100h8v4h-8zM68 100h8v4h-8zM476 108h8v4h-8zM476 112h8v4h-8zM484 116h8v4h-8zM484 120h8v4h-8zM20 124h4v4h-4zM488 124h4v4h-4zM20 128h4v4h-4zM12 144h4v4h-4zM12 164h4v4h-4zM508 164h4v4h-4zM12 168h4v4h-4zM20 172h4v4h-4zM508 172h4v4h-4zM4 176h4v4h-4zM508 176h8v4h-8zM508 180h4v4h-4zM508 184h4v4h-4zM8 196h4v4h-4zM4 200h4v4h-4zM12 200h4v4h-4zM4 204h4v4h-4zM512 204h4v4h-4zM4 208h4v4h-4zM508 208h4v4h-4zM4 212h4v4h-4zM4 220h4v4h-4zM8 224h4v4h-4zM4 228h8v4h-8zM508 228h4v4h-4zM4 232h8v4h-8zM8 236h4v4h-4zM8 240h4v4h-4zM4 244h4v4h-4zM460 244h12v4h-12zM508 244h4v4h-4zM440 248h8v4h-8zM460 248h16v4h-16zM492 248h4v4h-4zM508 248h4v4h-4zM436 252h8v4h-8zM468 252h24v4h-24zM436 256h4v4h-4zM444 256h4v4h-4zM460 256h8v4h-8zM492 256h4v4h-4zM8 260h8v4h-8zM20 260h4v4h-4zM52 260h12v4h-12zM440 260h4v4h-4zM480 260h4v4h-4zM492 260h4v4h-4zM28 264h4v4h-4zM36 264h4v4h-4zM48 264h4v4h-4zM432 264h4v4h-4zM440 264h4v4h-4zM424 268h4v4h-4zM52 272h8v4h-8zM64 272h4v4h-4zM88 272h4v4h-4zM100 272h8v4h-8zM424 272h4v4h-4zM432 272h4v4h-4zM440 272h8v4h-8zM68 276h4v4h-4zM88 276h4v4h-4zM96 276h4v4h-4zM108 276h4v4h-4zM424 276h4v4h-4zM436 276h8v4h-8zM68 280h12v4h-12zM100 280h8v4h-8zM112 280h4v4h-4zM124 280h8v4h-8zM232 280h4v4h-4zM244 280h8v4h-8zM280 280h4v4h-4zM392 280h4v4h-4zM436 280h4v4h-4zM60 284h4v4h-4zM76 284h4v4h-4zM112 284h8v4h-8zM132 284h4v4h-4zM172 284h8v4h-8zM184 284h8v4h-8zM232 284h4v4h-4zM260 284h12v4h-12zM300 284h4v4h-4zM308 284h4v4h-4zM316 284h4v4h-4zM324 284h4v4h-4zM352 284h8v4h-8zM412 284h8v4h-8zM444 284h4v4h-4zM68 288h4v4h-4zM76 288h8v4h-8zM116 288h8v4h-8zM132 288h4v4h-4zM172 288h8v4h-8zM204 288h8v4h-8zM224 288h8v4h-8zM292 288h4v4h-4zM300 288h20v4h-20zM324 288h4v4h-4zM356 288h16v4h-16zM412 288h12v4h-12zM160 292h4v4h-4zM168 292h4v4h-4zM180 292h4v4h-4zM232 292h12v4h-12zM264 292h16v4h-16zM292 292h4v4h-4zM300 292h4v4h-4z"/>
<path fill="#ff3000" d="M80 56h4v4h-4zM492 120h4v4h-4zM12 156h4v4h-4zM8 160h8v4h-8zM508 168h4v4h-4zM8 172h4v4h-4zM512 172h4v4h-4zM512 180h4v4h-4zM512 184h4v4h-4zM12 188h4v4h-4zM12 192h4v4h-4zM4 196h4v4h-4zM12 196h4v4h-4zM512 200h4v4h-4zM512 208h4v4h-4zM508 232h8v4h-8zM4 236h4v4h-4zM508 236h4v4h-4zM4 240h4v4h-4zM508 240h4v4h-4zM508 252h4v4h-4zM440 256h4v4h-4zM468 256h16v4h-16zM488 256h4v4h-4zM508 256h4v4h-4zM444 260h4v4h-4zM472 260h8v4h-8zM484 260h4v4h-4zM24 264h4v4h-4zM32 264h4v4h-4zM40 264h8v4h-8zM56 264h8v4h-8zM472 264h12v4h-12zM492 264h4v4h-4zM436 268h4v4h-4zM444 268h4v4h-4zM472 268h4v4h-4zM480 268h12v4h-12zM92 276h4v4h-4zM428 276h8v4h-8zM480 276h4v4h-4zM88 280h4v4h-4zM96 280h4v4h-4zM108 280h4v4h-4zM184 280h4v4h-4zM192 280h4v4h-4zM220 280h12v4h-12zM260 280h8v4h-8zM292 280h8v4h-8zM328 280h12v4h-12zM388 280h4v4h-4zM424 280h12v4h-12zM440 280h4v4h-4zM448 280h12v4h-12zM472 280h4v4h-4zM48 284h12v4h-12zM68 284h8v4h-8zM128 284h4v4h-4zM156 284h4v4h-4zM164 284h8v4h-8zM180 284h4v4h-4zM204 284h8v4h-8zM224 284h8v4h-8zM288 284h8v4h-8zM304 284h4v4h-4zM312 284h4v4h-4zM332 284h8v4h-8zM376 284h12v4h-12zM452 284h8v4h-8zM72 288h4v4h-4zM112 288h4v4h-4zM156 288h4v4h-4zM164 288h8v4h-8zM180 288h4v4h-4zM196 288h8v4h-8zM212 288h12v4h-12zM244 288h12v4h-12zM280 288h12v4h-12zM296 288h4v4h-4zM332 288h8v4h-8zM352 288h4v4h-4zM384 288h4v4h-4zM196 292h8v4h-8zM216 292h4v4h-4zM228 292h4v4h-4zM244 292h12v4h-12zM304 292h12v4h-12zM324 292h4v4h-4zM332 292h8v4h-8zM364 292h4v4h-4zM244 296h4v4h-4z"/>
<path fill="#ff1400" d="M8 164h4v4h-4zM8 168h4v4h-4zM8 188h4v4h-4zM8 192h4v4h-4zM4 224h4v4h-4zM508 224h4v4h-4zM512 236h4v4h-4zM484 256h4v4h-4zM16 260h4v4h-4zM488 260h4v4h-4zM12 264h4v4h-4zM20 264h4v4h-4zM52 264h4v4h-4zM444 264h4v4h-4zM484 264h8v4h-8zM28 268h12v4h-12zM60 268h4v4h-4zM440 268h4v4h-4zM476 268h4v4h-4zM492 268h4v4h-4zM472 272h4v4h-4zM480 272h12v4h-12zM48 276h4v4h-4zM448 276h16v4h-16zM472 276h8v4h-8zM484 276h4v4h-4zM48 280h4v4h-4zM92 280h4v4h-4zM188 280h4v4h-4zM460 280h4v4h-4zM108 284h4v4h-4zM124 284h4v4h-4zM160 284h4v4h-4zM196 284h8v4h-8zM212 284h12v4h-12zM244 284h12v4h-12zM280 284h8v4h-8zM296 284h4v4h-4zM328 284h4v4h-4zM340 284h12v4h-12zM448 284h4v4h-4zM108 288h4v4h-4zM124 288h8v4h-8zM160 288h4v4h-4zM328 288h4v4h-4zM344 288h8v4h-8zM376 288h8v4h-8zM204 292h12v4h-12zM316 292h8v4h-8zM328 292h4v4h-4z"/>
<path fill="#ff000a" d="M4 188h4v4h-4zM4 192h4v4h-4zM448 260h12v4h-12zM16 264h4v4h-4zM448 264h12v4h-12zM40 268h20v4h-20zM448 268h12v4h-12zM20 272h8v4h-8zM448 272h12v4h-12zM468 272h4v4h-4zM476 272h4v4h-4zM44 276h4v4h-4zM464 276h8v4h-8zM44 280h4v4h-4zM464 280h8v4h-8zM100 284h8v4h-8zM100 288h8v4h-8zM340 288h4v4h-4zM280 292h12v4h-12zM344 292h4v4h-4z"/>
<path fill="#ff002c" d="M468 260h4v4h-4zM16 268h12v4h-12zM468 268h4v4h-4zM28 272h8v4h-8zM40 272h4v4h-4zM460 272h8v4h-8zM36 280h8v4h-8z"/>
<path fill="#ff004d" d="M460 260h8v4h-8zM460 264h12v4h-12zM460 268h8v4h-8zM36 272h4v4h-4zM44 272h8v4h-8zM32 276h12v4h-12z"/>
</g>
<g fill="none" stroke-linejoin="round" filter="url(#rb)"><path d="M176.2 1099.2L177.9 1096.1L177.5 1093.0L179.3 1090.1L180.2 1088.0L181.4 1084.3L183.0 1081.3L184.7 1080.0L186.3 1076.4L188.1 1074.3L189.4 1070.9L191.6 1068.1L192.2 1065.4L195.3 1062.7L195.2 1060.8L198.4 1057.2L199.7 1055.7L201.9 1051.2L202.9 1050.3L204.9 1046.3L208.3 1044.9L210.7 1041.1L211.3 1039.8L214.3 1036.2L216.8 1035.9L219.0 1033.4L219.5 1030.8L221.7 1028.8L224.2 1024.9L228.1 1022.7L228.8 1020.5L231.9 1019.3L235.5 1017.8L237.0 1015.9L239.8 1013.2L241.5 1011.2L244.9 1009.6L247.8 1006.6L248.6 1004.3L252.8 1002.3L256.0 1000.3L258.1 1000.0L259.8 996.8L263.6 995.3L264.8 994.8L268.4 992.0L272.2 991.9L273.6 988.7L276.4 987.7L278.9 985.8L281.5 985.6L285.9 983.0L287.7 981.8L290.8 980.6L294.2 980.2L296.2 977.0L300.3 977.3L302.3 976.5L306.3 973.5L309.5 973.5L311.3 972.0L315.0 972.2L318.6 970.6L321.1 970.0L323.3 968.6L327.5 968.1L330.9 966.6L333.6 965.2L337.7 965.8L340.0 964.5L343.8 964.3L345.3 964.6L348.4 962.9L353.1 962.0L355.3 961.8L358.0 962.5L362.8 962.1L364.7 961.5L368.8 961.2L371.9 959.4L375.5 958.7L378.1 958.7L381.6 958.6L383.9 958.1L386.9 958.8L391.5 958.1L393.7 958.8L398.1 957.3L400.6 958.3L403.8 957.2L405.9 957.8L410.9 957.2L413.1 956.6L416.6 956.9L419.4 957.9L422.3 957.5L426.9 957.6L429.4 956.9L431.4 957.9L436.0 958.9L438.6 958.7L442.2 958.4L446.2 959.4L448.3 959.4L452.7 959.0L455.3 958.0L457.2 958.4L462.4 958.6L465.1 959.7L468.9 959.9L470.3 961.6L473.4 960.2L478.4 962.3L481.0 962.3L482.8 962.8L487.5 962.9L490.7 963.4L494.2 963.5L496.9 963.0L498.7 964.3L501.6 965.2L504.8 966.4L507.9 966.5L511.5 967.2L515.9 967.3L518.3 967.9L521.3 970.4L525.0 970.3L526.4 972.8L529.8 972.2L533.4 973.6L537.2 975.1L539.3 976.9L541.0 977.6L545.6 978.2L547.2 980.1L551.3 982.1L553.2 984.1L557.1 986.0L559.6 986.4L561.9 987.9L563.8 990.7L566.3 993.1L569.2 992.9L571.7 995.9L574.5 997.3L577.5 998.1L581.2 1000.5L583.6 1001.5L585.0 1001.7L587.7 1004.5L592.3 1007.1L594.0 1009.0L595.7 1010.5L598.4 1012.6L601.9 1014.4L603.2 1015.8L606.4 1018.5L609.7 1020.9L611.8 1022.4L612.8 1025.6L615.6 1026.4L618.2 1029.8L620.9 1031.1L621.6 1034.5L623.5 1036.0L625.8 1039.2L628.9 1040.6L631.2 1042.7L633.2 1046.3L634.7 1047.8L638.2 1051.2L639.3 1053.7L640.8 1055.1L643.1 1057.7L645.4 1060.3L647.1 1062.8L648.1 1065.9L649.4 1067.9L651.8 1070.8L654.1 1074.7L654.8 1077.8L657.6 1079.0L657.6 1082.1L659.5 1084.9L662.2 1089.3L662.2 1091.8L664.4 1094.3L665.4 1096.7L667.5 1100.8L667.1 1103.0L667.7 1107.0L670.1 1109.6L671.0 1112.1L672.1 1114.4L672.8 1119.4L671.4 1120.7L672.4 1123.9L673.7 1127.6L674.8 1130.7L675.1 1133.3L674.5 1137.7L675.4 1139.7L674.9 1143.9L674.4 1147.4L674.5 1149.4L674.7 1153.4L674.4 1157.0L675.1 1159.9L674.9 1163.1L673.5 1165.6L674.5 1169.8L672.6 1173.5L672.3 1175.5L672.1 1179.5L672.8 1181.1L671.7 1186.0L673.7 1187.8L673.4 1191.4L671.7 1194.3L672.0 1196.9L672.3 1201.7L671.6 1203.3L672.3 1206.3L670.0 1208.7L669.4 1210.2L666.5 1212.5L664.8 1214.3L662.3 1217.3L659.9 1218.8L656.2 1220.9L653.7 1222.2L651.4 1225.4L647.5 1225.6L645.0 1229.0L642.4 1228.6L638.2 1230.8L636.5 1230.9L633.2 1233.6L631.0 1233.4L626.9 1235.0L625.2 1236.4L621.4 1235.9L617.5 1237.5L615.7 1237.4L612.2 1239.2L607.9 1239.6L605.5 1238.9L602.9 1240.8L600.3 1239.3L595.1 1241.4L594.1 1241.0L589.5 1240.9L587.7 1241.9L583.6 1242.0L580.9 1242.7L577.1 1241.3L574.0 1240.8L570.0 1242.9L567.4 1242.8L564.5 1242.6L561.5 1242.2L558.1 1242.6L554.7 1242.9L551.8 1242.1L547.4 1243.0L544.9 1243.0L541.2 1242.8L537.8 1242.5L534.6 1243.2L531.4 1241.8L528.0 1243.7L525.4 1244.1L521.8 1242.7L519.8 1242.6L515.9 1243.0L511.6 1243.3L508.9 1244.8L505.5 1244.2L503.3 1243.7L500.3 1243.6L497.1 1244.1L493.4 1244.9L489.3 1244.5L486.1 1244.9L484.2 1245.0L480.2 1246.0L477.6 1245.3L473.9 1245.3L471.1 1246.1L467.4 1245.3L464.8 1246.0L461.1 1245.8L457.7 1246.6L454.2 1247.2L450.4 1246.4L447.9 1247.3L444.0 1246.6L442.8 1247.2L437.9 1246.1L436.1 1246.8L433.0 1247.9L429.4 1247.3L425.9 1247.7L421.8 1247.2L419.3 1247.2L415.8 1247.9L412.4 1246.2L410.0 1247.3L406.2 1248.1L404.3 1247.1L401.1 1246.3L396.4 1247.7L392.9 1246.3L389.9 1247.2L387.3 1246.7L384.6 1247.5L380.3 1246.6L377.2 1246.9L375.3 1244.9L371.1 1246.9L368.3 1244.7L364.3 1245.1L360.8 1246.3L358.5 1244.1L355.2 1245.7L351.2 1245.6L349.1 1244.4L345.7 1243.9L342.7 1244.9L338.4 1244.0L336.5 1243.1L332.1 1244.6L329.5 1244.4L326.9 1243.4L322.0 1244.0L319.4 1242.9L317.4 1243.4L314.1 1242.6L310.2 1242.8L307.7 1242.0L304.7 1243.7L301.2 1242.1L298.0 1241.7L293.2 1241.7L291.1 1241.4L288.0 1242.9L284.6 1242.6L281.8 1243.1L276.9 1242.4L275.3 1243.0L272.0 1242.7L267.8 1242.9L264.6 1242.0L262.2 1242.4L258.3 1241.3L256.1 1241.4L252.2 1240.9L249.7 1241.3L247.0 1240.7L242.3 1240.8L238.8 1241.7L237.3 1240.0L233.3 1241.0L231.1 1239.9L227.2 1238.8L224.9 1239.3L220.8 1238.2L217.6 1236.8L213.7 1237.2L211.1 1235.6L207.3 1234.6L204.5 1233.5L202.8 1233.3L198.2 1231.2L195.9 1231.1L194.0 1228.6L190.7 1227.6L187.8 1225.9L183.8 1224.9L181.7 1223.1L179.4 1219.5L177.9 1218.2L174.1 1216.6L172.4 1213.1L170.9 1211.5L170.7 1207.2L169.1 1205.0L167.4 1202.1L167.8 1198.0L166.7 1194.3L167.7 1191.9L166.3 1189.8L165.5 1185.2L166.6 1183.0L167.0 1178.4L165.9 1175.6L166.6 1171.9L166.0 1170.0L166.0 1166.8L166.9 1163.6L166.7 1159.4L165.1 1157.2L166.7 1153.0L166.3 1150.2L167.6 1146.9L166.3 1143.7L166.8 1139.8L166.7 1137.9L167.9 1134.9L167.7 1131.5L169.4 1128.4L170.4 1124.1L170.8 1120.9L171.6 1118.6L171.4 1116.3L173.4 1111.6L173.3 1109.1L175.1 1106.0L175.6 1103.1Z" stroke="#ff0" stroke-width="8.6"/><path d="M176.2 1099.2L177.9 1096.1L177.5 1093.0L179.3 1090.1L180.2 1088.0L181.4 1084.3L183.0 1081.3L184.7 1080.0L186.3 1076.4L188.1 1074.3L189.4 1070.9L191.6 1068.1L192.2 1065.4L195.3 1062.7L195.2 1060.8L198.4 1057.2L199.7 1055.7L201.9 1051.2L202.9 1050.3L204.9 1046.3L208.3 1044.9L210.7 1041.1L211.3 1039.8L214.3 1036.2L216.8 1035.9L219.0 1033.4L219.5 1030.8L221.7 1028.8L224.2 1024.9L228.1 1022.7L228.8 1020.5L231.9 1019.3L235.5 1017.8L237.0 1015.9L239.8 1013.2L241.5 1011.2L244.9 1009.6L247.8 1006.6L248.6 1004.3L252.8 1002.3L256.0 1000.3L258.1 1000.0L259.8 996.8L263.6 995.3L264.8 994.8L268.4 992.0L272.2 991.9L273.6 988.7L276.4 987.7L278.9 985.8L281.5 985.6L285.9 983.0L287.7 981.8L290.8 980.6L294.2 980.2L296.2 977.0L300.3 977.3L302.3 976.5L306.3 973.5L309.5 973.5L311.3 972.0L315.0 972.2L318.6 970.6L321.1 970.0L323.3 968.6L327.5 968.1L330.9 966.6L333.6 965.2L337.7 965.8L340.0 964.5L343.8 964.3L345.3 964.6L348.4 962.9L353.1 962.0L355.3 961.8L358.0 962.5L362.8 962.1L364.7 961.5L368.8 961.2L371.9 959.4L375.5 958.7L378.1 958.7L381.6 958.6L383.9 958.1L386.9 958.8L391.5 958.1L393.7 958.8L398.1 957.3L400.6 958.3L403.8 957.2L405.9 957.8L410.9 957.2L413.1 956.6L416.6 956.9L419.4 957.9L422.3 957.5L426.9 957.6L429.4 956.9L431.4 957.9L436.0 958.9L438.6 958.7L442.2 958.4L446.2 959.4L448.3 959.4L452.7 959.0L455.3 958.0L457.2 958.4L462.4 958.6L465.1 959.7L468.9 959.9L470.3 961.6L473.4 960.2L478.4 962.3L481.0 962.3L482.8 962.8L487.5 962.9L490.7 963.4L494.2 963.5L496.9 963.0L498.7 964.3L501.6 965.2L504.8 966.4L507.9 966.5L511.5 967.2L515.9 967.3L518.3 967.9L521.3 970.4L525.0 970.3L526.4 972.8L529.8 972.2L533.4 973.6L537.2 975.1L539.3 976.9L541.0 977.6L545.6 978.2L547.2 980.1L551.3 982.1L553.2 984.1L557.1 986.0L559.6 986.4L561.9 987.9L563.8 990.7L566.3 993.1L569.2 992.9L571.7 995.9L574.5 997.3L577.5 998.1L581.2 1000.5L583.6 1001.5L585.0 1001.7L587.7 1004.5L592.3 1007.1L594.0 1009.0L595.7 1010.5L598.4 1012.6L601.9 1014.4L603.2 1015.8L606.4 1018.5L609.7 1020.9L611.8 1022.4L612.8 1025.6L615.6 1026.4L618.2 1029.8L620.9 1031.1L621.6 1034.5L623.5 1036.0L625.8 1039.2L628.9 1040.6L631.2 1042.7L633.2 1046.3L634.7 1047.8L638.2 1051.2L639.3 1053.7L640.8 1055.1L643.1 1057.7L645.4 1060.3L647.1 1062.8L648.1 1065.9L649.4 1067.9L651.8 1070.8L654.1 1074.7L654.8 1077.8L657.6 1079.0L657.6 1082.1L659.5 1084.9L662.2 1089.3L662.2 1091.8L664.4 1094.3L665.4 1096.7L667.5 1100.8L667.1 1103.0L667.7 1107.0L670.1 1109.6L671.0 1112.1L672.1 1114.4L672.8 1119.4L671.4 1120.7L672.4 1123.9L673.7 1127.6L674.8 1130.7L675.1 1133.3L674.5 1137.7L675.4 1139.7L674.9 1143.9L674.4 1147.4L674.5 1149.4L674.7 1153.4L674.4 1157.0L675.1 1159.9L674.9 1163.1L673.5 1165.6L674.5 1169.8L672.6 1173.5L672.3 1175.5L672.1 1179.5L672.8 1181.1L671.7 1186.0L673.7 1187.8L673.4 1191.4L671.7 1194.3L672.0 1196.9L672.3 1201.7L671.6 1203.3L672.3 1206.3L670.0 1208.7L669.4 1210.2L666.5 1212.5L664.8 1214.3L662.3 1217.3L659.9 1218.8L656.2 1220.9L653.7 1222.2L651.4 1225.4L647.5 1225.6L645.0 1229.0L642.4 1228.6L638.2 1230.8L636.5 1230.9L633.2 1233.6L631.0 1233.4L626.9 1235.0L625.2 1236.4L621.4 1235.9L617.5 1237.5L615.7 1237.4L612.2 1239.2L607.9 1239.6L605.5 1238.9L602.9 1240.8L600.3 1239.3L595.1 1241.4L594.1 1241.0L589.5 1240.9L587.7 1241.9L583.6 1242.0L580.9 1242.7L577.1 1241.3L574.0 1240.8L570.0 1242.9L567.4 1242.8L564.5 1242.6L561.5 1242.2L558.1 1242.6L554.7 1242.9L551.8 1242.1L547.4 1243.0L544.9 1243.0L541.2 1242.8L537.8 1242.5L534.6 1243.2L531.4 1241.8L528.0 1243.7L525.4 1244.1L521.8 1242.7L519.8 1242.6L515.9 1243.0L511.6 1243.3L508.9 1244.8L505.5 1244.2L503.3 1243.7L500.3 1243.6L497.1 1244.1L493.4 1244.9L489.3 1244.5L486.1 1244.9L484.2 1245.0L480.2 1246.0L477.6 1245.3L473.9 1245.3L471.1 1246.1L467.4 1245.3L464.8 1246.0L461.1 1245.8L457.7 1246.6L454.2 1247.2L450.4 1246.4L447.9 1247.3L444.0 1246.6L442.8 1247.2L437.9 1246.1L436.1 1246.8L433.0 1247.9L429.4 1247.3L425.9 1247.7L421.8 1247.2L419.3 1247.2L415.8 1247.9L412.4 1246.2L410.0 1247.3L406.2 1248.1L404.3 1247.1L401.1 1246.3L396.4 1247.7L392.9 1246.3L389.9 1247.2L387.3 1246.7L384.6 1247.5L380.3 1246.6L377.2 1246.9L375.3 1244.9L371.1 1246.9L368.3 1244.7L364.3 1245.1L360.8 1246.3L358.5 1244.1L355.2 1245.7L351.2 1245.6L349.1 1244.4L345.7 1243.9L342.7 1244.9L338.4 1244.0L336.5 1243.1L332.1 1244.6L329.5 1244.4L326.9 1243.4L322.0 1244.0L319.4 1242.9L317.4 1243.4L314.1 1242.6L310.2 1242.8L307.7 1242.0L304.7 1243.7L301.2 1242.1L298.0 1241.7L293.2 1241.7L291.1 1241.4L288.0 1242.9L284.6 1242.6L281.8 1243.1L276.9 1242.4L275.3 1243.0L272.0 1242.7L267.8 1242.9L264.6 1242.0L262.2 1242.4L258.3 1241.3L256.1 1241.4L252.2 1240.9L249.7 1241.3L247.0 1240.7L242.3 1240.8L238.8 1241.7L237.3 1240.0L233.3 1241.0L231.1 1239.9L227.2 1238.8L224.9 1239.3L220.8 1238.2L217.6 1236.8L213.7 1237.2L211.1 1235.6L207.3 1234.6L204.5 1233.5L202.8 1233.3L198.2 1231.2L195.9 1231.1L194.0 1228.6L190.7 1227.6L187.8 1225.9L183.8 1224.9L181.7 1223.1L179.4 1219.5L177.9 1218.2L174.1 1216.6L172.4 1213.1L170.9 1211.5L170.7 1207.2L169.1 1205.0L167.4 1202.1L167.8 1198.0L166.7 1194.3L167.7 1191.9L166.3 1189.8L165.5 1185.2L166.6 1183.0L167.0 1178.4L165.9 1175.6L166.6 1171.9L166.0 1170.0L166.0 1166.8L166.9 1163.6L166.7 1159.4L165.1 1157.2L166.7 1153.0L166.3 1150.2L167.6 1146.9L166.3 1143.7L166.8 1139.8L166.7 1137.9L167.9 1134.9L167.7 1131.5L169.4 1128.4L170.4 1124.1L170.8 1120.9L171.6 1118.6L171.4 1116.3L173.4 1111.6L173.3 1109.1L175.1 1106.0L175.6 1103.1Z" stroke="#0f0" stroke-width="6.8"/><path d="M176.2 1099.2L177.9 1096.1L177.5 1093.0L179.3 1090.1L180.2 1088.0L181.4 1084.3L183.0 1081.3L184.7 1080.0L186.3 1076.4L188.1 1074.3L189.4 1070.9L191.6 1068.1L192.2 1065.4L195.3 1062.7L195.2 1060.8L198.4 1057.2L199.7 1055.7L201.9 1051.2L202.9 1050.3L204.9 1046.3L208.3 1044.9L210.7 1041.1L211.3 1039.8L214.3 1036.2L216.8 1035.9L219.0 1033.4L219.5 1030.8L221.7 1028.8L224.2 1024.9L228.1 1022.7L228.8 1020.5L231.9 1019.3L235.5 1017.8L237.0 1015.9L239.8 1013.2L241.5 1011.2L244.9 1009.6L247.8 1006.6L248.6 1004.3L252.8 1002.3L256.0 1000.3L258.1 1000.0L259.8 996.8L263.6 995.3L264.8 994.8L268.4 992.0L272.2 991.9L273.6 988.7L276.4 987.7L278.9 985.8L281.5 985.6L285.9 983.0L287.7 981.8L290.8 980.6L294.2 980.2L296.2 977.0L300.3 977.3L302.3 976.5L306.3 973.5L309.5 973.5L311.3 972.0L315.0 972.2L318.6 970.6L321.1 970.0L323.3 968.6L327.5 968.1L330.9 966.6L333.6 965.2L337.7 965.8L340.0 964.5L343.8 964.3L345.3 964.6L348.4 962.9L353.1 962.0L355.3 961.8L358.0 962.5L362.8 962.1L364.7 961.5L368.8 961.2L371.9 959.4L375.5 958.7L378.1 958.7L381.6 958.6L383.9 958.1L386.9 958.8L391.5 958.1L393.7 958.8L398.1 957.3L400.6 958.3L403.8 957.2L405.9 957.8L410.9 957.2L413.1 956.6L416.6 956.9L419.4 957.9L422.3 957.5L426.9 957.6L429.4 956.9L431.4 957.9L436.0 958.9L438.6 958.7L442.2 958.4L446.2 959.4L448.3 959.4L452.7 959.0L455.3 958.0L457.2 958.4L462.4 958.6L465.1 959.7L468.9 959.9L470.3 961.6L473.4 960.2L478.4 962.3L481.0 962.3L482.8 962.8L487.5 962.9L490.7 963.4L494.2 963.5L496.9 963.0L498.7 964.3L501.6 965.2L504.8 966.4L507.9 966.5L511.5 967.2L515.9 967.3L518.3 967.9L521.3 970.4L525.0 970.3L526.4 972.8L529.8 972.2L533.4 973.6L537.2 975.1L539.3 976.9L541.0 977.6L545.6 978.2L547.2 980.1L551.3 982.1L553.2 984.1L557.1 986.0L559.6 986.4L561.9 987.9L563.8 990.7L566.3 993.1L569.2 992.9L571.7 995.9L574.5 997.3L577.5 998.1L581.2 1000.5L583.6 1001.5L585.0 1001.7L587.7 1004.5L592.3 1007.1L594.0 1009.0L595.7 1010.5L598.4 1012.6L601.9 1014.4L603.2 1015.8L606.4 1018.5L609.7 1020.9L611.8 1022.4L612.8 1025.6L615.6 1026.4L618.2 1029.8L620.9 1031.1L621.6 1034.5L623.5 1036.0L625.8 1039.2L628.9 1040.6L631.2 1042.7L633.2 1046.3L634.7 1047.8L638.2 1051.2L639.3 1053.7L640.8 1055.1L643.1 1057.7L645.4 1060.3L647.1 1062.8L648.1 1065.9L649.4 1067.9L651.8 1070.8L654.1 1074.7L654.8 1077.8L657.6 1079.0L657.6 1082.1L659.5 1084.9L662.2 1089.3L662.2 1091.8L664.4 1094.3L665.4 1096.7L667.5 1100.8L667.1 1103.0L667.7 1107.0L670.1 1109.6L671.0 1112.1L672.1 1114.4L672.8 1119.4L671.4 1120.7L672.4 1123.9L673.7 1127.6L674.8 1130.7L675.1 1133.3L674.5 1137.7L675.4 1139.7L674.9 1143.9L674.4 1147.4L674.5 1149.4L674.7 1153.4L674.4 1157.0L675.1 1159.9L674.9 1163.1L673.5 1165.6L674.5 1169.8L672.6 1173.5L672.3 1175.5L672.1 1179.5L672.8 1181.1L671.7 1186.0L673.7 1187.8L673.4 1191.4L671.7 1194.3L672.0 1196.9L672.3 1201.7L671.6 1203.3L672.3 1206.3L670.0 1208.7L669.4 1210.2L666.5 1212.5L664.8 1214.3L662.3 1217.3L659.9 1218.8L656.2 1220.9L653.7 1222.2L651.4 1225.4L647.5 1225.6L645.0 1229.0L642.4 1228.6L638.2 1230.8L636.5 1230.9L633.2 1233.6L631.0 1233.4L626.9 1235.0L625.2 1236.4L621.4 1235.9L617.5 1237.5L615.7 1237.4L612.2 1239.2L607.9 1239.6L605.5 1238.9L602.9 1240.8L600.3 1239.3L595.1 1241.4L594.1 1241.0L589.5 1240.9L587.7 1241.9L583.6 1242.0L580.9 1242.7L577.1 1241.3L574.0 1240.8L570.0 1242.9L567.4 1242.8L564.5 1242.6L561.5 1242.2L558.1 1242.6L554.7 1242.9L551.8 1242.1L547.4 1243.0L544.9 1243.0L541.2 1242.8L537.8 1242.5L534.6 1243.2L531.4 1241.8L528.0 1243.7L525.4 1244.1L521.8 1242.7L519.8 1242.6L515.9 1243.0L511.6 1243.3L508.9 1244.8L505.5 1244.2L503.3 1243.7L500.3 1243.6L497.1 1244.1L493.4 1244.9L489.3 1244.5L486.1 1244.9L484.2 1245.0L480.2 1246.0L477.6 1245.3L473.9 1245.3L471.1 1246.1L467.4 1245.3L464.8 1246.0L461.1 1245.8L457.7 1246.6L454.2 1247.2L450.4 1246.4L447.9 1247.3L444.0 1246.6L442.8 1247.2L437.9 1246.1L436.1 1246.8L433.0 1247.9L429.4 1247.3L425.9 1247.7L421.8 1247.2L419.3 1247.2L415.8 1247.9L412.4 1246.2L410.0 1247.3L406.2 1248.1L404.3 1247.1L401.1 1246.3L396.4 1247.7L392.9 1246.3L389.9 1247.2L387.3 1246.7L384.6 1247.5L380.3 1246.6L377.2 1246.9L375.3 1244.9L371.1 1246.9L368.3 1244.7L364.3 1245.1L360.8 1246.3L358.5 1244.1L355.2 1245.7L351.2 1245.6L349.1 1244.4L345.7 1243.9L342.7 1244.9L338.4 1244.0L336.5 1243.1L332.1 1244.6L329.5 1244.4L326.9 1243.4L322.0 1244.0L319.4 1242.9L317.4 1243.4L314.1 1242.6L310.2 1242.8L307.7 1242.0L304.7 1243.7L301.2 1242.1L298.0 1241.7L293.2 1241.7L291.1 1241.4L288.0 1242.9L284.6 1242.6L281.8 1243.1L276.9 1242.4L275.3 1243.0L272.0 1242.7L267.8 1242.9L264.6 1242.0L262.2 1242.4L258.3 1241.3L256.1 1241.4L252.2 1240.9L249.7 1241.3L247.0 1240.7L242.3 1240.8L238.8 1241.7L237.3 1240.0L233.3 1241.0L231.1 1239.9L227.2 1238.8L224.9 1239.3L220.8 1238.2L217.6 1236.8L213.7 1237.2L211.1 1235.6L207.3 1234.6L204.5 1233.5L202.8 1233.3L198.2 1231.2L195.9 1231.1L194.0 1228.6L190.7 1227.6L187.8 1225.9L183.8 1224.9L181.7 1223.1L179.4 1219.5L177.9 1218.2L174.1 1216.6L172.4 1213.1L170.9 1211.5L170.7 1207.2L169.1 1205.0L167.4 1202.1L167.8 1198.0L166.7 1194.3L167.7 1191.9L166.3 1189.8L165.5 1185.2L166.6 1183.0L167.0 1178.4L165.9 1175.6L166.6 1171.9L166.0 1170.0L166.0 1166.8L166.9 1163.6L166.7 1159.4L165.1 1157.2L166.7 1153.0L166.3 1150.2L167.6 1146.9L166.3 1143.7L166.8 1139.8L166.7 1137.9L167.9 1134.9L167.7 1131.5L169.4 1128.4L170.4 1124.1L170.8 1120.9L171.6 1118.6L171.4 1116.3L173.4 1111.6L173.3 1109.1L175.1 1106.0L175.6 1103.1Z" stroke="#0008f0" stroke-width="4"/></g>
</g>
<clipPath id="cpH"><path d="M1006.6 1100.1L1007.3 1098.1L1009.9 1094.3L1010.8 1092.3L1011.7 1088.3L1012.5 1083.9L1013.1 1082.3L1014.9 1079.4L1015.2 1074.6L1016.3 1073.5L1018.5 1069.7L1019.9 1067.3L1020.9 1063.5L1023.6 1062.5L1024.8 1059.3L1028.2 1056.5L1030.3 1054.9L1031.5 1051.4L1034.3 1048.7L1034.6 1045.0L1037.5 1043.5L1038.6 1041.4L1041.4 1038.0L1042.8 1036.2L1045.0 1033.5L1048.2 1030.3L1049.7 1028.7L1051.7 1026.3L1054.4 1023.9L1057.1 1022.5L1059.9 1019.3L1062.0 1018.1L1065.7 1016.5L1068.1 1016.1L1071.0 1013.9L1073.6 1012.2L1077.4 1009.7L1079.8 1008.8L1081.8 1007.2L1085.9 1007.0L1089.4 1004.4L1091.3 1003.7L1094.9 1001.7L1096.5 1000.5L1099.7 996.8L1102.1 997.0L1104.8 995.3L1108.2 991.6L1110.3 989.6L1113.8 988.3L1115.6 987.1L1117.2 985.2L1120.5 983.3L1124.3 982.7L1126.2 980.4L1128.2 979.7L1131.5 977.6L1134.1 975.4L1139.1 976.0L1142.1 974.9L1144.7 972.6L1147.4 972.3L1150.8 971.1L1152.6 969.3L1156.1 969.3L1159.7 968.8L1162.5 968.0L1165.0 967.2L1170.3 966.7L1172.3 966.4L1175.6 966.1L1178.4 964.1L1181.5 965.5L1185.0 964.1L1189.2 964.3L1192.2 963.3L1194.6 962.3L1197.0 963.4L1202.0 962.5L1204.1 962.7L1208.0 961.9L1210.0 961.7L1214.6 961.8L1217.3 962.9L1220.7 963.0L1223.8 963.0L1226.9 961.7L1230.6 962.5L1234.8 961.1L1236.1 962.4L1239.8 961.7L1242.5 962.6L1247.2 961.3L1250.3 962.7L1252.6 961.1L1256.3 962.8L1260.1 962.0L1263.3 961.4L1265.5 961.9L1270.3 962.9L1273.4 962.5L1275.2 962.2L1280.1 962.4L1283.0 963.6L1286.4 963.7L1289.1 962.7L1291.6 964.6L1296.4 963.4L1298.9 963.9L1301.6 963.7L1304.6 965.2L1309.3 966.3L1311.4 966.9L1314.9 966.4L1318.2 966.0L1321.9 967.4L1324.6 967.5L1326.8 968.1L1330.9 968.6L1333.9 970.7L1337.2 970.2L1340.7 970.0L1342.8 971.8L1345.8 973.1L1348.8 974.2L1352.3 974.9L1354.8 975.7L1359.2 975.6L1361.5 977.0L1364.3 978.4L1367.1 978.9L1370.5 980.8L1373.3 981.5L1376.3 982.9L1379.6 986.1L1382.6 986.2L1386.1 988.5L1389.2 990.3L1390.1 992.5L1393.4 992.4L1397.3 993.4L1399.2 996.0L1403.8 995.9L1405.2 997.1L1409.2 998.2L1411.7 1000.6L1414.5 1002.0L1415.3 1004.4L1418.1 1006.6L1421.4 1009.6L1422.4 1011.5L1424.5 1014.4L1427.6 1015.8L1430.6 1018.0L1431.9 1021.5L1434.5 1021.7L1437.1 1024.6L1440.5 1026.3L1443.6 1028.0L1445.1 1028.8L1449.0 1030.6L1450.4 1034.3L1453.2 1035.1L1454.7 1037.6L1457.6 1041.6L1460.5 1043.9L1461.5 1046.2L1463.1 1047.9L1465.6 1050.1L1467.6 1052.7L1469.7 1055.0L1471.6 1059.0L1472.3 1061.3L1474.4 1064.4L1476.7 1065.6L1479.0 1069.0L1480.8 1072.1L1482.3 1074.3L1483.2 1077.6L1485.7 1079.6L1485.8 1082.8L1487.4 1085.4L1489.3 1089.5L1490.8 1091.8L1491.1 1095.0L1493.2 1098.0L1493.4 1100.3L1495.0 1105.2L1494.4 1107.9L1495.4 1110.1L1498.3 1114.5L1497.2 1117.1L1499.2 1120.9L1499.1 1122.9L1499.5 1125.3L1500.6 1128.4L1502.3 1133.0L1502.0 1135.8L1503.2 1138.2L1503.2 1142.1L1503.1 1145.2L1503.4 1149.1L1503.1 1150.6L1502.9 1153.9L1504.0 1157.9L1504.5 1160.5L1505.3 1165.6L1505.0 1167.1L1505.4 1171.3L1505.5 1174.1L1505.5 1178.1L1505.0 1179.8L1503.2 1183.6L1503.3 1187.1L1502.4 1189.4L1503.2 1193.7L1502.6 1196.7L1501.6 1200.5L1502.6 1203.1L1504.0 1206.1L1504.8 1209.2L1503.2 1211.4L1502.8 1214.6L1500.6 1215.7L1496.5 1216.5L1494.2 1219.0L1492.5 1220.7L1489.5 1224.3L1488.5 1226.9L1485.5 1228.0L1482.9 1230.4L1480.3 1232.8L1476.7 1234.0L1473.6 1235.8L1471.7 1236.4L1468.4 1239.1L1466.6 1238.8L1463.0 1240.6L1459.4 1241.2L1457.4 1241.7L1453.3 1244.1L1449.8 1243.4L1448.0 1244.6L1444.2 1245.4L1440.6 1245.2L1438.3 1246.0L1435.8 1246.5L1430.9 1246.6L1428.9 1246.7L1425.6 1246.7L1420.9 1248.4L1419.3 1247.7L1415.2 1248.3L1411.2 1248.1L1408.8 1247.7L1405.0 1248.3L1401.5 1249.2L1398.0 1249.5L1395.0 1249.7L1392.3 1248.3L1389.5 1248.7L1385.0 1248.3L1383.2 1250.4L1378.6 1249.7L1375.5 1250.0L1373.4 1249.5L1370.5 1249.2L1367.5 1249.7L1363.5 1249.6L1359.9 1250.2L1355.8 1250.9L1353.6 1251.1L1349.5 1250.0L1347.0 1249.8L1343.9 1251.1L1341.2 1250.5L1336.8 1250.1L1335.0 1251.1L1331.8 1250.1L1328.2 1250.1L1324.7 1250.0L1321.5 1250.5L1318.6 1251.2L1315.5 1250.6L1312.1 1250.4L1308.3 1251.4L1303.9 1252.4L1301.8 1250.4L1298.0 1251.0L1294.3 1252.5L1292.7 1251.9L1289.3 1252.4L1285.4 1252.6L1282.0 1251.1L1278.9 1252.3L1275.1 1251.3L1272.2 1252.8L1269.0 1252.8L1264.9 1251.1L1263.5 1252.5L1258.4 1250.9L1255.9 1252.1L1252.1 1251.8L1249.1 1252.1L1247.5 1252.4L1243.0 1252.7L1240.5 1251.8L1236.0 1250.9L1233.0 1252.7L1231.1 1250.8L1227.9 1252.4L1223.4 1250.9L1221.6 1252.6L1217.7 1252.0L1214.1 1251.2L1210.6 1252.4L1207.3 1250.9L1205.4 1250.9L1201.6 1251.1L1198.0 1251.2L1193.6 1250.7L1190.9 1252.2L1189.1 1251.1L1185.0 1252.2L1181.4 1250.6L1177.4 1251.0L1174.6 1251.6L1171.4 1252.0L1168.0 1250.7L1165.1 1250.7L1161.6 1251.6L1158.0 1250.4L1154.8 1250.4L1152.5 1251.4L1148.3 1250.3L1146.9 1249.4L1142.1 1251.1L1139.4 1250.0L1136.0 1249.6L1132.5 1250.7L1129.3 1248.6L1125.8 1250.6L1122.7 1248.5L1119.1 1248.4L1117.1 1250.2L1113.8 1249.0L1109.8 1248.2L1107.8 1249.8L1103.5 1248.3L1100.7 1249.4L1097.3 1248.2L1093.6 1247.8L1091.7 1248.1L1088.3 1248.6L1085.0 1248.6L1082.0 1247.8L1076.7 1246.8L1074.5 1247.7L1072.3 1247.6L1067.3 1246.5L1064.3 1246.6L1061.7 1246.7L1058.8 1246.0L1054.8 1245.6L1051.6 1244.7L1049.4 1244.8L1044.6 1243.6L1043.1 1242.8L1039.2 1242.5L1036.5 1242.2L1033.6 1241.1L1029.2 1240.9L1028.0 1239.0L1024.9 1237.9L1021.0 1235.8L1017.8 1233.6L1014.8 1233.0L1012.7 1229.8L1011.1 1228.1L1009.0 1226.0L1005.7 1223.7L1003.5 1220.5L1002.0 1217.5L1001.8 1216.0L998.5 1212.6L997.5 1208.8L997.7 1206.9L995.7 1203.3L995.3 1200.0L996.0 1196.1L994.6 1193.2L995.0 1189.8L994.9 1187.9L994.2 1184.7L994.3 1180.8L994.5 1176.7L995.9 1173.7L994.2 1172.1L994.6 1168.7L995.2 1164.4L995.1 1160.6L995.8 1158.0L995.7 1154.7L995.4 1150.6L994.8 1148.9L995.1 1145.5L995.5 1142.1L995.3 1139.4L994.6 1136.2L995.1 1131.6L993.5 1128.0L993.9 1125.4L995.6 1123.3L995.3 1119.8L995.9 1115.4L997.5 1113.3L998.5 1110.1L1001.5 1106.8L1002.4 1105.3L1005.5 1102.0Z"/></clipPath>
<path d="M1006.6 1100.1L1007.3 1098.1L1009.9 1094.3L1010.8 1092.3L1011.7 1088.3L1012.5 1083.9L1013.1 1082.3L1014.9 1079.4L1015.2 1074.6L1016.3 1073.5L1018.5 1069.7L1019.9 1067.3L1020.9 1063.5L1023.6 1062.5L1024.8 1059.3L1028.2 1056.5L1030.3 1054.9L1031.5 1051.4L1034.3 1048.7L1034.6 1045.0L1037.5 1043.5L1038.6 1041.4L1041.4 1038.0L1042.8 1036.2L1045.0 1033.5L1048.2 1030.3L1049.7 1028.7L1051.7 1026.3L1054.4 1023.9L1057.1 1022.5L1059.9 1019.3L1062.0 1018.1L1065.7 1016.5L1068.1 1016.1L1071.0 1013.9L1073.6 1012.2L1077.4 1009.7L1079.8 1008.8L1081.8 1007.2L1085.9 1007.0L1089.4 1004.4L1091.3 1003.7L1094.9 1001.7L1096.5 1000.5L1099.7 996.8L1102.1 997.0L1104.8 995.3L1108.2 991.6L1110.3 989.6L1113.8 988.3L1115.6 987.1L1117.2 985.2L1120.5 983.3L1124.3 982.7L1126.2 980.4L1128.2 979.7L1131.5 977.6L1134.1 975.4L1139.1 976.0L1142.1 974.9L1144.7 972.6L1147.4 972.3L1150.8 971.1L1152.6 969.3L1156.1 969.3L1159.7 968.8L1162.5 968.0L1165.0 967.2L1170.3 966.7L1172.3 966.4L1175.6 966.1L1178.4 964.1L1181.5 965.5L1185.0 964.1L1189.2 964.3L1192.2 963.3L1194.6 962.3L1197.0 963.4L1202.0 962.5L1204.1 962.7L1208.0 961.9L1210.0 961.7L1214.6 961.8L1217.3 962.9L1220.7 963.0L1223.8 963.0L1226.9 961.7L1230.6 962.5L1234.8 961.1L1236.1 962.4L1239.8 961.7L1242.5 962.6L1247.2 961.3L1250.3 962.7L1252.6 961.1L1256.3 962.8L1260.1 962.0L1263.3 961.4L1265.5 961.9L1270.3 962.9L1273.4 962.5L1275.2 962.2L1280.1 962.4L1283.0 963.6L1286.4 963.7L1289.1 962.7L1291.6 964.6L1296.4 963.4L1298.9 963.9L1301.6 963.7L1304.6 965.2L1309.3 966.3L1311.4 966.9L1314.9 966.4L1318.2 966.0L1321.9 967.4L1324.6 967.5L1326.8 968.1L1330.9 968.6L1333.9 970.7L1337.2 970.2L1340.7 970.0L1342.8 971.8L1345.8 973.1L1348.8 974.2L1352.3 974.9L1354.8 975.7L1359.2 975.6L1361.5 977.0L1364.3 978.4L1367.1 978.9L1370.5 980.8L1373.3 981.5L1376.3 982.9L1379.6 986.1L1382.6 986.2L1386.1 988.5L1389.2 990.3L1390.1 992.5L1393.4 992.4L1397.3 993.4L1399.2 996.0L1403.8 995.9L1405.2 997.1L1409.2 998.2L1411.7 1000.6L1414.5 1002.0L1415.3 1004.4L1418.1 1006.6L1421.4 1009.6L1422.4 1011.5L1424.5 1014.4L1427.6 1015.8L1430.6 1018.0L1431.9 1021.5L1434.5 1021.7L1437.1 1024.6L1440.5 1026.3L1443.6 1028.0L1445.1 1028.8L1449.0 1030.6L1450.4 1034.3L1453.2 1035.1L1454.7 1037.6L1457.6 1041.6L1460.5 1043.9L1461.5 1046.2L1463.1 1047.9L1465.6 1050.1L1467.6 1052.7L1469.7 1055.0L1471.6 1059.0L1472.3 1061.3L1474.4 1064.4L1476.7 1065.6L1479.0 1069.0L1480.8 1072.1L1482.3 1074.3L1483.2 1077.6L1485.7 1079.6L1485.8 1082.8L1487.4 1085.4L1489.3 1089.5L1490.8 1091.8L1491.1 1095.0L1493.2 1098.0L1493.4 1100.3L1495.0 1105.2L1494.4 1107.9L1495.4 1110.1L1498.3 1114.5L1497.2 1117.1L1499.2 1120.9L1499.1 1122.9L1499.5 1125.3L1500.6 1128.4L1502.3 1133.0L1502.0 1135.8L1503.2 1138.2L1503.2 1142.1L1503.1 1145.2L1503.4 1149.1L1503.1 1150.6L1502.9 1153.9L1504.0 1157.9L1504.5 1160.5L1505.3 1165.6L1505.0 1167.1L1505.4 1171.3L1505.5 1174.1L1505.5 1178.1L1505.0 1179.8L1503.2 1183.6L1503.3 1187.1L1502.4 1189.4L1503.2 1193.7L1502.6 1196.7L1501.6 1200.5L1502.6 1203.1L1504.0 1206.1L1504.8 1209.2L1503.2 1211.4L1502.8 1214.6L1500.6 1215.7L1496.5 1216.5L1494.2 1219.0L1492.5 1220.7L1489.5 1224.3L1488.5 1226.9L1485.5 1228.0L1482.9 1230.4L1480.3 1232.8L1476.7 1234.0L1473.6 1235.8L1471.7 1236.4L1468.4 1239.1L1466.6 1238.8L1463.0 1240.6L1459.4 1241.2L1457.4 1241.7L1453.3 1244.1L1449.8 1243.4L1448.0 1244.6L1444.2 1245.4L1440.6 1245.2L1438.3 1246.0L1435.8 1246.5L1430.9 1246.6L1428.9 1246.7L1425.6 1246.7L1420.9 1248.4L1419.3 1247.7L1415.2 1248.3L1411.2 1248.1L1408.8 1247.7L1405.0 1248.3L1401.5 1249.2L1398.0 1249.5L1395.0 1249.7L1392.3 1248.3L1389.5 1248.7L1385.0 1248.3L1383.2 1250.4L1378.6 1249.7L1375.5 1250.0L1373.4 1249.5L1370.5 1249.2L1367.5 1249.7L1363.5 1249.6L1359.9 1250.2L1355.8 1250.9L1353.6 1251.1L1349.5 1250.0L1347.0 1249.8L1343.9 1251.1L1341.2 1250.5L1336.8 1250.1L1335.0 1251.1L1331.8 1250.1L1328.2 1250.1L1324.7 1250.0L1321.5 1250.5L1318.6 1251.2L1315.5 1250.6L1312.1 1250.4L1308.3 1251.4L1303.9 1252.4L1301.8 1250.4L1298.0 1251.0L1294.3 1252.5L1292.7 1251.9L1289.3 1252.4L1285.4 1252.6L1282.0 1251.1L1278.9 1252.3L1275.1 1251.3L1272.2 1252.8L1269.0 1252.8L1264.9 1251.1L1263.5 1252.5L1258.4 1250.9L1255.9 1252.1L1252.1 1251.8L1249.1 1252.1L1247.5 1252.4L1243.0 1252.7L1240.5 1251.8L1236.0 1250.9L1233.0 1252.7L1231.1 1250.8L1227.9 1252.4L1223.4 1250.9L1221.6 1252.6L1217.7 1252.0L1214.1 1251.2L1210.6 1252.4L1207.3 1250.9L1205.4 1250.9L1201.6 1251.1L1198.0 1251.2L1193.6 1250.7L1190.9 1252.2L1189.1 1251.1L1185.0 1252.2L1181.4 1250.6L1177.4 1251.0L1174.6 1251.6L1171.4 1252.0L1168.0 1250.7L1165.1 1250.7L1161.6 1251.6L1158.0 1250.4L1154.8 1250.4L1152.5 1251.4L1148.3 1250.3L1146.9 1249.4L1142.1 1251.1L1139.4 1250.0L1136.0 1249.6L1132.5 1250.7L1129.3 1248.6L1125.8 1250.6L1122.7 1248.5L1119.1 1248.4L1117.1 1250.2L1113.8 1249.0L1109.8 1248.2L1107.8 1249.8L1103.5 1248.3L1100.7 1249.4L1097.3 1248.2L1093.6 1247.8L1091.7 1248.1L1088.3 1248.6L1085.0 1248.6L1082.0 1247.8L1076.7 1246.8L1074.5 1247.7L1072.3 1247.6L1067.3 1246.5L1064.3 1246.6L1061.7 1246.7L1058.8 1246.0L1054.8 1245.6L1051.6 1244.7L1049.4 1244.8L1044.6 1243.6L1043.1 1242.8L1039.2 1242.5L1036.5 1242.2L1033.6 1241.1L1029.2 1240.9L1028.0 1239.0L1024.9 1237.9L1021.0 1235.8L1017.8 1233.6L1014.8 1233.0L1012.7 1229.8L1011.1 1228.1L1009.0 1226.0L1005.7 1223.7L1003.5 1220.5L1002.0 1217.5L1001.8 1216.0L998.5 1212.6L997.5 1208.8L997.7 1206.9L995.7 1203.3L995.3 1200.0L996.0 1196.1L994.6 1193.2L995.0 1189.8L994.9 1187.9L994.2 1184.7L994.3 1180.8L994.5 1176.7L995.9 1173.7L994.2 1172.1L994.6 1168.7L995.2 1164.4L995.1 1160.6L995.8 1158.0L995.7 1154.7L995.4 1150.6L994.8 1148.9L995.1 1145.5L995.5 1142.1L995.3 1139.4L994.6 1136.2L995.1 1131.6L993.5 1128.0L993.9 1125.4L995.6 1123.3L995.3 1119.8L995.9 1115.4L997.5 1113.3L998.5 1110.1L1001.5 1106.8L1002.4 1105.3L1005.5 1102.0Z" fill="#0008f0" stroke="#0000b0" stroke-width="2.4" stroke-linejoin="round" filter="url(#rb)"/>
<g clip-path="url(#cpH)"><g transform="translate(989 957)" filter="url(#hb)" shape-rendering="crispEdges">
<path fill="#0000d1" d="M264 192h8v4h-8zM280 192h8v4h-8zM296 192h4v4h-4zM232 196h8v4h-8zM248 196h8v4h-8zM288 196h4v4h-4zM296 196h8v4h-8zM232 200h8v4h-8zM248 200h8v4h-8zM288 200h16v4h-16zM320 200h8v4h-8zM216 204h8v4h-8zM232 204h8v4h-8zM248 204h8v4h-8zM280 204h16v4h-16zM216 208h8v4h-8zM232 208h8v4h-8zM248 208h8v4h-8zM280 208h16v4h-16zM228 212h4v4h-4zM288 212h4v4h-4z"/>
<path fill="#0000e8" d="M272 156h8v4h-8zM272 160h8v4h-8zM272 164h8v4h-8zM240 168h8v4h-8zM264 168h16v4h-16zM296 168h4v4h-4zM224 172h8v4h-8zM264 172h16v4h-16zM288 172h24v4h-24zM220 176h12v4h-12zM240 176h8v4h-8zM264 176h16v4h-16zM288 176h24v4h-24zM328 176h4v4h-4zM208 180h80v4h-80zM296 180h16v4h-16zM328 180h8v4h-8zM352 180h8v4h-8zM208 184h112v4h-112zM328 184h8v4h-8zM352 184h24v4h-24zM184 188h8v4h-8zM196 188h148v4h-148zM352 188h8v4h-8zM184 192h80v4h-80zM272 192h8v4h-8zM288 192h8v4h-8zM300 192h48v4h-48zM352 192h8v4h-8zM200 196h32v4h-32zM240 196h8v4h-8zM256 196h32v4h-32zM292 196h4v4h-4zM304 196h64v4h-64zM376 196h8v4h-8zM200 200h32v4h-32zM240 200h8v4h-8zM256 200h32v4h-32zM304 200h16v4h-16zM328 200h44v4h-44zM376 200h8v4h-8zM196 204h4v4h-4zM208 204h8v4h-8zM224 204h8v4h-8zM240 204h8v4h-8zM256 204h24v4h-24zM296 204h64v4h-64zM368 204h8v4h-8zM384 204h8v4h-8zM196 208h4v4h-4zM208 208h8v4h-8zM224 208h8v4h-8zM240 208h8v4h-8zM256 208h24v4h-24zM296 208h68v4h-68zM368 208h8v4h-8zM384 208h8v4h-8zM188 212h40v4h-40zM232 212h56v4h-56zM292 212h76v4h-76zM376 212h8v4h-8zM188 216h4v4h-4zM196 216h172v4h-172zM376 216h8v4h-8zM184 220h16v4h-16zM208 220h44v4h-44zM256 220h80v4h-80zM352 220h8v4h-8zM368 220h8v4h-8zM188 224h12v4h-12zM208 224h16v4h-16zM232 224h8v4h-8zM256 224h80v4h-80zM352 224h8v4h-8zM216 228h8v4h-8zM248 228h8v4h-8zM272 228h8v4h-8zM296 228h32v4h-32zM272 232h8v4h-8zM296 232h8v4h-8zM312 232h8v4h-8z"/>
<path fill="#00f" d="M272 144h8v4h-8zM232 148h8v4h-8zM264 148h8v4h-8zM288 148h8v4h-8zM208 152h8v4h-8zM228 152h20v4h-20zM260 152h44v4h-44zM312 152h8v4h-8zM216 156h56v4h-56zM280 156h32v4h-32zM320 156h12v4h-12zM192 160h8v4h-8zM208 160h64v4h-64zM280 160h80v4h-80zM184 164h88v4h-88zM280 164h72v4h-72zM360 164h8v4h-8zM176 168h64v4h-64zM248 168h16v4h-16zM280 168h16v4h-16zM300 168h52v4h-52zM360 168h12v4h-12zM376 168h4v4h-4zM176 172h8v4h-8zM192 172h32v4h-32zM232 172h32v4h-32zM280 172h8v4h-8zM312 172h72v4h-72zM176 176h44v4h-44zM232 176h8v4h-8zM248 176h16v4h-16zM280 176h8v4h-8zM312 176h16v4h-16zM332 176h52v4h-52zM392 176h4v4h-4zM160 180h48v4h-48zM288 180h8v4h-8zM312 180h16v4h-16zM336 180h16v4h-16zM360 180h40v4h-40zM160 184h48v4h-48zM320 184h8v4h-8zM336 184h16v4h-16zM376 184h28v4h-28zM156 188h28v4h-28zM192 188h4v4h-4zM344 188h8v4h-8zM360 188h48v4h-48zM156 192h28v4h-28zM348 192h4v4h-4zM360 192h48v4h-48zM152 196h48v4h-48zM368 196h8v4h-8zM384 196h32v4h-32zM152 200h48v4h-48zM372 200h4v4h-4zM384 200h36v4h-36zM152 204h44v4h-44zM200 204h8v4h-8zM360 204h8v4h-8zM376 204h8v4h-8zM392 204h28v4h-28zM152 208h44v4h-44zM200 208h8v4h-8zM364 208h4v4h-4zM376 208h8v4h-8zM392 208h28v4h-28zM152 212h36v4h-36zM368 212h8v4h-8zM384 212h32v4h-32zM152 216h36v4h-36zM192 216h4v4h-4zM368 216h8v4h-8zM384 216h32v4h-32zM152 220h32v4h-32zM200 220h8v4h-8zM252 220h4v4h-4zM336 220h16v4h-16zM360 220h8v4h-8zM376 220h44v4h-44zM152 224h36v4h-36zM200 224h8v4h-8zM224 224h8v4h-8zM240 224h16v4h-16zM336 224h16v4h-16zM360 224h60v4h-60zM160 228h56v4h-56zM224 228h24v4h-24zM256 228h16v4h-16zM280 228h16v4h-16zM328 228h88v4h-88zM160 232h112v4h-112zM280 232h16v4h-16zM304 232h8v4h-8zM320 232h88v4h-88zM168 236h192v4h-192zM368 236h24v4h-24zM400 236h4v4h-4zM216 240h24v4h-24zM248 240h68v4h-68zM320 240h4v4h-4z"/>
<path fill="#001aff" d="M248 136h8v4h-8zM260 136h20v4h-20zM208 140h8v4h-8zM232 140h16v4h-16zM256 140h40v4h-40zM312 140h4v4h-4zM204 144h20v4h-20zM232 144h40v4h-40zM280 144h20v4h-20zM304 144h16v4h-16zM192 148h40v4h-40zM240 148h24v4h-24zM272 148h16v4h-16zM296 148h52v4h-52zM188 152h20v4h-20zM216 152h12v4h-12zM248 152h12v4h-12zM304 152h8v4h-8zM320 152h32v4h-32zM360 152h4v4h-4zM176 156h40v4h-40zM312 156h8v4h-8zM332 156h32v4h-32zM376 156h4v4h-4zM172 160h20v4h-20zM200 160h8v4h-8zM360 160h12v4h-12zM376 160h8v4h-8zM164 164h20v4h-20zM352 164h8v4h-8zM368 164h24v4h-24zM160 168h16v4h-16zM352 168h8v4h-8zM372 168h4v4h-4zM380 168h16v4h-16zM156 172h20v4h-20zM184 172h8v4h-8zM384 172h16v4h-16zM152 176h24v4h-24zM384 176h8v4h-8zM396 176h12v4h-12zM152 180h8v4h-8zM400 180h12v4h-12zM152 184h8v4h-8zM404 184h12v4h-12zM152 188h4v4h-4zM408 188h8v4h-8zM148 192h8v4h-8zM408 192h12v4h-12zM144 196h8v4h-8zM416 196h8v4h-8zM144 200h8v4h-8zM420 200h4v4h-4zM144 204h8v4h-8zM420 204h8v4h-8zM144 208h8v4h-8zM420 208h8v4h-8zM140 212h12v4h-12zM416 212h8v4h-8zM140 216h12v4h-12zM416 216h8v4h-8zM140 220h12v4h-12zM420 220h4v4h-4zM144 224h8v4h-8zM420 224h4v4h-4zM144 228h16v4h-16zM416 228h4v4h-4zM148 232h12v4h-12zM408 232h8v4h-8zM152 236h16v4h-16zM360 236h8v4h-8zM392 236h8v4h-8zM404 236h8v4h-8zM172 240h44v4h-44zM240 240h8v4h-8zM316 240h4v4h-4zM324 240h40v4h-40zM368 240h20v4h-20z"/>
<path fill="#03f" d="M248 124h8v4h-8zM264 124h8v4h-8zM224 128h16v4h-16zM248 128h8v4h-8zM264 128h8v4h-8zM280 128h12v4h-12zM200 132h116v4h-116zM336 132h8v4h-8zM200 136h48v4h-48zM256 136h4v4h-4zM280 136h48v4h-48zM336 136h12v4h-12zM184 140h24v4h-24zM216 140h16v4h-16zM248 140h8v4h-8zM296 140h16v4h-16zM316 140h44v4h-44zM184 144h20v4h-20zM224 144h8v4h-8zM300 144h4v4h-4zM320 144h40v4h-40zM368 144h4v4h-4zM176 148h16v4h-16zM348 148h32v4h-32zM164 152h4v4h-4zM172 152h16v4h-16zM352 152h8v4h-8zM364 152h20v4h-20zM156 156h20v4h-20zM364 156h12v4h-12zM380 156h8v4h-8zM392 156h4v4h-4zM152 160h20v4h-20zM372 160h4v4h-4zM384 160h20v4h-20zM148 164h16v4h-16zM392 164h16v4h-16zM144 168h16v4h-16zM396 168h16v4h-16zM148 172h8v4h-8zM400 172h12v4h-12zM140 176h4v4h-4zM148 176h4v4h-4zM408 176h8v4h-8zM144 180h8v4h-8zM412 180h4v4h-4zM140 184h12v4h-12zM416 184h4v4h-4zM144 188h8v4h-8zM416 188h8v4h-8zM140 192h8v4h-8zM420 192h4v4h-4zM140 196h4v4h-4zM424 196h4v4h-4zM136 200h8v4h-8zM424 200h4v4h-4zM136 204h8v4h-8zM428 204h4v4h-4zM136 208h8v4h-8zM428 208h4v4h-4zM136 212h4v4h-4zM424 212h4v4h-4zM136 216h4v4h-4zM424 216h4v4h-4zM136 220h4v4h-4zM424 220h4v4h-4zM136 224h8v4h-8zM424 224h4v4h-4zM136 228h8v4h-8zM420 228h8v4h-8zM140 232h8v4h-8zM416 232h8v4h-8zM144 236h8v4h-8zM412 236h8v4h-8zM152 240h20v4h-20zM364 240h4v4h-4zM388 240h20v4h-20zM192 244h8v4h-8zM216 244h16v4h-16zM240 244h8v4h-8zM264 244h24v4h-24zM304 244h8v4h-8z"/>
<path fill="#004dff" d="M288 96h8v4h-8zM320 96h8v4h-8zM200 100h8v4h-8zM200 104h8v4h-8zM256 104h8v4h-8zM288 104h8v4h-8zM304 104h8v4h-8zM200 108h8v4h-8zM272 108h16v4h-16zM296 108h16v4h-16zM320 108h16v4h-16zM344 108h4v4h-4zM180 112h4v4h-4zM200 112h8v4h-8zM224 112h8v4h-8zM240 112h8v4h-8zM272 112h16v4h-16zM296 112h40v4h-40zM344 112h8v4h-8zM176 116h32v4h-32zM216 116h104v4h-104zM344 116h4v4h-4zM176 120h32v4h-32zM216 120h104v4h-104zM328 120h12v4h-12zM344 120h8v4h-8zM368 120h4v4h-4zM172 124h20v4h-20zM196 124h4v4h-4zM208 124h40v4h-40zM256 124h8v4h-8zM272 124h64v4h-64zM344 124h8v4h-8zM376 124h8v4h-8zM168 128h56v4h-56zM240 128h8v4h-8zM256 128h8v4h-8zM272 128h8v4h-8zM292 128h44v4h-44zM344 128h8v4h-8zM360 128h24v4h-24zM152 132h48v4h-48zM316 132h20v4h-20zM344 132h16v4h-16zM152 136h48v4h-48zM328 136h8v4h-8zM348 136h12v4h-12zM136 140h8v4h-8zM148 140h36v4h-36zM360 140h20v4h-20zM384 140h16v4h-16zM132 144h52v4h-52zM360 144h8v4h-8zM372 144h28v4h-28zM140 148h4v4h-4zM148 148h28v4h-28zM380 148h20v4h-20zM408 148h8v4h-8zM136 152h28v4h-28zM168 152h4v4h-4zM384 152h16v4h-16zM408 152h12v4h-12zM128 156h28v4h-28zM388 156h4v4h-4zM396 156h28v4h-28zM124 160h28v4h-28zM404 160h20v4h-20zM136 164h12v4h-12zM408 164h12v4h-12zM424 164h4v4h-4zM136 168h8v4h-8zM412 168h16v4h-16zM116 172h4v4h-4zM128 172h20v4h-20zM412 172h12v4h-12zM116 176h4v4h-4zM128 176h12v4h-12zM144 176h4v4h-4zM416 176h8v4h-8zM136 180h8v4h-8zM416 180h8v4h-8zM136 184h4v4h-4zM420 184h8v4h-8zM432 184h4v4h-4zM124 188h20v4h-20zM424 188h12v4h-12zM120 192h20v4h-20zM424 192h16v4h-16zM132 196h8v4h-8zM428 196h12v4h-12zM132 200h4v4h-4zM428 200h12v4h-12zM120 204h16v4h-16zM432 204h8v4h-8zM120 208h16v4h-16zM432 208h8v4h-8zM124 212h12v4h-12zM428 212h12v4h-12zM124 216h12v4h-12zM428 216h12v4h-12zM120 220h8v4h-8zM132 220h4v4h-4zM428 220h8v4h-8zM120 224h8v4h-8zM132 224h4v4h-4zM428 224h4v4h-4zM112 228h16v4h-16zM428 228h4v4h-4zM116 232h12v4h-12zM136 232h4v4h-4zM424 232h8v4h-8zM128 236h16v4h-16zM420 236h4v4h-4zM128 240h8v4h-8zM144 240h8v4h-8zM408 240h16v4h-16zM156 244h36v4h-36zM200 244h16v4h-16zM232 244h8v4h-8zM248 244h16v4h-16zM288 244h16v4h-16zM312 244h56v4h-56zM376 244h12v4h-12zM392 244h8v4h-8zM264 248h8v4h-8z"/>
<path fill="#0064fb" d="M232 80h8v4h-8zM204 84h28v4h-28zM256 84h56v4h-56zM188 88h48v4h-48zM256 88h80v4h-80zM180 92h172v4h-172zM172 96h116v4h-116zM296 96h24v4h-24zM328 96h28v4h-28zM168 100h32v4h-32zM208 100h160v4h-160zM164 104h36v4h-36zM208 104h48v4h-48zM264 104h24v4h-24zM296 104h8v4h-8zM312 104h64v4h-64zM156 108h44v4h-44zM208 108h64v4h-64zM288 108h8v4h-8zM312 108h8v4h-8zM336 108h8v4h-8zM348 108h32v4h-32zM152 112h28v4h-28zM184 112h16v4h-16zM208 112h16v4h-16zM232 112h8v4h-8zM248 112h24v4h-24zM288 112h8v4h-8zM336 112h8v4h-8zM352 112h36v4h-36zM144 116h32v4h-32zM208 116h8v4h-8zM320 116h24v4h-24zM348 116h44v4h-44zM144 120h32v4h-32zM208 120h8v4h-8zM320 120h8v4h-8zM340 120h4v4h-4zM352 120h16v4h-16zM372 120h28v4h-28zM132 124h40v4h-40zM192 124h4v4h-4zM200 124h8v4h-8zM336 124h8v4h-8zM352 124h24v4h-24zM384 124h20v4h-20zM128 128h40v4h-40zM336 128h8v4h-8zM352 128h8v4h-8zM384 128h24v4h-24zM128 132h24v4h-24zM360 132h52v4h-52zM128 136h24v4h-24zM360 136h56v4h-56zM120 140h16v4h-16zM144 140h4v4h-4zM380 140h4v4h-4zM400 140h24v4h-24zM120 144h12v4h-12zM400 144h24v4h-24zM116 148h24v4h-24zM144 148h4v4h-4zM400 148h8v4h-8zM416 148h12v4h-12zM112 152h24v4h-24zM400 152h8v4h-8zM420 152h8v4h-8zM112 156h16v4h-16zM424 156h4v4h-4zM112 160h12v4h-12zM424 160h4v4h-4zM432 160h4v4h-4zM108 164h28v4h-28zM420 164h4v4h-4zM428 164h4v4h-4zM108 168h28v4h-28zM428 168h4v4h-4zM108 172h8v4h-8zM120 172h8v4h-8zM424 172h16v4h-16zM108 176h8v4h-8zM120 176h8v4h-8zM424 176h16v4h-16zM104 180h32v4h-32zM424 180h16v4h-16zM104 184h32v4h-32zM428 184h4v4h-4zM436 184h4v4h-4zM104 188h20v4h-20zM436 188h8v4h-8zM104 192h16v4h-16zM440 192h4v4h-4zM100 196h32v4h-32zM440 196h4v4h-4zM100 200h32v4h-32zM440 200h4v4h-4zM104 204h16v4h-16zM440 204h4v4h-4zM104 208h16v4h-16zM440 208h4v4h-4zM100 212h24v4h-24zM440 212h4v4h-4zM100 216h24v4h-24zM440 216h4v4h-4zM100 220h20v4h-20zM128 220h4v4h-4zM436 220h8v4h-8zM100 224h20v4h-20zM128 224h4v4h-4zM432 224h12v4h-12zM104 228h8v4h-8zM128 228h8v4h-8zM432 228h12v4h-12zM104 232h12v4h-12zM128 232h8v4h-8zM432 232h8v4h-8zM112 236h16v4h-16zM424 236h16v4h-16zM112 240h16v4h-16zM136 240h8v4h-8zM424 240h12v4h-12zM120 244h8v4h-8zM132 244h24v4h-24zM368 244h8v4h-8zM388 244h4v4h-4zM400 244h28v4h-28zM156 248h108v4h-108zM272 248h96v4h-96z"/>
<path fill="#0066ce" d="M232 76h8v4h-8zM296 76h4v4h-4zM192 80h40v4h-40zM240 80h68v4h-68zM312 80h12v4h-12zM184 84h20v4h-20zM232 84h24v4h-24zM312 84h24v4h-24zM176 88h12v4h-12zM236 88h20v4h-20zM336 88h8v4h-8zM168 92h12v4h-12zM352 92h8v4h-8zM160 96h12v4h-12zM356 96h8v4h-8zM160 100h8v4h-8zM368 100h8v4h-8zM156 104h8v4h-8zM376 104h4v4h-4zM148 108h8v4h-8zM380 108h8v4h-8zM144 112h8v4h-8zM388 112h8v4h-8zM136 116h8v4h-8zM392 116h8v4h-8zM132 120h12v4h-12zM128 124h4v4h-4zM404 124h4v4h-4zM124 128h4v4h-4zM408 128h4v4h-4zM116 132h12v4h-12zM412 132h4v4h-4zM116 136h12v4h-12zM416 136h4v4h-4zM116 140h4v4h-4zM112 144h8v4h-8zM424 144h4v4h-4zM108 148h8v4h-8zM428 148h4v4h-4zM108 152h4v4h-4zM428 152h4v4h-4zM104 156h8v4h-8zM428 156h8v4h-8zM104 160h8v4h-8zM428 160h4v4h-4zM436 160h4v4h-4zM104 164h4v4h-4zM432 164h4v4h-4zM104 168h4v4h-4zM432 168h8v4h-8zM104 172h4v4h-4zM440 172h4v4h-4zM104 176h4v4h-4zM440 176h4v4h-4zM96 180h8v4h-8zM440 180h4v4h-4zM96 184h8v4h-8zM440 184h4v4h-4zM96 188h8v4h-8zM96 192h8v4h-8zM444 192h4v4h-4zM96 196h4v4h-4zM444 196h4v4h-4zM96 200h4v4h-4zM444 200h4v4h-4zM100 204h4v4h-4zM444 204h4v4h-4zM96 208h8v4h-8zM444 208h4v4h-4zM96 212h4v4h-4zM444 212h4v4h-4zM96 216h4v4h-4zM444 216h4v4h-4zM96 220h4v4h-4zM444 220h4v4h-4zM96 224h4v4h-4zM444 224h4v4h-4zM100 228h4v4h-4zM444 228h4v4h-4zM100 232h4v4h-4zM440 232h4v4h-4zM104 236h8v4h-8zM440 236h4v4h-4zM108 240h4v4h-4zM436 240h4v4h-4zM112 244h8v4h-8zM128 244h4v4h-4zM428 244h4v4h-4zM136 248h20v4h-20zM368 248h32v4h-32zM408 248h8v4h-8zM232 252h8v4h-8zM272 252h16v4h-16zM296 252h8v4h-8z"/>
<path fill="#0067a1" d="M216 72h8v4h-8zM228 72h20v4h-20zM272 72h8v4h-8zM192 76h40v4h-40zM240 76h56v4h-56zM300 76h28v4h-28zM184 80h8v4h-8zM308 80h4v4h-4zM324 80h12v4h-12zM176 84h8v4h-8zM336 84h12v4h-12zM164 88h4v4h-4zM172 88h4v4h-4zM344 88h12v4h-12zM160 92h8v4h-8zM360 92h4v4h-4zM152 96h8v4h-8zM364 96h12v4h-12zM148 100h12v4h-12zM376 100h8v4h-8zM140 104h16v4h-16zM380 104h12v4h-12zM140 108h8v4h-8zM388 108h8v4h-8zM128 112h16v4h-16zM396 112h4v4h-4zM124 116h12v4h-12zM400 116h4v4h-4zM120 120h12v4h-12zM400 120h12v4h-12zM120 124h8v4h-8zM408 124h4v4h-4zM116 128h8v4h-8zM412 128h4v4h-4zM112 132h4v4h-4zM416 132h8v4h-8zM108 136h8v4h-8zM420 136h4v4h-4zM108 140h8v4h-8zM424 140h4v4h-4zM108 144h4v4h-4zM428 144h4v4h-4zM100 148h8v4h-8zM432 148h4v4h-4zM100 152h8v4h-8zM432 152h4v4h-4zM100 156h4v4h-4zM436 156h4v4h-4zM96 160h8v4h-8zM100 164h4v4h-4zM436 164h8v4h-8zM100 168h4v4h-4zM440 168h4v4h-4zM92 172h12v4h-12zM444 172h4v4h-4zM92 176h12v4h-12zM444 176h4v4h-4zM92 180h4v4h-4zM444 180h4v4h-4zM92 184h4v4h-4zM444 184h4v4h-4zM92 188h4v4h-4zM444 188h4v4h-4zM92 192h4v4h-4zM92 196h4v4h-4zM92 200h4v4h-4zM88 204h12v4h-12zM448 204h4v4h-4zM88 208h8v4h-8zM448 208h4v4h-4zM92 212h4v4h-4zM448 212h4v4h-4zM92 216h4v4h-4zM448 216h4v4h-4zM88 220h8v4h-8zM448 220h4v4h-4zM88 224h8v4h-8zM448 224h4v4h-4zM92 228h8v4h-8zM448 228h4v4h-4zM96 232h4v4h-4zM444 232h8v4h-8zM92 236h12v4h-12zM444 236h4v4h-4zM92 240h4v4h-4zM100 240h8v4h-8zM440 240h4v4h-4zM100 244h12v4h-12zM432 244h8v4h-8zM112 248h24v4h-24zM400 248h8v4h-8zM416 248h16v4h-16zM160 252h72v4h-72zM240 252h32v4h-32zM288 252h8v4h-8zM304 252h12v4h-12zM320 252h8v4h-8zM336 252h40v4h-40z"/>
<path fill="#006975" d="M220 68h4v4h-4zM232 68h8v4h-8zM272 68h8v4h-8zM196 72h20v4h-20zM224 72h4v4h-4zM248 72h24v4h-24zM280 72h44v4h-44zM184 76h8v4h-8zM328 76h8v4h-8zM172 80h12v4h-12zM336 80h12v4h-12zM164 84h12v4h-12zM348 84h8v4h-8zM160 88h4v4h-4zM168 88h4v4h-4zM356 88h12v4h-12zM152 92h8v4h-8zM364 92h12v4h-12zM148 96h4v4h-4zM376 96h8v4h-8zM140 100h8v4h-8zM384 100h8v4h-8zM136 104h4v4h-4zM392 104h4v4h-4zM128 108h12v4h-12zM396 108h4v4h-4zM124 112h4v4h-4zM400 112h4v4h-4zM116 116h8v4h-8zM404 116h8v4h-8zM116 120h4v4h-4zM412 120h4v4h-4zM112 124h8v4h-8zM412 124h8v4h-8zM108 128h8v4h-8zM416 128h8v4h-8zM108 132h4v4h-4zM424 132h4v4h-4zM104 136h4v4h-4zM424 136h4v4h-4zM104 140h4v4h-4zM428 140h4v4h-4zM100 144h8v4h-8zM432 144h4v4h-4zM96 148h4v4h-4zM436 148h4v4h-4zM96 152h4v4h-4zM436 152h4v4h-4zM96 156h4v4h-4zM440 156h4v4h-4zM92 160h4v4h-4zM440 160h4v4h-4zM92 164h8v4h-8zM444 164h4v4h-4zM92 168h8v4h-8zM444 168h4v4h-4zM88 172h4v4h-4zM88 176h4v4h-4zM88 180h4v4h-4zM88 184h4v4h-4zM448 184h4v4h-4zM84 188h8v4h-8zM448 188h4v4h-4zM84 192h8v4h-8zM448 192h4v4h-4zM88 196h4v4h-4zM448 196h4v4h-4zM88 200h4v4h-4zM448 200h4v4h-4zM84 212h8v4h-8zM452 212h4v4h-4zM84 216h8v4h-8zM452 216h4v4h-4zM452 220h4v4h-4zM452 224h4v4h-4zM88 228h4v4h-4zM88 232h8v4h-8zM88 236h4v4h-4zM448 236h4v4h-4zM88 240h4v4h-4zM96 240h4v4h-4zM444 240h4v4h-4zM92 244h8v4h-8zM440 244h4v4h-4zM104 248h8v4h-8zM432 248h4v4h-4zM136 252h24v4h-24zM316 252h4v4h-4zM328 252h8v4h-8zM376 252h16v4h-16zM400 252h4v4h-4z"/>
<path fill="#006851" d="M216 64h8v4h-8zM232 64h12v4h-12zM196 68h24v4h-24zM224 68h8v4h-8zM240 68h32v4h-32zM280 68h40v4h-40zM188 72h8v4h-8zM324 72h12v4h-12zM156 76h4v4h-4zM168 76h16v4h-16zM336 76h12v4h-12zM156 80h16v4h-16zM348 80h8v4h-8zM156 84h8v4h-8zM356 84h8v4h-8zM156 88h4v4h-4zM368 88h8v4h-8zM148 92h4v4h-4zM376 92h8v4h-8zM140 96h8v4h-8zM384 96h4v4h-4zM136 100h4v4h-4zM392 100h4v4h-4zM132 104h4v4h-4zM396 104h4v4h-4zM124 108h4v4h-4zM400 108h4v4h-4zM120 112h4v4h-4zM404 112h8v4h-8zM412 116h4v4h-4zM112 120h4v4h-4zM416 120h4v4h-4zM108 124h4v4h-4zM420 124h4v4h-4zM104 128h4v4h-4zM424 128h4v4h-4zM104 132h4v4h-4zM428 136h4v4h-4zM100 140h4v4h-4zM432 140h4v4h-4zM92 144h8v4h-8zM436 144h4v4h-4zM92 156h4v4h-4zM444 156h4v4h-4zM88 160h4v4h-4zM444 160h4v4h-4zM88 164h4v4h-4zM88 168h4v4h-4zM448 172h4v4h-4zM84 176h4v4h-4zM448 176h4v4h-4zM76 180h4v4h-4zM84 180h4v4h-4zM448 180h4v4h-4zM84 184h4v4h-4zM80 188h4v4h-4zM452 188h4v4h-4zM452 192h4v4h-4zM84 196h4v4h-4zM452 196h4v4h-4zM84 200h4v4h-4zM452 200h4v4h-4zM84 204h4v4h-4zM452 204h4v4h-4zM84 208h4v4h-4zM452 208h4v4h-4zM80 212h4v4h-4zM80 216h4v4h-4zM84 220h4v4h-4zM84 224h4v4h-4zM456 224h4v4h-4zM84 228h4v4h-4zM452 228h4v4h-4zM84 232h4v4h-4zM452 232h4v4h-4zM84 236h4v4h-4zM448 240h4v4h-4zM88 244h4v4h-4zM444 244h4v4h-4zM96 248h8v4h-8zM436 248h8v4h-8zM120 252h16v4h-16zM392 252h8v4h-8zM404 252h20v4h-20zM192 256h8v4h-8zM208 256h20v4h-20zM232 256h8v4h-8zM256 256h36v4h-36zM296 256h8v4h-8zM320 256h4v4h-4zM344 256h16v4h-16z"/>
<path fill="#00662f" d="M300 56h4v4h-4zM220 60h4v4h-4zM236 60h4v4h-4zM244 60h4v4h-4zM268 60h8v4h-8zM200 64h4v4h-4zM212 64h4v4h-4zM224 64h8v4h-8zM244 64h4v4h-4zM252 64h64v4h-64zM192 68h4v4h-4zM320 68h16v4h-16zM180 72h8v4h-8zM336 72h12v4h-12zM160 76h8v4h-8zM348 76h4v4h-4zM148 80h8v4h-8zM356 80h8v4h-8zM148 84h8v4h-8zM364 84h8v4h-8zM132 88h12v4h-12zM148 88h8v4h-8zM376 88h4v4h-4zM132 92h16v4h-16zM384 92h4v4h-4zM136 96h4v4h-4zM388 96h4v4h-4zM132 100h4v4h-4zM396 100h4v4h-4zM120 104h12v4h-12zM116 108h8v4h-8zM404 108h8v4h-8zM116 112h4v4h-4zM112 116h4v4h-4zM108 120h4v4h-4zM420 120h4v4h-4zM104 124h4v4h-4zM424 124h4v4h-4zM428 128h4v4h-4zM100 132h4v4h-4zM428 132h4v4h-4zM100 136h4v4h-4zM432 136h4v4h-4zM92 140h8v4h-8zM92 148h4v4h-4zM440 148h4v4h-4zM92 152h4v4h-4zM440 152h4v4h-4zM88 156h4v4h-4zM448 160h4v4h-4zM448 164h4v4h-4zM84 168h4v4h-4zM448 168h4v4h-4zM76 172h12v4h-12zM72 176h12v4h-12zM72 180h4v4h-4zM80 180h4v4h-4zM76 184h8v4h-8zM452 184h4v4h-4zM456 188h4v4h-4zM80 192h4v4h-4zM456 192h4v4h-4zM80 196h4v4h-4zM76 200h8v4h-8zM76 204h8v4h-8zM80 208h4v4h-4zM456 208h4v4h-4zM68 212h4v4h-4zM456 212h4v4h-4zM456 216h4v4h-4zM80 220h4v4h-4zM456 220h12v4h-12zM80 224h4v4h-4zM460 224h4v4h-4zM80 228h4v4h-4zM456 228h4v4h-4zM76 232h8v4h-8zM76 236h8v4h-8zM452 236h4v4h-4zM76 240h12v4h-12zM452 240h8v4h-8zM80 244h8v4h-8zM448 244h8v4h-8zM88 248h8v4h-8zM444 248h4v4h-4zM112 252h8v4h-8zM424 252h12v4h-12zM152 256h4v4h-4zM160 256h32v4h-32zM200 256h8v4h-8zM228 256h4v4h-4zM240 256h16v4h-16zM292 256h4v4h-4zM304 256h16v4h-16zM324 256h20v4h-20zM360 256h16v4h-16zM288 260h8v4h-8zM352 260h4v4h-4z"/>
<path fill="#00650e" d="M276 48h8v4h-8zM300 52h4v4h-4zM220 56h8v4h-8zM236 56h4v4h-4zM244 56h4v4h-4zM268 56h8v4h-8zM304 56h8v4h-8zM192 60h16v4h-16zM216 60h4v4h-4zM224 60h12v4h-12zM240 60h4v4h-4zM248 60h4v4h-4zM264 60h4v4h-4zM276 60h8v4h-8zM300 60h12v4h-12zM192 64h8v4h-8zM204 64h8v4h-8zM248 64h4v4h-4zM316 64h16v4h-16zM336 64h8v4h-8zM180 68h12v4h-12zM336 68h12v4h-12zM172 72h8v4h-8zM364 72h4v4h-4zM144 76h4v4h-4zM152 76h4v4h-4zM352 76h4v4h-4zM140 80h8v4h-8zM364 80h4v4h-4zM140 84h8v4h-8zM372 84h8v4h-8zM144 88h4v4h-4zM380 88h4v4h-4zM388 92h4v4h-4zM132 96h4v4h-4zM392 96h12v4h-12zM124 100h8v4h-8zM400 100h4v4h-4zM116 104h4v4h-4zM400 104h12v4h-12zM112 108h4v4h-4zM412 108h4v4h-4zM112 112h4v4h-4zM412 112h4v4h-4zM108 116h4v4h-4zM416 116h4v4h-4zM104 120h4v4h-4zM428 124h4v4h-4zM100 128h4v4h-4zM92 132h4v4h-4zM432 132h4v4h-4zM92 136h8v4h-8zM88 140h4v4h-4zM436 140h4v4h-4zM88 144h4v4h-4zM440 144h4v4h-4zM444 148h8v4h-8zM84 152h8v4h-8zM444 152h12v4h-12zM84 156h4v4h-4zM448 156h8v4h-8zM80 160h8v4h-8zM80 164h8v4h-8zM80 168h4v4h-4zM452 168h4v4h-4zM72 172h4v4h-4zM456 172h4v4h-4zM68 176h4v4h-4zM452 176h8v4h-8zM68 180h4v4h-4zM452 180h12v4h-12zM456 184h4v4h-4zM76 188h4v4h-4zM76 192h4v4h-4zM460 192h4v4h-4zM72 196h8v4h-8zM456 196h4v4h-4zM456 200h4v4h-4zM456 204h4v4h-4zM68 208h12v4h-12zM460 208h4v4h-4zM468 208h4v4h-4zM72 212h8v4h-8zM460 212h4v4h-4zM468 212h4v4h-4zM64 216h8v4h-8zM76 216h4v4h-4zM460 216h8v4h-8zM76 220h4v4h-4zM76 224h4v4h-4zM464 224h4v4h-4zM76 228h4v4h-4zM460 228h8v4h-8zM456 232h4v4h-4zM456 236h4v4h-4zM72 240h4v4h-4zM456 244h4v4h-4zM84 248h4v4h-4zM448 248h4v4h-4zM104 252h8v4h-8zM436 252h8v4h-8zM144 256h8v4h-8zM156 256h4v4h-4zM376 256h8v4h-8zM396 256h16v4h-16zM212 260h4v4h-4zM236 260h8v4h-8zM284 260h4v4h-4zM296 260h4v4h-4zM336 260h8v4h-8zM348 260h4v4h-4zM356 260h4v4h-4z"/>
<path fill="#007100" d="M284 44h4v4h-4zM272 48h4v4h-4zM284 48h4v4h-4zM192 52h4v4h-4zM220 52h20v4h-20zM244 52h4v4h-4zM268 52h8v4h-8zM304 52h8v4h-8zM192 56h12v4h-12zM208 56h4v4h-4zM216 56h4v4h-4zM228 56h8v4h-8zM240 56h4v4h-4zM248 56h4v4h-4zM264 56h4v4h-4zM280 56h4v4h-4zM296 56h4v4h-4zM188 60h4v4h-4zM208 60h8v4h-8zM252 60h12v4h-12zM284 60h16v4h-16zM312 60h8v4h-8zM324 60h4v4h-4zM336 60h4v4h-4zM184 64h8v4h-8zM332 64h4v4h-4zM344 64h4v4h-4zM172 68h8v4h-8zM360 68h8v4h-8zM160 72h12v4h-12zM348 72h4v4h-4zM360 72h4v4h-4zM368 72h4v4h-4zM140 76h4v4h-4zM148 76h4v4h-4zM356 76h20v4h-20zM136 80h4v4h-4zM368 80h8v4h-8zM128 84h12v4h-12zM380 84h4v4h-4zM384 88h4v4h-4zM396 92h4v4h-4zM124 96h8v4h-8zM120 100h4v4h-4zM408 100h8v4h-8zM112 104h4v4h-4zM412 104h4v4h-4zM104 108h8v4h-8zM416 108h4v4h-4zM104 112h4v4h-4zM416 112h8v4h-8zM100 116h8v4h-8zM420 116h4v4h-4zM100 120h4v4h-4zM424 120h4v4h-4zM92 124h4v4h-4zM100 124h4v4h-4zM88 128h8v4h-8zM432 128h4v4h-4zM88 132h4v4h-4zM96 132h4v4h-4zM88 136h4v4h-4zM436 136h4v4h-4zM84 140h4v4h-4zM440 140h4v4h-4zM84 144h4v4h-4zM444 144h4v4h-4zM88 148h4v4h-4zM452 148h4v4h-4zM456 152h4v4h-4zM80 156h4v4h-4zM456 156h4v4h-4zM72 160h8v4h-8zM452 160h4v4h-4zM68 164h12v4h-12zM452 164h4v4h-4zM72 168h8v4h-8zM456 168h8v4h-8zM64 172h8v4h-8zM452 172h4v4h-4zM460 172h4v4h-4zM460 176h4v4h-4zM72 184h4v4h-4zM460 184h4v4h-4zM72 188h4v4h-4zM460 188h4v4h-4zM72 192h4v4h-4zM464 192h4v4h-4zM64 196h8v4h-8zM460 196h4v4h-4zM72 200h4v4h-4zM72 204h4v4h-4zM64 208h4v4h-4zM472 208h4v4h-4zM64 212h4v4h-4zM464 212h4v4h-4zM60 216h4v4h-4zM72 216h4v4h-4zM468 216h4v4h-4zM64 220h12v4h-12zM64 224h4v4h-4zM64 228h4v4h-4zM72 232h4v4h-4zM460 232h4v4h-4zM72 236h4v4h-4zM460 236h4v4h-4zM460 240h4v4h-4zM72 244h8v4h-8zM80 248h4v4h-4zM452 248h4v4h-4zM100 252h4v4h-4zM132 256h12v4h-12zM384 256h12v4h-12zM412 256h12v4h-12zM428 256h4v4h-4zM184 260h4v4h-4zM204 260h8v4h-8zM216 260h12v4h-12zM276 260h8v4h-8zM300 260h24v4h-24zM344 260h4v4h-4z"/>
<path fill="#008600" d="M284 40h4v4h-4zM276 44h8v4h-8zM240 48h12v4h-12zM268 48h4v4h-4zM196 52h8v4h-8zM216 52h4v4h-4zM240 52h4v4h-4zM248 52h4v4h-4zM264 52h4v4h-4zM188 56h4v4h-4zM204 56h4v4h-4zM212 56h4v4h-4zM260 56h4v4h-4zM276 56h4v4h-4zM292 56h4v4h-4zM312 56h8v4h-8zM336 56h8v4h-8zM180 60h8v4h-8zM320 60h4v4h-4zM328 60h8v4h-8zM340 60h4v4h-4zM172 64h12v4h-12zM360 64h4v4h-4zM348 68h8v4h-8zM368 68h4v4h-4zM156 72h4v4h-4zM352 72h8v4h-8zM136 76h4v4h-4zM376 76h4v4h-4zM132 80h4v4h-4zM376 80h4v4h-4zM120 84h8v4h-8zM128 88h4v4h-4zM388 88h4v4h-4zM396 88h4v4h-4zM120 92h12v4h-12zM392 92h4v4h-4zM400 92h4v4h-4zM120 96h4v4h-4zM404 96h4v4h-4zM108 100h12v4h-12zM404 100h4v4h-4zM416 100h4v4h-4zM104 104h8v4h-8zM100 108h4v4h-4zM420 108h4v4h-4zM96 112h8v4h-8zM108 112h4v4h-4zM92 116h8v4h-8zM424 116h4v4h-4zM92 120h8v4h-8zM428 120h8v4h-8zM96 124h4v4h-4zM432 124h4v4h-4zM80 128h8v4h-8zM96 128h4v4h-4zM76 132h12v4h-12zM84 136h4v4h-4zM440 136h4v4h-4zM80 144h4v4h-4zM448 144h4v4h-4zM84 148h4v4h-4zM68 152h4v4h-4zM80 152h4v4h-4zM68 156h4v4h-4zM68 160h4v4h-4zM64 164h4v4h-4zM456 164h4v4h-4zM68 168h4v4h-4zM60 172h4v4h-4zM464 172h4v4h-4zM464 176h4v4h-4zM464 180h4v4h-4zM60 196h4v4h-4zM64 200h8v4h-8zM460 200h4v4h-4zM64 204h8v4h-8zM460 204h4v4h-4zM464 208h4v4h-4zM60 212h4v4h-4zM472 212h4v4h-4zM60 220h4v4h-4zM60 224h4v4h-4zM68 224h8v4h-8zM60 228h4v4h-4zM68 228h8v4h-8zM464 232h4v4h-4zM464 236h4v4h-4zM68 244h4v4h-4zM460 244h4v4h-4zM472 248h4v4h-4zM84 252h16v4h-16zM444 252h12v4h-12zM120 256h12v4h-12zM424 256h4v4h-4zM432 256h4v4h-4zM144 260h20v4h-20zM180 260h4v4h-4zM188 260h8v4h-8zM228 260h8v4h-8zM244 260h8v4h-8zM256 260h12v4h-12zM272 260h4v4h-4zM332 260h4v4h-4zM360 260h4v4h-4zM372 260h4v4h-4zM404 260h4v4h-4zM428 260h4v4h-4zM292 264h4v4h-4zM336 264h8v4h-8zM348 264h8v4h-8z"/>
<path fill="#009c00" d="M236 32h8v4h-8zM260 32h4v4h-4zM236 36h16v4h-16zM260 36h4v4h-4zM276 40h8v4h-8zM288 44h4v4h-4zM228 48h4v4h-4zM288 48h12v4h-12zM188 52h4v4h-4zM208 52h8v4h-8zM276 52h24v4h-24zM316 52h4v4h-4zM336 52h12v4h-12zM252 56h8v4h-8zM284 56h8v4h-8zM320 56h16v4h-16zM344 56h4v4h-4zM164 60h4v4h-4zM344 60h4v4h-4zM348 64h4v4h-4zM364 64h8v4h-8zM148 68h8v4h-8zM164 68h8v4h-8zM356 68h4v4h-4zM372 72h4v4h-4zM120 76h4v4h-4zM128 76h8v4h-8zM120 80h12v4h-12zM380 80h4v4h-4zM124 88h4v4h-4zM392 88h4v4h-4zM400 88h4v4h-4zM116 92h4v4h-4zM404 92h4v4h-4zM112 96h8v4h-8zM412 96h8v4h-8zM100 104h4v4h-4zM416 104h4v4h-4zM424 108h4v4h-4zM424 112h4v4h-4zM84 116h8v4h-8zM428 116h8v4h-8zM88 124h4v4h-4zM72 132h4v4h-4zM436 132h4v4h-4zM444 136h4v4h-4zM444 140h4v4h-4zM76 144h4v4h-4zM68 148h4v4h-4zM76 148h8v4h-8zM456 148h4v4h-4zM76 152h4v4h-4zM64 156h4v4h-4zM76 156h4v4h-4zM52 160h8v4h-8zM64 160h4v4h-4zM456 160h4v4h-4zM52 164h8v4h-8zM460 164h4v4h-4zM64 168h4v4h-4zM464 168h4v4h-4zM64 176h4v4h-4zM64 180h4v4h-4zM68 184h4v4h-4zM464 184h4v4h-4zM480 184h4v4h-4zM68 188h4v4h-4zM464 188h4v4h-4zM480 188h4v4h-4zM64 192h8v4h-8zM464 196h4v4h-4zM60 200h4v4h-4zM464 200h8v4h-8zM60 204h4v4h-4zM464 204h8v4h-8zM60 208h4v4h-4zM472 216h4v4h-4zM468 220h4v4h-4zM484 224h4v4h-4zM68 240h4v4h-4zM464 240h4v4h-4zM464 244h4v4h-4zM72 248h8v4h-8zM456 248h4v4h-4zM468 248h4v4h-4zM476 248h4v4h-4zM80 252h4v4h-4zM468 252h4v4h-4zM108 256h12v4h-12zM164 260h16v4h-16zM196 260h8v4h-8zM252 260h4v4h-4zM268 260h4v4h-4zM324 260h8v4h-8zM364 260h8v4h-8zM376 260h4v4h-4zM396 260h8v4h-8zM408 260h4v4h-4zM212 264h4v4h-4zM228 264h8v4h-8zM288 264h4v4h-4zM296 264h4v4h-4zM312 264h4v4h-4zM344 264h4v4h-4zM356 264h4v4h-4z"/>
<path fill="#00b100" d="M260 28h4v4h-4zM232 32h4v4h-4zM244 32h8v4h-8zM256 32h4v4h-4zM228 36h8v4h-8zM252 36h8v4h-8zM292 36h8v4h-8zM264 40h4v4h-4zM288 40h4v4h-4zM252 44h24v4h-24zM292 44h8v4h-8zM176 48h4v4h-4zM188 48h4v4h-4zM204 48h12v4h-12zM224 48h4v4h-4zM232 48h8v4h-8zM252 48h16v4h-16zM300 48h12v4h-12zM184 52h4v4h-4zM204 52h4v4h-4zM256 52h4v4h-4zM312 52h4v4h-4zM320 52h16v4h-16zM164 56h4v4h-4zM180 56h8v4h-8zM156 60h8v4h-8zM172 60h8v4h-8zM364 60h4v4h-4zM152 64h4v4h-4zM168 64h4v4h-4zM352 64h4v4h-4zM160 68h4v4h-4zM372 68h4v4h-4zM140 72h16v4h-16zM376 72h4v4h-4zM124 76h4v4h-4zM380 76h4v4h-4zM384 84h4v4h-4zM116 88h8v4h-8zM404 88h4v4h-4zM408 92h12v4h-12zM408 96h4v4h-4zM104 100h4v4h-4zM420 104h8v4h-8zM96 108h4v4h-4zM84 112h12v4h-12zM428 112h8v4h-8zM436 116h4v4h-4zM88 120h4v4h-4zM436 120h4v4h-4zM84 124h4v4h-4zM436 124h4v4h-4zM72 128h8v4h-8zM436 128h4v4h-4zM440 132h4v4h-4zM80 140h4v4h-4zM448 140h4v4h-4zM72 144h4v4h-4zM468 144h4v4h-4zM60 152h8v4h-8zM72 152h4v4h-4zM460 152h4v4h-4zM60 156h4v4h-4zM72 156h4v4h-4zM460 156h4v4h-4zM60 160h4v4h-4zM460 160h4v4h-4zM48 164h4v4h-4zM60 164h4v4h-4zM48 168h4v4h-4zM60 168h4v4h-4zM48 172h4v4h-4zM56 176h8v4h-8zM48 180h4v4h-4zM60 180h4v4h-4zM64 184h4v4h-4zM64 188h4v4h-4zM60 192h4v4h-4zM480 200h4v4h-4zM472 204h4v4h-4zM480 204h4v4h-4zM472 220h4v4h-4zM468 224h4v4h-4zM488 224h4v4h-4zM468 228h4v4h-4zM484 228h8v4h-8zM60 232h12v4h-12zM64 236h8v4h-8zM64 244h4v4h-4zM468 244h12v4h-12zM68 248h4v4h-4zM460 248h4v4h-4zM480 248h4v4h-4zM68 252h12v4h-12zM456 252h4v4h-4zM472 252h8v4h-8zM80 256h20v4h-20zM436 256h4v4h-4zM452 256h4v4h-4zM136 260h8v4h-8zM380 260h4v4h-4zM388 260h8v4h-8zM412 260h16v4h-16zM148 264h8v4h-8zM164 264h4v4h-4zM188 264h8v4h-8zM208 264h4v4h-4zM236 264h16v4h-16zM276 264h12v4h-12zM300 264h4v4h-4zM308 264h4v4h-4zM316 264h8v4h-8zM328 264h8v4h-8zM420 264h4v4h-4zM336 268h8v4h-8z"/>
<path fill="#00c300" d="M268 12h4v4h-4zM192 28h4v4h-4zM268 28h4v4h-4zM288 28h4v4h-4zM296 28h4v4h-4zM228 32h4v4h-4zM252 32h4v4h-4zM292 32h8v4h-8zM196 36h8v4h-8zM264 36h4v4h-4zM252 40h12v4h-12zM268 40h8v4h-8zM292 40h8v4h-8zM308 40h4v4h-4zM204 44h8v4h-8zM224 44h12v4h-12zM240 44h12v4h-12zM300 44h12v4h-12zM172 48h4v4h-4zM180 48h8v4h-8zM220 48h4v4h-4zM316 48h8v4h-8zM180 52h4v4h-4zM252 52h4v4h-4zM260 52h4v4h-4zM348 52h4v4h-4zM160 56h4v4h-4zM172 56h4v4h-4zM348 56h4v4h-4zM368 56h4v4h-4zM168 60h4v4h-4zM348 60h8v4h-8zM360 60h4v4h-4zM368 60h4v4h-4zM148 64h4v4h-4zM160 64h8v4h-8zM356 64h4v4h-4zM384 64h4v4h-4zM156 68h4v4h-4zM376 68h12v4h-12zM136 72h4v4h-4zM384 72h4v4h-4zM116 76h4v4h-4zM116 84h4v4h-4zM388 84h16v4h-16zM408 88h8v4h-8zM100 92h8v4h-8zM112 92h4v4h-4zM444 92h8v4h-8zM76 96h4v4h-4zM96 96h16v4h-16zM420 96h4v4h-4zM444 96h8v4h-8zM80 100h4v4h-4zM96 100h8v4h-8zM420 100h4v4h-4zM96 104h4v4h-4zM428 108h4v4h-4zM436 112h4v4h-4zM80 116h4v4h-4zM440 116h4v4h-4zM80 120h8v4h-8zM440 120h4v4h-4zM64 124h4v4h-4zM80 124h4v4h-4zM68 128h4v4h-4zM68 132h4v4h-4zM444 132h4v4h-4zM468 132h4v4h-4zM72 136h4v4h-4zM80 136h4v4h-4zM448 136h4v4h-4zM72 140h8v4h-8zM484 140h4v4h-4zM452 144h4v4h-4zM472 144h4v4h-4zM480 144h4v4h-4zM64 148h4v4h-4zM72 148h4v4h-4zM460 148h4v4h-4zM468 148h8v4h-8zM464 152h12v4h-12zM464 156h12v4h-12zM48 160h4v4h-4zM468 160h4v4h-4zM464 164h12v4h-12zM56 168h4v4h-4zM468 168h8v4h-8zM56 172h4v4h-4zM48 176h4v4h-4zM480 176h4v4h-4zM52 180h8v4h-8zM480 180h4v4h-4zM484 184h8v4h-8zM60 188h4v4h-4zM484 188h4v4h-4zM56 192h4v4h-4zM480 192h8v4h-8zM56 196h4v4h-4zM468 196h4v4h-4zM472 200h4v4h-4zM476 204h4v4h-4zM56 208h4v4h-4zM476 208h4v4h-4zM56 212h4v4h-4zM476 212h4v4h-4zM476 216h4v4h-4zM480 220h8v4h-8zM480 224h4v4h-4zM480 228h4v4h-4zM468 232h4v4h-4zM480 232h4v4h-4zM60 236h4v4h-4zM480 236h4v4h-4zM64 240h4v4h-4zM60 244h4v4h-4zM64 248h4v4h-4zM464 248h4v4h-4zM484 248h4v4h-4zM460 252h4v4h-4zM480 252h4v4h-4zM56 256h4v4h-4zM72 256h8v4h-8zM100 256h8v4h-8zM440 256h8v4h-8zM456 256h4v4h-4zM132 260h4v4h-4zM384 260h4v4h-4zM432 260h4v4h-4zM144 264h4v4h-4zM156 264h8v4h-8zM168 264h8v4h-8zM204 264h4v4h-4zM216 264h12v4h-12zM256 264h4v4h-4zM268 264h8v4h-8zM304 264h4v4h-4zM324 264h4v4h-4zM424 264h8v4h-8zM188 268h4v4h-4zM292 268h8v4h-8zM344 268h4v4h-4zM340 272h4v4h-4z"/>
<path fill="#00d600" d="M264 12h4v4h-4zM272 12h4v4h-4zM264 16h4v4h-4zM232 20h4v4h-4zM244 20h8v4h-8zM264 20h4v4h-4zM264 24h12v4h-12zM332 24h4v4h-4zM188 28h4v4h-4zM228 28h32v4h-32zM264 28h4v4h-4zM272 28h4v4h-4zM292 28h4v4h-4zM316 28h8v4h-8zM336 28h4v4h-4zM192 32h8v4h-8zM264 32h4v4h-4zM324 32h8v4h-8zM188 36h8v4h-8zM212 36h4v4h-4zM276 36h8v4h-8zM288 36h4v4h-4zM316 36h16v4h-16zM204 40h8v4h-8zM228 40h8v4h-8zM240 40h8v4h-8zM300 40h8v4h-8zM312 40h4v4h-4zM176 44h4v4h-4zM212 44h4v4h-4zM220 44h4v4h-4zM236 44h4v4h-4zM312 44h4v4h-4zM324 44h4v4h-4zM192 48h4v4h-4zM216 48h4v4h-4zM312 48h4v4h-4zM324 48h4v4h-4zM332 48h4v4h-4zM172 52h8v4h-8zM352 52h4v4h-4zM372 52h8v4h-8zM388 52h4v4h-4zM156 56h4v4h-4zM168 56h4v4h-4zM176 56h4v4h-4zM352 56h16v4h-16zM144 60h4v4h-4zM356 60h4v4h-4zM136 64h4v4h-4zM156 64h4v4h-4zM372 64h12v4h-12zM132 68h16v4h-16zM132 72h4v4h-4zM380 72h4v4h-4zM396 72h8v4h-8zM396 76h8v4h-8zM116 80h4v4h-4zM384 80h8v4h-8zM396 80h4v4h-4zM112 84h4v4h-4zM404 84h4v4h-4zM72 88h12v4h-12zM100 88h8v4h-8zM416 88h4v4h-4zM428 88h4v4h-4zM444 88h8v4h-8zM72 92h12v4h-12zM108 92h4v4h-4zM420 92h4v4h-4zM428 92h4v4h-4zM452 92h4v4h-4zM80 96h4v4h-4zM424 96h4v4h-4zM464 96h4v4h-4zM76 100h4v4h-4zM424 100h4v4h-4zM428 104h4v4h-4zM80 112h4v4h-4zM440 112h4v4h-4zM72 116h8v4h-8zM76 120h4v4h-4zM60 124h4v4h-4zM76 124h4v4h-4zM440 124h4v4h-4zM468 124h4v4h-4zM64 128h4v4h-4zM440 128h4v4h-4zM456 128h8v4h-8zM468 128h8v4h-8zM64 132h4v4h-4zM456 132h4v4h-4zM464 132h4v4h-4zM472 132h4v4h-4zM76 136h4v4h-4zM468 136h8v4h-8zM484 136h8v4h-8zM68 140h4v4h-4zM452 140h4v4h-4zM468 140h4v4h-4zM488 140h4v4h-4zM68 144h4v4h-4zM456 144h4v4h-4zM476 144h4v4h-4zM484 144h8v4h-8zM52 148h12v4h-12zM464 148h4v4h-4zM476 148h16v4h-16zM56 152h4v4h-4zM484 152h8v4h-8zM56 156h4v4h-4zM484 156h8v4h-8zM464 160h4v4h-4zM472 160h8v4h-8zM476 164h4v4h-4zM44 168h4v4h-4zM52 168h4v4h-4zM476 168h4v4h-4zM52 172h4v4h-4zM52 176h4v4h-4zM60 184h4v4h-4zM476 188h4v4h-4zM488 188h4v4h-4zM52 192h4v4h-4zM468 192h4v4h-4zM488 192h4v4h-4zM480 196h8v4h-8zM56 200h4v4h-4zM476 200h4v4h-4zM52 208h4v4h-4zM484 208h4v4h-4zM52 212h4v4h-4zM484 212h4v4h-4zM48 216h4v4h-4zM56 216h4v4h-4zM488 220h4v4h-4zM472 224h4v4h-4zM472 228h4v4h-4zM468 236h4v4h-4zM484 236h4v4h-4zM60 240h4v4h-4zM480 240h8v4h-8zM56 244h4v4h-4zM480 244h12v4h-12zM56 248h8v4h-8zM488 248h4v4h-4zM60 252h8v4h-8zM484 252h8v4h-8zM52 256h4v4h-4zM64 256h8v4h-8zM448 256h4v4h-4zM468 256h12v4h-12zM52 260h8v4h-8zM72 260h8v4h-8zM88 260h4v4h-4zM120 260h12v4h-12zM452 260h4v4h-4zM468 260h4v4h-4zM176 264h12v4h-12zM196 264h4v4h-4zM252 264h4v4h-4zM360 264h4v4h-4zM372 264h12v4h-12zM388 264h8v4h-8zM404 264h8v4h-8zM468 264h4v4h-4zM60 268h8v4h-8zM164 268h20v4h-20zM192 268h4v4h-4zM232 268h4v4h-4zM252 268h8v4h-8zM288 268h4v4h-4zM312 268h4v4h-4zM408 268h4v4h-4zM420 268h12v4h-12zM344 272h4v4h-4z"/>
<path fill="#00e900" d="M268 8h4v4h-4zM220 12h16v4h-16zM252 12h8v4h-8zM228 16h8v4h-8zM244 16h8v4h-8zM228 20h4v4h-4zM240 20h4v4h-4zM284 20h4v4h-4zM192 24h4v4h-4zM236 24h16v4h-16zM284 24h12v4h-12zM328 24h4v4h-4zM180 28h8v4h-8zM196 28h4v4h-4zM204 28h8v4h-8zM224 28h4v4h-4zM284 28h4v4h-4zM312 28h4v4h-4zM180 32h12v4h-12zM200 32h4v4h-4zM212 32h4v4h-4zM224 32h4v4h-4zM268 32h16v4h-16zM288 32h4v4h-4zM300 32h8v4h-8zM312 32h12v4h-12zM336 32h12v4h-12zM160 36h4v4h-4zM180 36h8v4h-8zM216 36h12v4h-12zM268 36h8v4h-8zM300 36h8v4h-8zM312 36h4v4h-4zM336 36h12v4h-12zM172 40h8v4h-8zM184 40h4v4h-4zM212 40h4v4h-4zM220 40h8v4h-8zM236 40h4v4h-4zM248 40h4v4h-4zM316 40h4v4h-4zM324 40h12v4h-12zM172 44h4v4h-4zM180 44h12v4h-12zM216 44h4v4h-4zM316 44h8v4h-8zM328 44h8v4h-8zM140 48h4v4h-4zM160 48h4v4h-4zM168 48h4v4h-4zM196 48h8v4h-8zM328 48h4v4h-4zM336 48h8v4h-8zM388 48h8v4h-8zM156 52h12v4h-12zM356 52h8v4h-8zM368 52h4v4h-4zM380 52h8v4h-8zM392 52h4v4h-4zM144 56h4v4h-4zM372 56h4v4h-4zM124 60h8v4h-8zM148 60h8v4h-8zM384 60h8v4h-8zM404 60h4v4h-4zM132 64h4v4h-4zM144 64h4v4h-4zM116 72h8v4h-8zM128 72h4v4h-4zM388 72h8v4h-8zM108 76h8v4h-8zM384 76h4v4h-4zM80 80h4v4h-4zM108 80h8v4h-8zM392 80h4v4h-4zM400 80h4v4h-4zM76 84h8v4h-8zM100 84h12v4h-12zM108 88h8v4h-8zM420 88h8v4h-8zM452 88h8v4h-8zM96 92h4v4h-4zM424 92h4v4h-4zM456 92h4v4h-4zM72 96h4v4h-4zM428 96h4v4h-4zM452 96h4v4h-4zM460 96h4v4h-4zM64 100h12v4h-12zM92 100h4v4h-4zM428 100h4v4h-4zM444 100h8v4h-8zM64 104h20v4h-20zM92 104h4v4h-4zM444 104h12v4h-12zM64 108h20v4h-20zM88 108h8v4h-8zM432 108h4v4h-4zM444 108h12v4h-12zM72 112h8v4h-8zM444 112h4v4h-4zM444 116h8v4h-8zM72 120h4v4h-4zM444 120h4v4h-4zM68 124h8v4h-8zM456 124h4v4h-4zM472 124h4v4h-4zM52 128h12v4h-12zM444 128h8v4h-8zM464 128h4v4h-4zM52 132h12v4h-12zM448 132h8v4h-8zM460 132h4v4h-4zM476 132h4v4h-4zM64 136h8v4h-8zM452 136h4v4h-4zM60 140h8v4h-8zM456 140h4v4h-4zM472 140h4v4h-4zM480 140h4v4h-4zM64 144h4v4h-4zM48 148h4v4h-4zM48 152h8v4h-8zM476 152h8v4h-8zM48 156h8v4h-8zM480 156h4v4h-4zM44 160h4v4h-4zM44 164h4v4h-4zM492 168h4v4h-4zM468 172h4v4h-4zM480 172h8v4h-8zM468 176h4v4h-4zM476 176h4v4h-4zM484 176h4v4h-4zM468 180h4v4h-4zM476 180h4v4h-4zM484 180h8v4h-8zM44 184h16v4h-16zM468 184h4v4h-4zM476 184h4v4h-4zM44 188h8v4h-8zM56 188h4v4h-4zM468 188h4v4h-4zM472 192h4v4h-4zM504 192h4v4h-4zM44 196h4v4h-4zM52 196h4v4h-4zM472 196h4v4h-4zM44 200h4v4h-4zM484 200h4v4h-4zM44 204h4v4h-4zM56 204h4v4h-4zM484 204h4v4h-4zM488 208h4v4h-4zM488 212h4v4h-4zM44 220h8v4h-8zM476 220h4v4h-4zM476 224h4v4h-4zM492 224h12v4h-12zM56 228h4v4h-4zM476 228h4v4h-4zM492 228h12v4h-12zM56 232h4v4h-4zM472 232h8v4h-8zM484 232h8v4h-8zM472 236h8v4h-8zM488 236h4v4h-4zM44 240h4v4h-4zM468 240h4v4h-4zM488 240h4v4h-4zM48 244h8v4h-8zM48 248h8v4h-8zM48 252h12v4h-12zM464 252h4v4h-4zM60 256h4v4h-4zM460 256h4v4h-4zM64 260h8v4h-8zM80 260h8v4h-8zM92 260h4v4h-4zM108 260h12v4h-12zM436 260h12v4h-12zM456 260h4v4h-4zM472 260h8v4h-8zM60 264h8v4h-8zM76 264h4v4h-4zM124 264h8v4h-8zM140 264h4v4h-4zM200 264h4v4h-4zM260 264h8v4h-8zM364 264h8v4h-8zM384 264h4v4h-4zM400 264h4v4h-4zM412 264h8v4h-8zM432 264h4v4h-4zM452 264h4v4h-4zM472 264h4v4h-4zM76 268h4v4h-4zM148 268h16v4h-16zM184 268h4v4h-4zM228 268h4v4h-4zM268 268h8v4h-8zM308 268h4v4h-4zM348 268h8v4h-8zM412 268h4v4h-4zM180 272h12v4h-12zM292 272h4v4h-4zM336 272h4v4h-4zM412 272h4v4h-4zM424 272h4v4h-4z"/>
<path fill="#00fc00" d="M224 8h4v4h-4zM232 8h4v4h-4zM252 8h4v4h-4zM264 8h4v4h-4zM272 8h4v4h-4zM236 12h4v4h-4zM244 12h8v4h-8zM260 12h4v4h-4zM196 16h8v4h-8zM240 16h4v4h-4zM284 16h4v4h-4zM196 20h4v4h-4zM236 20h4v4h-4zM252 20h4v4h-4zM260 20h4v4h-4zM268 20h4v4h-4zM288 20h4v4h-4zM332 20h4v4h-4zM188 24h4v4h-4zM220 24h16v4h-16zM296 24h4v4h-4zM304 24h4v4h-4zM316 24h12v4h-12zM164 28h4v4h-4zM200 28h4v4h-4zM212 28h4v4h-4zM220 28h4v4h-4zM300 28h8v4h-8zM324 28h12v4h-12zM340 28h4v4h-4zM156 32h8v4h-8zM208 32h4v4h-4zM216 32h8v4h-8zM284 32h4v4h-4zM332 32h4v4h-4zM156 36h4v4h-4zM164 36h4v4h-4zM204 36h8v4h-8zM284 36h4v4h-4zM332 36h4v4h-4zM376 36h4v4h-4zM180 40h4v4h-4zM188 40h4v4h-4zM200 40h4v4h-4zM320 40h4v4h-4zM336 40h4v4h-4zM132 44h12v4h-12zM160 44h12v4h-12zM196 44h8v4h-8zM336 44h8v4h-8zM136 48h4v4h-4zM156 48h4v4h-4zM164 48h4v4h-4zM344 48h8v4h-8zM384 48h4v4h-4zM396 48h4v4h-4zM124 52h8v4h-8zM144 52h4v4h-4zM364 52h4v4h-4zM396 52h8v4h-8zM124 56h8v4h-8zM148 56h4v4h-4zM376 56h20v4h-20zM404 56h4v4h-4zM96 60h4v4h-4zM104 60h4v4h-4zM132 60h12v4h-12zM372 60h12v4h-12zM392 60h12v4h-12zM408 60h4v4h-4zM128 64h4v4h-4zM140 64h4v4h-4zM388 64h4v4h-4zM396 64h12v4h-12zM124 68h8v4h-8zM388 68h20v4h-20zM124 72h4v4h-4zM404 72h4v4h-4zM420 72h4v4h-4zM100 76h8v4h-8zM404 76h4v4h-4zM412 76h8v4h-8zM76 80h4v4h-4zM100 80h8v4h-8zM404 80h4v4h-4zM436 80h8v4h-8zM96 84h4v4h-4zM408 84h8v4h-8zM436 84h8v4h-8zM96 88h4v4h-4zM92 96h4v4h-4zM60 100h4v4h-4zM432 100h12v4h-12zM60 104h4v4h-4zM84 104h8v4h-8zM432 104h4v4h-4zM60 108h4v4h-4zM84 108h4v4h-4zM436 108h4v4h-4zM448 112h4v4h-4zM60 120h8v4h-8zM448 120h12v4h-12zM44 124h8v4h-8zM444 124h4v4h-4zM460 124h4v4h-4zM40 128h4v4h-4zM452 128h4v4h-4zM476 128h4v4h-4zM40 132h4v4h-4zM52 136h4v4h-4zM60 136h4v4h-4zM456 136h4v4h-4zM476 136h8v4h-8zM52 140h8v4h-8zM476 140h4v4h-4zM504 140h4v4h-4zM52 144h12v4h-12zM460 144h4v4h-4zM44 148h4v4h-4zM44 152h4v4h-4zM504 152h4v4h-4zM44 156h4v4h-4zM476 156h4v4h-4zM504 156h8v4h-8zM492 160h12v4h-12zM492 164h12v4h-12zM28 168h16v4h-16zM496 168h8v4h-8zM44 172h4v4h-4zM472 172h8v4h-8zM488 172h4v4h-4zM44 176h4v4h-4zM472 176h4v4h-4zM488 176h4v4h-4zM472 180h4v4h-4zM40 184h4v4h-4zM472 184h4v4h-4zM40 188h4v4h-4zM52 188h4v4h-4zM472 188h4v4h-4zM44 192h4v4h-4zM508 192h4v4h-4zM40 196h4v4h-4zM476 196h4v4h-4zM488 196h4v4h-4zM20 200h4v4h-4zM36 200h8v4h-8zM52 200h4v4h-4zM488 200h4v4h-4zM20 204h4v4h-4zM36 204h8v4h-8zM52 204h4v4h-4zM488 204h4v4h-4zM20 208h4v4h-4zM36 208h8v4h-8zM48 208h4v4h-4zM480 208h4v4h-4zM20 212h4v4h-4zM48 212h4v4h-4zM480 212h4v4h-4zM52 216h4v4h-4zM480 216h8v4h-8zM52 220h8v4h-8zM492 220h12v4h-12zM44 224h4v4h-4zM52 224h8v4h-8zM56 236h4v4h-4zM40 240h4v4h-4zM472 240h4v4h-4zM492 244h4v4h-4zM500 244h4v4h-4zM492 248h12v4h-12zM492 252h4v4h-4zM48 256h4v4h-4zM464 256h4v4h-4zM48 260h4v4h-4zM60 260h4v4h-4zM96 260h4v4h-4zM448 260h4v4h-4zM464 260h4v4h-4zM52 264h8v4h-8zM72 264h4v4h-4zM80 264h12v4h-12zM120 264h4v4h-4zM136 264h4v4h-4zM396 264h4v4h-4zM464 264h4v4h-4zM56 268h4v4h-4zM68 268h8v4h-8zM80 268h4v4h-4zM144 268h4v4h-4zM196 268h4v4h-4zM212 268h4v4h-4zM236 268h4v4h-4zM260 268h4v4h-4zM300 268h8v4h-8zM316 268h8v4h-8zM328 268h8v4h-8zM360 268h8v4h-8zM380 268h4v4h-4zM388 268h8v4h-8zM404 268h4v4h-4zM416 268h4v4h-4zM68 272h8v4h-8zM156 272h8v4h-8zM168 272h4v4h-4zM232 272h4v4h-4zM260 272h4v4h-4zM288 272h4v4h-4zM296 272h4v4h-4zM408 272h4v4h-4zM416 272h8v4h-8zM340 276h8v4h-8z"/>
<path fill="#1fff00" d="M268 4h4v4h-4zM220 8h4v4h-4zM228 8h4v4h-4zM236 8h4v4h-4zM244 8h8v4h-8zM256 8h8v4h-8zM216 12h4v4h-4zM240 12h4v4h-4zM288 12h8v4h-8zM192 16h4v4h-4zM220 16h8v4h-8zM236 16h4v4h-4zM252 16h12v4h-12zM268 16h12v4h-12zM288 16h8v4h-8zM192 20h4v4h-4zM200 20h4v4h-4zM220 20h8v4h-8zM256 20h4v4h-4zM272 20h12v4h-12zM292 20h8v4h-8zM324 20h8v4h-8zM340 20h4v4h-4zM180 24h8v4h-8zM196 24h8v4h-8zM260 24h4v4h-4zM280 24h4v4h-4zM300 24h4v4h-4zM308 24h8v4h-8zM336 24h4v4h-4zM276 28h8v4h-8zM308 28h4v4h-4zM344 28h4v4h-4zM164 32h4v4h-4zM204 32h4v4h-4zM308 32h4v4h-4zM372 32h8v4h-8zM148 36h4v4h-4zM308 36h4v4h-4zM348 36h4v4h-4zM372 36h4v4h-4zM132 40h12v4h-12zM160 40h12v4h-12zM196 40h4v4h-4zM216 40h4v4h-4zM340 40h8v4h-8zM364 40h4v4h-4zM384 40h4v4h-4zM156 44h4v4h-4zM192 44h4v4h-4zM344 44h4v4h-4zM364 44h8v4h-8zM384 44h4v4h-4zM392 44h4v4h-4zM132 48h4v4h-4zM144 48h4v4h-4zM352 48h4v4h-4zM400 48h4v4h-4zM120 52h4v4h-4zM148 52h8v4h-8zM168 52h4v4h-4zM404 52h4v4h-4zM104 56h12v4h-12zM132 56h12v4h-12zM152 56h4v4h-4zM396 56h8v4h-8zM408 56h4v4h-4zM92 60h4v4h-4zM100 60h4v4h-4zM108 60h8v4h-8zM120 60h4v4h-4zM412 60h4v4h-4zM432 60h4v4h-4zM120 64h8v4h-8zM392 64h4v4h-4zM80 68h4v4h-4zM120 68h4v4h-4zM420 68h4v4h-4zM80 72h4v4h-4zM104 72h12v4h-12zM424 72h4v4h-4zM452 72h4v4h-4zM68 76h8v4h-8zM80 76h4v4h-4zM96 76h4v4h-4zM388 76h8v4h-8zM408 76h4v4h-4zM420 76h8v4h-8zM68 80h4v4h-4zM96 80h4v4h-4zM408 80h20v4h-20zM68 84h8v4h-8zM416 84h12v4h-12zM432 84h4v4h-4zM88 88h8v4h-8zM432 88h4v4h-4zM88 92h8v4h-8zM432 92h4v4h-4zM460 92h8v4h-8zM88 96h4v4h-4zM432 96h12v4h-12zM456 96h4v4h-4zM84 100h8v4h-8zM452 100h4v4h-4zM460 100h4v4h-4zM436 104h8v4h-8zM456 104h4v4h-4zM480 104h4v4h-4zM440 108h4v4h-4zM456 108h4v4h-4zM480 108h4v4h-4zM68 112h4v4h-4zM452 112h8v4h-8zM68 116h4v4h-4zM452 116h8v4h-8zM48 120h4v4h-4zM460 120h4v4h-4zM468 120h8v4h-8zM52 124h8v4h-8zM448 124h8v4h-8zM464 124h4v4h-4zM476 124h4v4h-4zM44 128h8v4h-8zM480 128h4v4h-4zM36 132h4v4h-4zM44 132h8v4h-8zM480 132h4v4h-4zM48 136h4v4h-4zM56 136h4v4h-4zM464 136h4v4h-4zM48 140h4v4h-4zM464 140h4v4h-4zM32 144h4v4h-4zM44 144h8v4h-8zM464 144h4v4h-4zM32 148h12v4h-12zM28 160h8v4h-8zM40 160h4v4h-4zM480 160h4v4h-4zM24 164h12v4h-12zM40 164h4v4h-4zM480 164h4v4h-4zM480 168h4v4h-4zM504 168h4v4h-4zM44 180h4v4h-4zM24 184h16v4h-16zM504 184h4v4h-4zM24 188h4v4h-4zM32 188h8v4h-8zM504 188h4v4h-4zM28 192h8v4h-8zM40 192h4v4h-4zM48 192h4v4h-4zM476 192h4v4h-4zM512 192h4v4h-4zM20 196h4v4h-4zM36 196h4v4h-4zM492 196h16v4h-16zM48 200h4v4h-4zM492 200h8v4h-8zM48 204h4v4h-4zM492 204h8v4h-8zM32 208h4v4h-4zM36 212h8v4h-8zM44 216h4v4h-4zM488 216h4v4h-4zM40 220h4v4h-4zM40 224h4v4h-4zM48 224h4v4h-4zM44 228h12v4h-12zM44 232h4v4h-4zM52 232h4v4h-4zM492 232h4v4h-4zM500 232h4v4h-4zM44 236h4v4h-4zM52 236h4v4h-4zM492 236h4v4h-4zM500 236h4v4h-4zM56 240h4v4h-4zM476 240h4v4h-4zM500 240h4v4h-4zM496 244h4v4h-4zM500 252h4v4h-4zM32 256h4v4h-4zM100 260h8v4h-8zM460 260h4v4h-4zM48 264h4v4h-4zM68 264h4v4h-4zM132 264h4v4h-4zM436 264h16v4h-16zM456 264h8v4h-8zM476 264h4v4h-4zM52 268h4v4h-4zM116 268h4v4h-4zM200 268h12v4h-12zM244 268h8v4h-8zM264 268h4v4h-4zM276 268h4v4h-4zM324 268h4v4h-4zM356 268h4v4h-4zM368 268h12v4h-12zM384 268h4v4h-4zM400 268h4v4h-4zM452 268h4v4h-4zM152 272h4v4h-4zM164 272h4v4h-4zM172 272h8v4h-8zM192 272h24v4h-24zM228 272h4v4h-4zM236 272h4v4h-4zM316 272h4v4h-4zM348 272h8v4h-8zM360 272h4v4h-4zM372 272h12v4h-12zM388 272h4v4h-4zM400 272h8v4h-8zM428 272h4v4h-4zM184 276h8v4h-8zM288 276h12v4h-12zM336 276h4v4h-4z"/>
<path fill="#4f0" d="M232 4h4v4h-4zM264 4h4v4h-4zM272 4h4v4h-4zM216 8h4v4h-4zM240 8h4v4h-4zM288 8h4v4h-4zM296 12h4v4h-4zM324 12h8v4h-8zM280 16h4v4h-4zM296 16h4v4h-4zM324 16h12v4h-12zM180 20h12v4h-12zM216 20h4v4h-4zM300 20h8v4h-8zM316 20h4v4h-4zM336 20h4v4h-4zM344 20h4v4h-4zM204 24h8v4h-8zM216 24h4v4h-4zM252 24h8v4h-8zM276 24h4v4h-4zM348 24h12v4h-12zM152 28h4v4h-4zM160 28h4v4h-4zM168 28h4v4h-4zM176 28h4v4h-4zM216 28h4v4h-4zM348 28h12v4h-12zM372 28h4v4h-4zM148 32h8v4h-8zM348 32h8v4h-8zM144 36h4v4h-4zM152 36h4v4h-4zM168 36h12v4h-12zM352 36h8v4h-8zM364 36h4v4h-4zM384 36h8v4h-8zM156 40h4v4h-4zM192 40h4v4h-4zM348 40h8v4h-8zM368 40h4v4h-4zM388 40h8v4h-8zM144 44h12v4h-12zM348 44h8v4h-8zM360 44h4v4h-4zM388 44h4v4h-4zM396 44h4v4h-4zM116 48h4v4h-4zM148 48h8v4h-8zM356 48h12v4h-12zM372 48h12v4h-12zM408 48h4v4h-4zM104 52h4v4h-4zM140 52h4v4h-4zM408 52h4v4h-4zM92 56h12v4h-12zM120 56h4v4h-4zM412 56h12v4h-12zM432 56h4v4h-4zM416 60h12v4h-12zM436 60h4v4h-4zM116 64h4v4h-4zM420 64h12v4h-12zM76 68h4v4h-4zM108 68h12v4h-12zM424 68h8v4h-8zM72 72h8v4h-8zM100 72h4v4h-4zM412 72h8v4h-8zM76 76h4v4h-4zM436 76h8v4h-8zM72 80h4v4h-4zM428 80h8v4h-8zM92 84h4v4h-4zM428 84h4v4h-4zM68 88h4v4h-4zM84 88h4v4h-4zM436 88h8v4h-8zM460 88h4v4h-4zM68 92h4v4h-4zM84 92h4v4h-4zM436 92h8v4h-8zM84 96h4v4h-4zM468 96h4v4h-4zM480 96h4v4h-4zM464 100h4v4h-4zM480 100h4v4h-4zM460 104h8v4h-8zM476 104h4v4h-4zM460 108h12v4h-12zM476 108h4v4h-4zM460 112h8v4h-8zM60 116h8v4h-8zM460 116h8v4h-8zM56 120h4v4h-4zM68 120h4v4h-4zM464 120h4v4h-4zM40 124h4v4h-4zM484 124h4v4h-4zM36 128h4v4h-4zM484 128h4v4h-4zM484 132h12v4h-12zM44 136h4v4h-4zM460 136h4v4h-4zM44 140h4v4h-4zM460 140h4v4h-4zM500 140h4v4h-4zM40 144h4v4h-4zM492 144h4v4h-4zM504 144h4v4h-4zM504 148h4v4h-4zM36 152h8v4h-8zM24 156h4v4h-4zM36 156h8v4h-8zM20 160h8v4h-8zM36 160h4v4h-4zM484 160h4v4h-4zM504 160h4v4h-4zM20 164h4v4h-4zM36 164h4v4h-4zM484 164h8v4h-8zM504 164h4v4h-4zM16 168h12v4h-12zM484 168h8v4h-8zM28 172h4v4h-4zM36 172h8v4h-8zM492 172h16v4h-16zM28 176h4v4h-4zM40 176h4v4h-4zM40 180h4v4h-4zM20 184h4v4h-4zM508 184h8v4h-8zM20 188h4v4h-4zM28 188h4v4h-4zM508 188h8v4h-8zM24 192h4v4h-4zM36 192h4v4h-4zM492 192h12v4h-12zM16 196h4v4h-4zM48 196h4v4h-4zM508 196h4v4h-4zM16 200h4v4h-4zM16 204h4v4h-4zM24 208h8v4h-8zM44 208h4v4h-4zM24 212h12v4h-12zM44 212h4v4h-4zM16 216h8v4h-8zM36 220h4v4h-4zM516 220h4v4h-4zM32 224h8v4h-8zM504 224h4v4h-4zM40 228h4v4h-4zM504 228h4v4h-4zM40 232h4v4h-4zM496 232h4v4h-4zM504 232h8v4h-8zM40 236h4v4h-4zM496 236h4v4h-4zM508 236h4v4h-4zM36 240h4v4h-4zM48 240h8v4h-8zM492 240h8v4h-8zM504 240h4v4h-4zM40 244h8v4h-8zM504 244h4v4h-4zM40 248h8v4h-8zM504 248h4v4h-4zM36 252h12v4h-12zM496 252h4v4h-4zM92 264h4v4h-4zM100 264h4v4h-4zM116 264h4v4h-4zM48 268h4v4h-4zM84 268h8v4h-8zM108 268h8v4h-8zM124 268h8v4h-8zM216 268h12v4h-12zM240 268h4v4h-4zM280 268h8v4h-8zM396 268h4v4h-4zM432 268h4v4h-4zM52 272h8v4h-8zM64 272h4v4h-4zM76 272h8v4h-8zM108 272h8v4h-8zM144 272h8v4h-8zM252 272h8v4h-8zM264 272h4v4h-4zM272 272h4v4h-4zM300 272h4v4h-4zM308 272h8v4h-8zM320 272h4v4h-4zM364 272h8v4h-8zM384 272h4v4h-4zM392 272h8v4h-8zM180 276h4v4h-4zM196 276h4v4h-4zM232 276h4v4h-4zM260 276h4v4h-4zM348 276h8v4h-8zM372 276h4v4h-4zM408 276h20v4h-20z"/>
<path fill="#6aff00" d="M224 4h8v4h-8zM236 4h4v4h-4zM252 4h12v4h-12zM292 8h4v4h-4zM196 12h8v4h-8zM276 12h12v4h-12zM320 12h4v4h-4zM180 16h12v4h-12zM204 16h8v4h-8zM216 16h4v4h-4zM300 16h8v4h-8zM316 16h8v4h-8zM340 16h8v4h-8zM172 20h8v4h-8zM208 20h4v4h-4zM308 20h8v4h-8zM320 20h4v4h-4zM348 20h8v4h-8zM164 24h16v4h-16zM212 24h4v4h-4zM340 24h8v4h-8zM360 24h4v4h-4zM144 28h8v4h-8zM156 28h4v4h-4zM172 28h4v4h-4zM376 28h4v4h-4zM144 32h4v4h-4zM168 32h12v4h-12zM356 32h4v4h-4zM364 32h8v4h-8zM360 36h4v4h-4zM368 36h4v4h-4zM380 36h4v4h-4zM392 36h4v4h-4zM144 40h12v4h-12zM356 40h8v4h-8zM380 40h4v4h-4zM396 40h4v4h-4zM356 44h4v4h-4zM372 44h12v4h-12zM400 44h4v4h-4zM96 48h12v4h-12zM112 48h4v4h-4zM368 48h4v4h-4zM404 48h4v4h-4zM412 48h4v4h-4zM96 52h4v4h-4zM116 52h4v4h-4zM132 52h8v4h-8zM412 52h8v4h-8zM432 52h4v4h-4zM116 56h4v4h-4zM424 56h4v4h-4zM436 56h4v4h-4zM116 60h4v4h-4zM428 60h4v4h-4zM440 60h4v4h-4zM80 64h4v4h-4zM108 64h8v4h-8zM408 64h8v4h-8zM84 68h8v4h-8zM104 68h4v4h-4zM408 68h12v4h-12zM432 68h8v4h-8zM452 68h4v4h-4zM408 72h4v4h-4zM428 72h4v4h-4zM444 72h8v4h-8zM456 72h4v4h-4zM92 76h4v4h-4zM428 76h8v4h-8zM64 80h4v4h-4zM88 80h8v4h-8zM444 80h8v4h-8zM64 84h4v4h-4zM84 84h8v4h-8zM444 84h8v4h-8zM64 88h4v4h-4zM464 88h4v4h-4zM64 92h4v4h-4zM468 92h4v4h-4zM56 96h4v4h-4zM64 96h8v4h-8zM476 96h4v4h-4zM456 100h4v4h-4zM468 100h4v4h-4zM476 100h4v4h-4zM468 104h8v4h-8zM472 108h4v4h-4zM60 112h8v4h-8zM468 112h4v4h-4zM476 112h4v4h-4zM52 116h8v4h-8zM468 116h12v4h-12zM492 116h4v4h-4zM44 120h4v4h-4zM52 120h4v4h-4zM476 120h4v4h-4zM492 120h4v4h-4zM480 124h4v4h-4zM488 124h8v4h-8zM488 128h8v4h-8zM496 132h4v4h-4zM40 136h4v4h-4zM500 136h4v4h-4zM36 140h8v4h-8zM28 144h4v4h-4zM36 144h4v4h-4zM496 144h4v4h-4zM28 148h4v4h-4zM492 148h4v4h-4zM24 152h4v4h-4zM32 152h4v4h-4zM500 152h4v4h-4zM32 156h4v4h-4zM500 156h4v4h-4zM488 160h4v4h-4zM16 164h4v4h-4zM12 168h4v4h-4zM508 168h4v4h-4zM32 172h4v4h-4zM32 176h8v4h-8zM492 176h4v4h-4zM508 176h4v4h-4zM28 180h12v4h-12zM492 180h4v4h-4zM4 184h8v4h-8zM492 184h4v4h-4zM8 188h4v4h-4zM4 192h8v4h-8zM20 192h4v4h-4zM12 196h4v4h-4zM28 196h8v4h-8zM512 196h4v4h-4zM12 200h4v4h-4zM24 200h4v4h-4zM504 200h8v4h-8zM12 204h4v4h-4zM504 204h8v4h-8zM16 208h4v4h-4zM516 208h4v4h-4zM16 212h4v4h-4zM492 212h4v4h-4zM516 212h4v4h-4zM12 216h4v4h-4zM36 216h8v4h-8zM492 216h8v4h-8zM32 220h4v4h-4zM28 224h4v4h-4zM32 228h8v4h-8zM512 232h4v4h-4zM504 236h4v4h-4zM512 236h4v4h-4zM36 244h4v4h-4zM508 244h4v4h-4zM36 248h4v4h-4zM508 248h4v4h-4zM28 256h4v4h-4zM36 256h8v4h-8zM480 256h4v4h-4zM492 256h4v4h-4zM32 260h4v4h-4zM40 260h4v4h-4zM480 260h4v4h-4zM96 264h4v4h-4zM104 264h12v4h-12zM100 268h4v4h-4zM120 268h4v4h-4zM136 268h8v4h-8zM444 268h8v4h-8zM468 268h4v4h-4zM48 272h4v4h-4zM60 272h4v4h-4zM92 272h8v4h-8zM116 272h4v4h-4zM216 272h12v4h-12zM240 272h4v4h-4zM268 272h4v4h-4zM276 272h4v4h-4zM304 272h4v4h-4zM324 272h12v4h-12zM356 272h4v4h-4zM444 272h12v4h-12zM72 276h4v4h-4zM156 276h8v4h-8zM168 276h12v4h-12zM192 276h4v4h-4zM200 276h16v4h-16zM228 276h4v4h-4zM236 276h4v4h-4zM256 276h4v4h-4zM264 276h4v4h-4zM316 276h8v4h-8zM360 276h4v4h-4zM376 276h4v4h-4zM276 280h8v4h-8zM300 280h12v4h-12z"/>
<path fill="#8fff00" d="M216 4h8v4h-8zM240 4h12v4h-12zM288 4h8v4h-8zM296 8h4v4h-4zM324 8h8v4h-8zM184 12h4v4h-4zM192 12h4v4h-4zM212 12h4v4h-4zM300 12h20v4h-20zM332 12h12v4h-12zM176 16h4v4h-4zM212 16h4v4h-4zM308 16h8v4h-8zM336 16h4v4h-4zM156 20h8v4h-8zM204 20h4v4h-4zM212 20h4v4h-4zM360 28h4v4h-4zM384 28h8v4h-8zM360 32h4v4h-4zM380 32h12v4h-12zM136 36h4v4h-4zM372 40h8v4h-8zM400 40h8v4h-8zM100 44h8v4h-8zM116 44h4v4h-4zM128 44h4v4h-4zM404 44h8v4h-8zM108 48h4v4h-4zM124 48h8v4h-8zM416 48h4v4h-4zM92 52h4v4h-4zM100 52h4v4h-4zM108 52h8v4h-8zM420 52h4v4h-4zM428 56h4v4h-4zM88 60h4v4h-4zM76 64h4v4h-4zM88 64h20v4h-20zM416 64h4v4h-4zM432 64h8v4h-8zM72 68h4v4h-4zM92 68h12v4h-12zM440 68h12v4h-12zM456 68h4v4h-4zM92 72h8v4h-8zM432 72h12v4h-12zM64 76h4v4h-4zM452 76h4v4h-4zM84 80h4v4h-4zM452 80h4v4h-4zM60 84h4v4h-4zM452 84h8v4h-8zM60 92h4v4h-4zM52 96h4v4h-4zM60 96h4v4h-4zM472 96h4v4h-4zM56 100h4v4h-4zM472 100h4v4h-4zM484 104h4v4h-4zM484 108h4v4h-4zM52 112h8v4h-8zM472 112h4v4h-4zM48 116h4v4h-4zM480 116h4v4h-4zM480 120h8v4h-8zM496 120h4v4h-4zM36 124h4v4h-4zM496 124h4v4h-4zM496 128h4v4h-4zM500 132h4v4h-4zM36 136h4v4h-4zM492 136h4v4h-4zM32 140h4v4h-4zM492 140h8v4h-8zM20 144h4v4h-4zM500 144h4v4h-4zM24 148h4v4h-4zM496 148h4v4h-4zM28 152h4v4h-4zM492 152h4v4h-4zM28 156h4v4h-4zM492 156h8v4h-8zM16 160h4v4h-4zM508 160h4v4h-4zM12 164h4v4h-4zM508 164h4v4h-4zM24 172h4v4h-4zM508 172h8v4h-8zM24 176h4v4h-4zM496 176h8v4h-8zM512 176h4v4h-4zM20 180h8v4h-8zM496 180h8v4h-8zM508 180h8v4h-8zM16 184h4v4h-4zM496 184h8v4h-8zM4 188h4v4h-4zM16 188h4v4h-4zM492 188h12v4h-12zM16 192h4v4h-4zM8 196h4v4h-4zM24 196h4v4h-4zM28 200h8v4h-8zM500 200h4v4h-4zM512 200h4v4h-4zM24 204h4v4h-4zM32 204h4v4h-4zM500 204h4v4h-4zM512 204h8v4h-8zM12 208h4v4h-4zM492 208h24v4h-24zM12 212h4v4h-4zM496 212h20v4h-20zM28 216h8v4h-8zM500 216h8v4h-8zM516 216h4v4h-4zM24 220h8v4h-8zM504 220h4v4h-4zM36 232h4v4h-4zM48 232h4v4h-4zM36 236h4v4h-4zM48 236h4v4h-4zM508 240h8v4h-8zM512 244h4v4h-4zM512 248h4v4h-4zM504 252h12v4h-12zM44 256h4v4h-4zM484 256h4v4h-4zM496 256h12v4h-12zM512 256h4v4h-4zM28 260h4v4h-4zM36 260h4v4h-4zM44 260h4v4h-4zM92 268h8v4h-8zM104 268h4v4h-4zM132 268h4v4h-4zM436 268h8v4h-8zM456 268h12v4h-12zM472 268h4v4h-4zM84 272h8v4h-8zM100 272h8v4h-8zM124 272h8v4h-8zM136 272h8v4h-8zM244 272h8v4h-8zM280 272h8v4h-8zM432 272h4v4h-4zM56 276h4v4h-4zM68 276h4v4h-4zM152 276h4v4h-4zM164 276h4v4h-4zM240 276h4v4h-4zM252 276h4v4h-4zM268 276h8v4h-8zM300 276h16v4h-16zM356 276h4v4h-4zM364 276h8v4h-8zM380 276h4v4h-4zM388 276h20v4h-20zM428 276h4v4h-4zM260 280h4v4h-4zM284 280h4v4h-4zM312 280h4v4h-4zM372 280h4v4h-4zM404 280h4v4h-4z"/>
<path fill="#b1ff00" d="M276 4h4v4h-4zM296 4h4v4h-4zM312 4h4v4h-4zM184 8h4v4h-4zM196 8h8v4h-8zM212 8h4v4h-4zM276 8h12v4h-12zM312 8h12v4h-12zM332 8h4v4h-4zM340 8h4v4h-4zM180 12h4v4h-4zM188 12h4v4h-4zM204 12h8v4h-8zM344 12h4v4h-4zM160 16h4v4h-4zM172 16h4v4h-4zM348 16h8v4h-8zM164 20h8v4h-8zM356 20h4v4h-4zM140 24h4v4h-4zM156 24h8v4h-8zM364 24h12v4h-12zM388 24h4v4h-4zM364 28h4v4h-4zM380 28h4v4h-4zM392 28h4v4h-4zM136 32h4v4h-4zM392 32h4v4h-4zM128 36h8v4h-8zM404 36h4v4h-4zM104 40h4v4h-4zM116 40h4v4h-4zM128 40h4v4h-4zM408 40h4v4h-4zM108 44h8v4h-8zM124 44h4v4h-4zM412 44h8v4h-8zM120 48h4v4h-4zM424 52h8v4h-8zM88 56h4v4h-4zM84 60h4v4h-4zM84 64h4v4h-4zM440 64h12v4h-12zM84 72h8v4h-8zM460 72h4v4h-4zM84 76h8v4h-8zM444 76h4v4h-4zM456 76h4v4h-4zM60 80h4v4h-4zM456 80h8v4h-8zM56 84h4v4h-4zM460 84h4v4h-4zM60 88h4v4h-4zM468 88h8v4h-8zM52 92h8v4h-8zM472 92h8v4h-8zM48 96h4v4h-4zM52 100h4v4h-4zM52 104h8v4h-8zM40 108h4v4h-4zM52 108h8v4h-8zM488 108h4v4h-4zM48 112h4v4h-4zM480 112h4v4h-4zM484 116h4v4h-4zM40 120h4v4h-4zM32 136h4v4h-4zM496 136h4v4h-4zM24 144h4v4h-4zM500 148h4v4h-4zM496 152h4v4h-4zM12 160h4v4h-4zM16 172h8v4h-8zM16 176h8v4h-8zM504 176h4v4h-4zM16 180h4v4h-4zM504 180h4v4h-4zM12 184h4v4h-4zM12 188h4v4h-4zM12 192h4v4h-4zM8 200h4v4h-4zM28 204h4v4h-4zM24 216h4v4h-4zM508 220h4v4h-4zM8 224h4v4h-4zM508 224h4v4h-4zM28 228h4v4h-4zM508 228h4v4h-4zM32 232h4v4h-4zM488 256h4v4h-4zM508 256h4v4h-4zM484 260h4v4h-4zM492 260h4v4h-4zM44 264h4v4h-4zM480 264h8v4h-8zM480 268h12v4h-12zM120 272h4v4h-4zM132 272h4v4h-4zM436 272h8v4h-8zM52 276h4v4h-4zM64 276h4v4h-4zM76 276h4v4h-4zM108 276h12v4h-12zM144 276h8v4h-8zM216 276h12v4h-12zM244 276h8v4h-8zM276 276h8v4h-8zM324 276h12v4h-12zM384 276h4v4h-4zM76 280h4v4h-4zM288 280h12v4h-12zM332 280h8v4h-8zM376 280h4v4h-4zM408 280h4v4h-4zM276 284h8v4h-8zM308 284h4v4h-4z"/>
<path fill="#cbff00" d="M192 4h4v4h-4zM204 4h8v4h-8zM280 4h4v4h-4zM300 4h12v4h-12zM180 8h4v4h-4zM188 8h8v4h-8zM204 8h8v4h-8zM300 8h12v4h-12zM336 8h4v4h-4zM156 16h4v4h-4zM164 16h8v4h-8zM360 20h12v4h-12zM136 24h4v4h-4zM376 24h4v4h-4zM368 28h4v4h-4zM128 32h8v4h-8zM404 32h4v4h-4zM124 36h4v4h-4zM140 36h4v4h-4zM396 36h8v4h-8zM408 36h4v4h-4zM108 40h8v4h-8zM124 40h4v4h-4zM412 40h8v4h-8zM420 48h4v4h-4zM88 52h4v4h-4zM84 56h4v4h-4zM72 64h4v4h-4zM68 72h4v4h-4zM60 76h4v4h-4zM448 76h4v4h-4zM56 80h4v4h-4zM464 80h4v4h-4zM52 84h4v4h-4zM464 84h4v4h-4zM52 88h8v4h-8zM48 92h4v4h-4zM40 100h4v4h-4zM40 104h4v4h-4zM44 108h8v4h-8zM484 112h4v4h-4zM40 116h8v4h-8zM488 116h4v4h-4zM32 120h4v4h-4zM488 120h4v4h-4zM32 124h4v4h-4zM32 132h4v4h-4zM20 140h12v4h-12zM20 152h4v4h-4zM20 156h4v4h-4zM8 172h8v4h-8zM8 176h8v4h-8zM4 180h12v4h-12zM4 196h4v4h-4zM4 204h8v4h-8zM8 208h4v4h-4zM8 212h4v4h-4zM8 216h4v4h-4zM508 216h8v4h-8zM8 220h12v4h-12zM512 220h4v4h-4zM4 224h4v4h-4zM512 224h4v4h-4zM4 228h8v4h-8zM512 228h4v4h-4zM32 236h4v4h-4zM32 240h4v4h-4zM32 244h4v4h-4zM32 248h4v4h-4zM20 252h4v4h-4zM32 252h4v4h-4zM24 256h4v4h-4zM24 260h4v4h-4zM496 260h12v4h-12zM32 264h4v4h-4zM44 268h4v4h-4zM476 268h4v4h-4zM456 272h4v4h-4zM48 276h4v4h-4zM60 276h4v4h-4zM80 276h4v4h-4zM284 276h4v4h-4zM444 276h12v4h-12zM80 280h4v4h-4zM184 280h4v4h-4zM220 280h8v4h-8zM252 280h8v4h-8zM264 280h4v4h-4zM316 280h16v4h-16zM388 280h8v4h-8zM400 280h4v4h-4zM412 280h8v4h-8zM300 284h8v4h-8zM312 284h4v4h-4z"/>
<path fill="#e6ff00" d="M188 4h4v4h-4zM196 4h8v4h-8zM212 4h4v4h-4zM284 4h4v4h-4zM152 12h4v4h-4zM356 16h4v4h-4zM368 16h4v4h-4zM136 20h8v4h-8zM372 20h4v4h-4zM132 24h4v4h-4zM152 24h4v4h-4zM384 24h4v4h-4zM140 28h4v4h-4zM124 32h4v4h-4zM140 32h4v4h-4zM396 32h4v4h-4zM412 36h4v4h-4zM120 44h4v4h-4zM92 48h4v4h-4zM424 48h8v4h-8zM84 52h4v4h-4zM80 60h4v4h-4zM56 76h4v4h-4zM460 76h8v4h-8zM468 84h4v4h-4zM48 88h4v4h-4zM36 96h12v4h-12zM36 100h4v4h-4zM44 100h8v4h-8zM36 104h4v4h-4zM44 104h8v4h-8zM36 108h4v4h-4zM32 112h4v4h-4zM40 112h8v4h-8zM488 112h4v4h-4zM32 116h4v4h-4zM36 120h4v4h-4zM28 124h4v4h-4zM20 132h4v4h-4zM20 136h12v4h-12zM16 140h4v4h-4zM20 148h4v4h-4zM4 172h4v4h-4zM4 176h4v4h-4zM4 200h4v4h-4zM4 208h4v4h-4zM4 212h4v4h-4zM4 216h4v4h-4zM4 220h4v4h-4zM20 220h4v4h-4zM24 224h4v4h-4zM12 244h4v4h-4zM20 248h4v4h-4zM488 260h4v4h-4zM28 264h4v4h-4zM40 264h4v4h-4zM488 264h8v4h-8zM44 272h4v4h-4zM468 272h16v4h-16zM84 276h24v4h-24zM124 276h8v4h-8zM136 276h8v4h-8zM432 276h4v4h-4zM72 280h4v4h-4zM180 280h4v4h-4zM188 280h12v4h-12zM216 280h4v4h-4zM240 280h4v4h-4zM268 280h8v4h-8zM340 280h8v4h-8zM356 280h4v4h-4zM368 280h4v4h-4zM380 280h4v4h-4zM396 280h4v4h-4zM284 284h4v4h-4zM372 284h4v4h-4zM404 284h4v4h-4z"/>
<path fill="#fffe00" d="M160 12h4v4h-4zM172 12h8v4h-8zM360 16h8v4h-8zM152 20h4v4h-4zM376 20h8v4h-8zM144 24h8v4h-8zM380 24h4v4h-4zM132 28h8v4h-8zM396 28h4v4h-4zM400 32h4v4h-4zM120 36h4v4h-4zM424 44h4v4h-4zM76 56h8v4h-8zM68 60h12v4h-12zM64 64h4v4h-4zM60 68h12v4h-12zM56 72h4v4h-4zM52 76h4v4h-4zM52 80h4v4h-4zM44 92h4v4h-4zM24 116h4v4h-4zM36 116h4v4h-4zM28 120h4v4h-4zM20 124h4v4h-4zM20 128h8v4h-8zM32 128h4v4h-4zM24 132h8v4h-8zM16 136h4v4h-4zM16 144h4v4h-4zM16 152h4v4h-4zM16 156h4v4h-4zM8 164h4v4h-4zM8 168h4v4h-4zM28 232h4v4h-4zM16 244h4v4h-4zM8 248h4v4h-4zM28 248h4v4h-4zM16 252h4v4h-4zM28 252h4v4h-4zM24 264h4v4h-4zM36 264h4v4h-4zM496 264h8v4h-8zM40 268h4v4h-4zM460 272h8v4h-8zM484 272h8v4h-8zM132 276h4v4h-4zM436 276h8v4h-8zM456 276h4v4h-4zM56 280h4v4h-4zM164 280h4v4h-4zM200 280h12v4h-12zM228 280h12v4h-12zM352 280h4v4h-4zM360 280h8v4h-8zM384 280h4v4h-4zM420 280h8v4h-8zM444 280h4v4h-4zM452 280h4v4h-4zM184 284h4v4h-4zM260 284h8v4h-8zM288 284h12v4h-12zM332 284h8v4h-8zM376 284h4v4h-4zM188 288h12v4h-12z"/>
<path fill="#ffe600" d="M172 8h8v4h-8zM156 12h4v4h-4zM164 12h8v4h-8zM348 12h8v4h-8zM152 16h4v4h-4zM144 20h8v4h-8zM128 28h4v4h-4zM108 36h12v4h-12zM120 40h4v4h-4zM420 40h4v4h-4zM420 44h4v4h-4zM88 48h4v4h-4zM68 64h4v4h-4zM64 72h4v4h-4zM48 84h4v4h-4zM44 88h4v4h-4zM40 92h4v4h-4zM32 100h4v4h-4zM28 112h4v4h-4zM36 112h4v4h-4zM28 116h4v4h-4zM24 120h4v4h-4zM24 124h4v4h-4zM28 128h4v4h-4zM12 144h4v4h-4zM12 152h4v4h-4zM8 156h8v4h-8zM4 168h4v4h-4zM12 224h12v4h-12zM24 228h4v4h-4zM4 232h8v4h-8zM4 236h4v4h-4zM28 236h4v4h-4zM28 240h4v4h-4zM20 244h4v4h-4zM28 244h4v4h-4zM4 248h4v4h-4zM12 248h8v4h-8zM8 252h8v4h-8zM24 252h4v4h-4zM20 256h4v4h-4zM32 268h4v4h-4zM492 268h4v4h-4zM492 272h4v4h-4zM120 276h4v4h-4zM480 276h8v4h-8zM52 280h4v4h-4zM100 280h8v4h-8zM160 280h4v4h-4zM168 280h4v4h-4zM212 280h4v4h-4zM244 280h8v4h-8zM348 280h4v4h-4zM432 280h12v4h-12zM448 280h4v4h-4zM76 284h8v4h-8zM180 284h4v4h-4zM192 284h8v4h-8zM216 284h12v4h-12zM252 284h8v4h-8zM272 284h4v4h-4zM316 284h4v4h-4zM324 284h8v4h-8zM388 284h8v4h-8zM400 284h4v4h-4zM408 284h4v4h-4zM200 288h4v4h-4zM220 288h8v4h-8zM272 288h12v4h-12zM188 292h4v4h-4z"/>
<path fill="#ffcd00" d="M168 8h4v4h-4zM144 16h8v4h-8zM128 24h4v4h-4zM124 28h4v4h-4zM116 32h8v4h-8zM60 72h4v4h-4zM48 80h4v4h-4zM44 84h4v4h-4zM8 152h4v4h-4zM4 156h4v4h-4zM4 160h8v4h-8zM4 164h4v4h-4zM8 236h4v4h-4zM24 248h4v4h-4zM16 256h4v4h-4zM24 268h8v4h-8zM36 268h4v4h-4zM496 268h4v4h-4zM32 272h4v4h-4zM40 272h4v4h-4zM44 276h4v4h-4zM460 276h4v4h-4zM468 276h4v4h-4zM48 280h4v4h-4zM96 280h4v4h-4zM140 280h4v4h-4zM156 280h4v4h-4zM172 280h8v4h-8zM428 280h4v4h-4zM72 284h4v4h-4zM188 284h4v4h-4zM200 284h8v4h-8zM268 284h4v4h-4zM320 284h4v4h-4zM340 284h8v4h-8zM356 284h16v4h-16zM380 284h4v4h-4zM396 284h4v4h-4zM412 284h8v4h-8zM180 288h8v4h-8zM252 288h8v4h-8zM268 288h4v4h-4zM284 288h4v4h-4zM292 288h4v4h-4zM300 288h12v4h-12zM256 292h4v4h-4z"/>
<path fill="#ffb400" d="M32 104h4v4h-4zM28 108h8v4h-8zM16 148h4v4h-4zM12 228h4v4h-4zM4 240h4v4h-4zM24 240h4v4h-4zM4 244h8v4h-8zM24 244h4v4h-4zM20 260h4v4h-4zM28 272h4v4h-4zM464 276h4v4h-4zM472 276h8v4h-8zM44 280h4v4h-4zM60 280h8v4h-8zM128 280h12v4h-12zM152 280h4v4h-4zM456 280h4v4h-4zM56 284h4v4h-4zM100 284h4v4h-4zM168 284h4v4h-4zM208 284h4v4h-4zM228 284h16v4h-16zM384 284h4v4h-4zM420 284h8v4h-8zM432 284h4v4h-4zM444 284h4v4h-4zM76 288h8v4h-8zM176 288h4v4h-4zM216 288h4v4h-4zM260 288h4v4h-4zM296 288h4v4h-4zM312 288h8v4h-8zM328 288h4v4h-4zM372 288h4v4h-4zM400 288h8v4h-8zM184 292h4v4h-4zM192 292h12v4h-12zM220 292h8v4h-8zM252 292h4v4h-4zM292 292h8v4h-8zM352 292h8v4h-8z"/>
<path fill="#ff9c00" d="M28 104h4v4h-4zM8 148h8v4h-8zM16 228h8v4h-8zM12 232h4v4h-4zM24 232h4v4h-4zM8 240h4v4h-4zM8 256h8v4h-8zM16 260h4v4h-4zM20 264h4v4h-4zM24 272h4v4h-4zM36 272h4v4h-4zM32 276h4v4h-4zM40 280h4v4h-4zM68 280h4v4h-4zM84 280h8v4h-8zM108 280h20v4h-20zM144 280h8v4h-8zM460 280h4v4h-4zM52 284h4v4h-4zM96 284h4v4h-4zM104 284h4v4h-4zM164 284h4v4h-4zM172 284h8v4h-8zM212 284h4v4h-4zM244 284h8v4h-8zM348 284h8v4h-8zM436 284h8v4h-8zM448 284h8v4h-8zM72 288h4v4h-4zM96 288h4v4h-4zM168 288h8v4h-8zM264 288h4v4h-4zM288 288h4v4h-4zM320 288h8v4h-8zM360 288h4v4h-4zM376 288h4v4h-4zM396 288h4v4h-4zM452 288h4v4h-4zM180 292h4v4h-4zM260 292h4v4h-4zM272 292h4v4h-4zM288 292h4v4h-4zM348 292h4v4h-4z"/>
<path fill="#ff8300" d="M24 236h4v4h-4zM12 240h8v4h-8zM12 260h4v4h-4zM12 264h4v4h-4zM24 276h8v4h-8zM40 276h4v4h-4zM32 280h8v4h-8zM92 280h4v4h-4zM464 280h4v4h-4zM44 284h8v4h-8zM64 284h4v4h-4zM140 284h4v4h-4zM156 284h8v4h-8zM428 284h4v4h-4zM128 288h8v4h-8zM140 288h4v4h-4zM164 288h4v4h-4zM204 288h8v4h-8zM332 288h28v4h-28zM380 288h4v4h-4zM388 288h8v4h-8zM408 288h12v4h-12zM436 288h4v4h-4zM444 288h4v4h-4zM204 292h4v4h-4zM268 292h4v4h-4z"/>
<path fill="#ff6700" d="M16 232h4v4h-4zM12 236h4v4h-4zM16 264h4v4h-4zM16 268h8v4h-8zM36 276h4v4h-4zM60 284h4v4h-4zM68 284h4v4h-4zM84 284h8v4h-8zM124 284h16v4h-16zM152 284h4v4h-4zM456 284h4v4h-4zM100 288h8v4h-8zM120 288h8v4h-8zM136 288h4v4h-4zM144 288h20v4h-20zM212 288h4v4h-4zM236 288h16v4h-16zM384 288h4v4h-4zM424 288h4v4h-4zM440 288h4v4h-4zM448 288h4v4h-4zM168 292h12v4h-12zM208 292h4v4h-4zM216 292h4v4h-4zM236 292h4v4h-4zM276 292h4v4h-4zM312 292h12v4h-12zM360 292h4v4h-4zM388 292h4v4h-4z"/>
<path fill="#ff4c00" d="M16 236h4v4h-4zM20 240h4v4h-4zM20 272h4v4h-4zM468 280h4v4h-4zM480 280h4v4h-4zM92 284h4v4h-4zM108 284h16v4h-16zM144 284h8v4h-8zM460 284h8v4h-8zM64 288h8v4h-8zM84 288h12v4h-12zM108 288h12v4h-12zM228 288h8v4h-8zM364 288h8v4h-8zM420 288h4v4h-4zM432 288h4v4h-4zM108 292h4v4h-4zM116 292h4v4h-4zM144 292h12v4h-12zM164 292h4v4h-4zM212 292h4v4h-4zM228 292h4v4h-4zM264 292h4v4h-4zM280 292h8v4h-8zM336 292h12v4h-12zM372 292h8v4h-8zM392 292h4v4h-4zM404 292h4v4h-4z"/>
<path fill="#ff3000" d="M20 232h4v4h-4zM472 280h8v4h-8zM468 284h4v4h-4zM124 292h8v4h-8zM160 292h4v4h-4zM232 292h4v4h-4zM240 292h4v4h-4zM248 292h4v4h-4zM300 292h8v4h-8zM324 292h8v4h-8zM380 292h8v4h-8z"/>
<path fill="#ff1400" d="M20 236h4v4h-4zM428 288h4v4h-4zM140 292h4v4h-4zM156 292h4v4h-4zM244 292h4v4h-4zM308 292h4v4h-4zM364 292h4v4h-4zM408 292h8v4h-8z"/>
<path fill="#ff000a" d="M132 292h8v4h-8zM332 292h4v4h-4zM368 292h4v4h-4z"/>
</g>
<g fill="none" stroke-linejoin="round" filter="url(#rb)"><path d="M1006.6 1100.1L1007.3 1098.1L1009.9 1094.3L1010.8 1092.3L1011.7 1088.3L1012.5 1083.9L1013.1 1082.3L1014.9 1079.4L1015.2 1074.6L1016.3 1073.5L1018.5 1069.7L1019.9 1067.3L1020.9 1063.5L1023.6 1062.5L1024.8 1059.3L1028.2 1056.5L1030.3 1054.9L1031.5 1051.4L1034.3 1048.7L1034.6 1045.0L1037.5 1043.5L1038.6 1041.4L1041.4 1038.0L1042.8 1036.2L1045.0 1033.5L1048.2 1030.3L1049.7 1028.7L1051.7 1026.3L1054.4 1023.9L1057.1 1022.5L1059.9 1019.3L1062.0 1018.1L1065.7 1016.5L1068.1 1016.1L1071.0 1013.9L1073.6 1012.2L1077.4 1009.7L1079.8 1008.8L1081.8 1007.2L1085.9 1007.0L1089.4 1004.4L1091.3 1003.7L1094.9 1001.7L1096.5 1000.5L1099.7 996.8L1102.1 997.0L1104.8 995.3L1108.2 991.6L1110.3 989.6L1113.8 988.3L1115.6 987.1L1117.2 985.2L1120.5 983.3L1124.3 982.7L1126.2 980.4L1128.2 979.7L1131.5 977.6L1134.1 975.4L1139.1 976.0L1142.1 974.9L1144.7 972.6L1147.4 972.3L1150.8 971.1L1152.6 969.3L1156.1 969.3L1159.7 968.8L1162.5 968.0L1165.0 967.2L1170.3 966.7L1172.3 966.4L1175.6 966.1L1178.4 964.1L1181.5 965.5L1185.0 964.1L1189.2 964.3L1192.2 963.3L1194.6 962.3L1197.0 963.4L1202.0 962.5L1204.1 962.7L1208.0 961.9L1210.0 961.7L1214.6 961.8L1217.3 962.9L1220.7 963.0L1223.8 963.0L1226.9 961.7L1230.6 962.5L1234.8 961.1L1236.1 962.4L1239.8 961.7L1242.5 962.6L1247.2 961.3L1250.3 962.7L1252.6 961.1L1256.3 962.8L1260.1 962.0L1263.3 961.4L1265.5 961.9L1270.3 962.9L1273.4 962.5L1275.2 962.2L1280.1 962.4L1283.0 963.6L1286.4 963.7L1289.1 962.7L1291.6 964.6L1296.4 963.4L1298.9 963.9L1301.6 963.7L1304.6 965.2L1309.3 966.3L1311.4 966.9L1314.9 966.4L1318.2 966.0L1321.9 967.4L1324.6 967.5L1326.8 968.1L1330.9 968.6L1333.9 970.7L1337.2 970.2L1340.7 970.0L1342.8 971.8L1345.8 973.1L1348.8 974.2L1352.3 974.9L1354.8 975.7L1359.2 975.6L1361.5 977.0L1364.3 978.4L1367.1 978.9L1370.5 980.8L1373.3 981.5L1376.3 982.9L1379.6 986.1L1382.6 986.2L1386.1 988.5L1389.2 990.3L1390.1 992.5L1393.4 992.4L1397.3 993.4L1399.2 996.0L1403.8 995.9L1405.2 997.1L1409.2 998.2L1411.7 1000.6L1414.5 1002.0L1415.3 1004.4L1418.1 1006.6L1421.4 1009.6L1422.4 1011.5L1424.5 1014.4L1427.6 1015.8L1430.6 1018.0L1431.9 1021.5L1434.5 1021.7L1437.1 1024.6L1440.5 1026.3L1443.6 1028.0L1445.1 1028.8L1449.0 1030.6L1450.4 1034.3L1453.2 1035.1L1454.7 1037.6L1457.6 1041.6L1460.5 1043.9L1461.5 1046.2L1463.1 1047.9L1465.6 1050.1L1467.6 1052.7L1469.7 1055.0L1471.6 1059.0L1472.3 1061.3L1474.4 1064.4L1476.7 1065.6L1479.0 1069.0L1480.8 1072.1L1482.3 1074.3L1483.2 1077.6L1485.7 1079.6L1485.8 1082.8L1487.4 1085.4L1489.3 1089.5L1490.8 1091.8L1491.1 1095.0L1493.2 1098.0L1493.4 1100.3L1495.0 1105.2L1494.4 1107.9L1495.4 1110.1L1498.3 1114.5L1497.2 1117.1L1499.2 1120.9L1499.1 1122.9L1499.5 1125.3L1500.6 1128.4L1502.3 1133.0L1502.0 1135.8L1503.2 1138.2L1503.2 1142.1L1503.1 1145.2L1503.4 1149.1L1503.1 1150.6L1502.9 1153.9L1504.0 1157.9L1504.5 1160.5L1505.3 1165.6L1505.0 1167.1L1505.4 1171.3L1505.5 1174.1L1505.5 1178.1L1505.0 1179.8L1503.2 1183.6L1503.3 1187.1L1502.4 1189.4L1503.2 1193.7L1502.6 1196.7L1501.6 1200.5L1502.6 1203.1L1504.0 1206.1L1504.8 1209.2L1503.2 1211.4L1502.8 1214.6L1500.6 1215.7L1496.5 1216.5L1494.2 1219.0L1492.5 1220.7L1489.5 1224.3L1488.5 1226.9L1485.5 1228.0L1482.9 1230.4L1480.3 1232.8L1476.7 1234.0L1473.6 1235.8L1471.7 1236.4L1468.4 1239.1L1466.6 1238.8L1463.0 1240.6L1459.4 1241.2L1457.4 1241.7L1453.3 1244.1L1449.8 1243.4L1448.0 1244.6L1444.2 1245.4L1440.6 1245.2L1438.3 1246.0L1435.8 1246.5L1430.9 1246.6L1428.9 1246.7L1425.6 1246.7L1420.9 1248.4L1419.3 1247.7L1415.2 1248.3L1411.2 1248.1L1408.8 1247.7L1405.0 1248.3L1401.5 1249.2L1398.0 1249.5L1395.0 1249.7L1392.3 1248.3L1389.5 1248.7L1385.0 1248.3L1383.2 1250.4L1378.6 1249.7L1375.5 1250.0L1373.4 1249.5L1370.5 1249.2L1367.5 1249.7L1363.5 1249.6L1359.9 1250.2L1355.8 1250.9L1353.6 1251.1L1349.5 1250.0L1347.0 1249.8L1343.9 1251.1L1341.2 1250.5L1336.8 1250.1L1335.0 1251.1L1331.8 1250.1L1328.2 1250.1L1324.7 1250.0L1321.5 1250.5L1318.6 1251.2L1315.5 1250.6L1312.1 1250.4L1308.3 1251.4L1303.9 1252.4L1301.8 1250.4L1298.0 1251.0L1294.3 1252.5L1292.7 1251.9L1289.3 1252.4L1285.4 1252.6L1282.0 1251.1L1278.9 1252.3L1275.1 1251.3L1272.2 1252.8L1269.0 1252.8L1264.9 1251.1L1263.5 1252.5L1258.4 1250.9L1255.9 1252.1L1252.1 1251.8L1249.1 1252.1L1247.5 1252.4L1243.0 1252.7L1240.5 1251.8L1236.0 1250.9L1233.0 1252.7L1231.1 1250.8L1227.9 1252.4L1223.4 1250.9L1221.6 1252.6L1217.7 1252.0L1214.1 1251.2L1210.6 1252.4L1207.3 1250.9L1205.4 1250.9L1201.6 1251.1L1198.0 1251.2L1193.6 1250.7L1190.9 1252.2L1189.1 1251.1L1185.0 1252.2L1181.4 1250.6L1177.4 1251.0L1174.6 1251.6L1171.4 1252.0L1168.0 1250.7L1165.1 1250.7L1161.6 1251.6L1158.0 1250.4L1154.8 1250.4L1152.5 1251.4L1148.3 1250.3L1146.9 1249.4L1142.1 1251.1L1139.4 1250.0L1136.0 1249.6L1132.5 1250.7L1129.3 1248.6L1125.8 1250.6L1122.7 1248.5L1119.1 1248.4L1117.1 1250.2L1113.8 1249.0L1109.8 1248.2L1107.8 1249.8L1103.5 1248.3L1100.7 1249.4L1097.3 1248.2L1093.6 1247.8L1091.7 1248.1L1088.3 1248.6L1085.0 1248.6L1082.0 1247.8L1076.7 1246.8L1074.5 1247.7L1072.3 1247.6L1067.3 1246.5L1064.3 1246.6L1061.7 1246.7L1058.8 1246.0L1054.8 1245.6L1051.6 1244.7L1049.4 1244.8L1044.6 1243.6L1043.1 1242.8L1039.2 1242.5L1036.5 1242.2L1033.6 1241.1L1029.2 1240.9L1028.0 1239.0L1024.9 1237.9L1021.0 1235.8L1017.8 1233.6L1014.8 1233.0L1012.7 1229.8L1011.1 1228.1L1009.0 1226.0L1005.7 1223.7L1003.5 1220.5L1002.0 1217.5L1001.8 1216.0L998.5 1212.6L997.5 1208.8L997.7 1206.9L995.7 1203.3L995.3 1200.0L996.0 1196.1L994.6 1193.2L995.0 1189.8L994.9 1187.9L994.2 1184.7L994.3 1180.8L994.5 1176.7L995.9 1173.7L994.2 1172.1L994.6 1168.7L995.2 1164.4L995.1 1160.6L995.8 1158.0L995.7 1154.7L995.4 1150.6L994.8 1148.9L995.1 1145.5L995.5 1142.1L995.3 1139.4L994.6 1136.2L995.1 1131.6L993.5 1128.0L993.9 1125.4L995.6 1123.3L995.3 1119.8L995.9 1115.4L997.5 1113.3L998.5 1110.1L1001.5 1106.8L1002.4 1105.3L1005.5 1102.0Z" stroke="#ff0" stroke-width="8.6"/><path d="M1006.6 1100.1L1007.3 1098.1L1009.9 1094.3L1010.8 1092.3L1011.7 1088.3L1012.5 1083.9L1013.1 1082.3L1014.9 1079.4L1015.2 1074.6L1016.3 1073.5L1018.5 1069.7L1019.9 1067.3L1020.9 1063.5L1023.6 1062.5L1024.8 1059.3L1028.2 1056.5L1030.3 1054.9L1031.5 1051.4L1034.3 1048.7L1034.6 1045.0L1037.5 1043.5L1038.6 1041.4L1041.4 1038.0L1042.8 1036.2L1045.0 1033.5L1048.2 1030.3L1049.7 1028.7L1051.7 1026.3L1054.4 1023.9L1057.1 1022.5L1059.9 1019.3L1062.0 1018.1L1065.7 1016.5L1068.1 1016.1L1071.0 1013.9L1073.6 1012.2L1077.4 1009.7L1079.8 1008.8L1081.8 1007.2L1085.9 1007.0L1089.4 1004.4L1091.3 1003.7L1094.9 1001.7L1096.5 1000.5L1099.7 996.8L1102.1 997.0L1104.8 995.3L1108.2 991.6L1110.3 989.6L1113.8 988.3L1115.6 987.1L1117.2 985.2L1120.5 983.3L1124.3 982.7L1126.2 980.4L1128.2 979.7L1131.5 977.6L1134.1 975.4L1139.1 976.0L1142.1 974.9L1144.7 972.6L1147.4 972.3L1150.8 971.1L1152.6 969.3L1156.1 969.3L1159.7 968.8L1162.5 968.0L1165.0 967.2L1170.3 966.7L1172.3 966.4L1175.6 966.1L1178.4 964.1L1181.5 965.5L1185.0 964.1L1189.2 964.3L1192.2 963.3L1194.6 962.3L1197.0 963.4L1202.0 962.5L1204.1 962.7L1208.0 961.9L1210.0 961.7L1214.6 961.8L1217.3 962.9L1220.7 963.0L1223.8 963.0L1226.9 961.7L1230.6 962.5L1234.8 961.1L1236.1 962.4L1239.8 961.7L1242.5 962.6L1247.2 961.3L1250.3 962.7L1252.6 961.1L1256.3 962.8L1260.1 962.0L1263.3 961.4L1265.5 961.9L1270.3 962.9L1273.4 962.5L1275.2 962.2L1280.1 962.4L1283.0 963.6L1286.4 963.7L1289.1 962.7L1291.6 964.6L1296.4 963.4L1298.9 963.9L1301.6 963.7L1304.6 965.2L1309.3 966.3L1311.4 966.9L1314.9 966.4L1318.2 966.0L1321.9 967.4L1324.6 967.5L1326.8 968.1L1330.9 968.6L1333.9 970.7L1337.2 970.2L1340.7 970.0L1342.8 971.8L1345.8 973.1L1348.8 974.2L1352.3 974.9L1354.8 975.7L1359.2 975.6L1361.5 977.0L1364.3 978.4L1367.1 978.9L1370.5 980.8L1373.3 981.5L1376.3 982.9L1379.6 986.1L1382.6 986.2L1386.1 988.5L1389.2 990.3L1390.1 992.5L1393.4 992.4L1397.3 993.4L1399.2 996.0L1403.8 995.9L1405.2 997.1L1409.2 998.2L1411.7 1000.6L1414.5 1002.0L1415.3 1004.4L1418.1 1006.6L1421.4 1009.6L1422.4 1011.5L1424.5 1014.4L1427.6 1015.8L1430.6 1018.0L1431.9 1021.5L1434.5 1021.7L1437.1 1024.6L1440.5 1026.3L1443.6 1028.0L1445.1 1028.8L1449.0 1030.6L1450.4 1034.3L1453.2 1035.1L1454.7 1037.6L1457.6 1041.6L1460.5 1043.9L1461.5 1046.2L1463.1 1047.9L1465.6 1050.1L1467.6 1052.7L1469.7 1055.0L1471.6 1059.0L1472.3 1061.3L1474.4 1064.4L1476.7 1065.6L1479.0 1069.0L1480.8 1072.1L1482.3 1074.3L1483.2 1077.6L1485.7 1079.6L1485.8 1082.8L1487.4 1085.4L1489.3 1089.5L1490.8 1091.8L1491.1 1095.0L1493.2 1098.0L1493.4 1100.3L1495.0 1105.2L1494.4 1107.9L1495.4 1110.1L1498.3 1114.5L1497.2 1117.1L1499.2 1120.9L1499.1 1122.9L1499.5 1125.3L1500.6 1128.4L1502.3 1133.0L1502.0 1135.8L1503.2 1138.2L1503.2 1142.1L1503.1 1145.2L1503.4 1149.1L1503.1 1150.6L1502.9 1153.9L1504.0 1157.9L1504.5 1160.5L1505.3 1165.6L1505.0 1167.1L1505.4 1171.3L1505.5 1174.1L1505.5 1178.1L1505.0 1179.8L1503.2 1183.6L1503.3 1187.1L1502.4 1189.4L1503.2 1193.7L1502.6 1196.7L1501.6 1200.5L1502.6 1203.1L1504.0 1206.1L1504.8 1209.2L1503.2 1211.4L1502.8 1214.6L1500.6 1215.7L1496.5 1216.5L1494.2 1219.0L1492.5 1220.7L1489.5 1224.3L1488.5 1226.9L1485.5 1228.0L1482.9 1230.4L1480.3 1232.8L1476.7 1234.0L1473.6 1235.8L1471.7 1236.4L1468.4 1239.1L1466.6 1238.8L1463.0 1240.6L1459.4 1241.2L1457.4 1241.7L1453.3 1244.1L1449.8 1243.4L1448.0 1244.6L1444.2 1245.4L1440.6 1245.2L1438.3 1246.0L1435.8 1246.5L1430.9 1246.6L1428.9 1246.7L1425.6 1246.7L1420.9 1248.4L1419.3 1247.7L1415.2 1248.3L1411.2 1248.1L1408.8 1247.7L1405.0 1248.3L1401.5 1249.2L1398.0 1249.5L1395.0 1249.7L1392.3 1248.3L1389.5 1248.7L1385.0 1248.3L1383.2 1250.4L1378.6 1249.7L1375.5 1250.0L1373.4 1249.5L1370.5 1249.2L1367.5 1249.7L1363.5 1249.6L1359.9 1250.2L1355.8 1250.9L1353.6 1251.1L1349.5 1250.0L1347.0 1249.8L1343.9 1251.1L1341.2 1250.5L1336.8 1250.1L1335.0 1251.1L1331.8 1250.1L1328.2 1250.1L1324.7 1250.0L1321.5 1250.5L1318.6 1251.2L1315.5 1250.6L1312.1 1250.4L1308.3 1251.4L1303.9 1252.4L1301.8 1250.4L1298.0 1251.0L1294.3 1252.5L1292.7 1251.9L1289.3 1252.4L1285.4 1252.6L1282.0 1251.1L1278.9 1252.3L1275.1 1251.3L1272.2 1252.8L1269.0 1252.8L1264.9 1251.1L1263.5 1252.5L1258.4 1250.9L1255.9 1252.1L1252.1 1251.8L1249.1 1252.1L1247.5 1252.4L1243.0 1252.7L1240.5 1251.8L1236.0 1250.9L1233.0 1252.7L1231.1 1250.8L1227.9 1252.4L1223.4 1250.9L1221.6 1252.6L1217.7 1252.0L1214.1 1251.2L1210.6 1252.4L1207.3 1250.9L1205.4 1250.9L1201.6 1251.1L1198.0 1251.2L1193.6 1250.7L1190.9 1252.2L1189.1 1251.1L1185.0 1252.2L1181.4 1250.6L1177.4 1251.0L1174.6 1251.6L1171.4 1252.0L1168.0 1250.7L1165.1 1250.7L1161.6 1251.6L1158.0 1250.4L1154.8 1250.4L1152.5 1251.4L1148.3 1250.3L1146.9 1249.4L1142.1 1251.1L1139.4 1250.0L1136.0 1249.6L1132.5 1250.7L1129.3 1248.6L1125.8 1250.6L1122.7 1248.5L1119.1 1248.4L1117.1 1250.2L1113.8 1249.0L1109.8 1248.2L1107.8 1249.8L1103.5 1248.3L1100.7 1249.4L1097.3 1248.2L1093.6 1247.8L1091.7 1248.1L1088.3 1248.6L1085.0 1248.6L1082.0 1247.8L1076.7 1246.8L1074.5 1247.7L1072.3 1247.6L1067.3 1246.5L1064.3 1246.6L1061.7 1246.7L1058.8 1246.0L1054.8 1245.6L1051.6 1244.7L1049.4 1244.8L1044.6 1243.6L1043.1 1242.8L1039.2 1242.5L1036.5 1242.2L1033.6 1241.1L1029.2 1240.9L1028.0 1239.0L1024.9 1237.9L1021.0 1235.8L1017.8 1233.6L1014.8 1233.0L1012.7 1229.8L1011.1 1228.1L1009.0 1226.0L1005.7 1223.7L1003.5 1220.5L1002.0 1217.5L1001.8 1216.0L998.5 1212.6L997.5 1208.8L997.7 1206.9L995.7 1203.3L995.3 1200.0L996.0 1196.1L994.6 1193.2L995.0 1189.8L994.9 1187.9L994.2 1184.7L994.3 1180.8L994.5 1176.7L995.9 1173.7L994.2 1172.1L994.6 1168.7L995.2 1164.4L995.1 1160.6L995.8 1158.0L995.7 1154.7L995.4 1150.6L994.8 1148.9L995.1 1145.5L995.5 1142.1L995.3 1139.4L994.6 1136.2L995.1 1131.6L993.5 1128.0L993.9 1125.4L995.6 1123.3L995.3 1119.8L995.9 1115.4L997.5 1113.3L998.5 1110.1L1001.5 1106.8L1002.4 1105.3L1005.5 1102.0Z" stroke="#0f0" stroke-width="6.8"/><path d="M1006.6 1100.1L1007.3 1098.1L1009.9 1094.3L1010.8 1092.3L1011.7 1088.3L1012.5 1083.9L1013.1 1082.3L1014.9 1079.4L1015.2 1074.6L1016.3 1073.5L1018.5 1069.7L1019.9 1067.3L1020.9 1063.5L1023.6 1062.5L1024.8 1059.3L1028.2 1056.5L1030.3 1054.9L1031.5 1051.4L1034.3 1048.7L1034.6 1045.0L1037.5 1043.5L1038.6 1041.4L1041.4 1038.0L1042.8 1036.2L1045.0 1033.5L1048.2 1030.3L1049.7 1028.7L1051.7 1026.3L1054.4 1023.9L1057.1 1022.5L1059.9 1019.3L1062.0 1018.1L1065.7 1016.5L1068.1 1016.1L1071.0 1013.9L1073.6 1012.2L1077.4 1009.7L1079.8 1008.8L1081.8 1007.2L1085.9 1007.0L1089.4 1004.4L1091.3 1003.7L1094.9 1001.7L1096.5 1000.5L1099.7 996.8L1102.1 997.0L1104.8 995.3L1108.2 991.6L1110.3 989.6L1113.8 988.3L1115.6 987.1L1117.2 985.2L1120.5 983.3L1124.3 982.7L1126.2 980.4L1128.2 979.7L1131.5 977.6L1134.1 975.4L1139.1 976.0L1142.1 974.9L1144.7 972.6L1147.4 972.3L1150.8 971.1L1152.6 969.3L1156.1 969.3L1159.7 968.8L1162.5 968.0L1165.0 967.2L1170.3 966.7L1172.3 966.4L1175.6 966.1L1178.4 964.1L1181.5 965.5L1185.0 964.1L1189.2 964.3L1192.2 963.3L1194.6 962.3L1197.0 963.4L1202.0 962.5L1204.1 962.7L1208.0 961.9L1210.0 961.7L1214.6 961.8L1217.3 962.9L1220.7 963.0L1223.8 963.0L1226.9 961.7L1230.6 962.5L1234.8 961.1L1236.1 962.4L1239.8 961.7L1242.5 962.6L1247.2 961.3L1250.3 962.7L1252.6 961.1L1256.3 962.8L1260.1 962.0L1263.3 961.4L1265.5 961.9L1270.3 962.9L1273.4 962.5L1275.2 962.2L1280.1 962.4L1283.0 963.6L1286.4 963.7L1289.1 962.7L1291.6 964.6L1296.4 963.4L1298.9 963.9L1301.6 963.7L1304.6 965.2L1309.3 966.3L1311.4 966.9L1314.9 966.4L1318.2 966.0L1321.9 967.4L1324.6 967.5L1326.8 968.1L1330.9 968.6L1333.9 970.7L1337.2 970.2L1340.7 970.0L1342.8 971.8L1345.8 973.1L1348.8 974.2L1352.3 974.9L1354.8 975.7L1359.2 975.6L1361.5 977.0L1364.3 978.4L1367.1 978.9L1370.5 980.8L1373.3 981.5L1376.3 982.9L1379.6 986.1L1382.6 986.2L1386.1 988.5L1389.2 990.3L1390.1 992.5L1393.4 992.4L1397.3 993.4L1399.2 996.0L1403.8 995.9L1405.2 997.1L1409.2 998.2L1411.7 1000.6L1414.5 1002.0L1415.3 1004.4L1418.1 1006.6L1421.4 1009.6L1422.4 1011.5L1424.5 1014.4L1427.6 1015.8L1430.6 1018.0L1431.9 1021.5L1434.5 1021.7L1437.1 1024.6L1440.5 1026.3L1443.6 1028.0L1445.1 1028.8L1449.0 1030.6L1450.4 1034.3L1453.2 1035.1L1454.7 1037.6L1457.6 1041.6L1460.5 1043.9L1461.5 1046.2L1463.1 1047.9L1465.6 1050.1L1467.6 1052.7L1469.7 1055.0L1471.6 1059.0L1472.3 1061.3L1474.4 1064.4L1476.7 1065.6L1479.0 1069.0L1480.8 1072.1L1482.3 1074.3L1483.2 1077.6L1485.7 1079.6L1485.8 1082.8L1487.4 1085.4L1489.3 1089.5L1490.8 1091.8L1491.1 1095.0L1493.2 1098.0L1493.4 1100.3L1495.0 1105.2L1494.4 1107.9L1495.4 1110.1L1498.3 1114.5L1497.2 1117.1L1499.2 1120.9L1499.1 1122.9L1499.5 1125.3L1500.6 1128.4L1502.3 1133.0L1502.0 1135.8L1503.2 1138.2L1503.2 1142.1L1503.1 1145.2L1503.4 1149.1L1503.1 1150.6L1502.9 1153.9L1504.0 1157.9L1504.5 1160.5L1505.3 1165.6L1505.0 1167.1L1505.4 1171.3L1505.5 1174.1L1505.5 1178.1L1505.0 1179.8L1503.2 1183.6L1503.3 1187.1L1502.4 1189.4L1503.2 1193.7L1502.6 1196.7L1501.6 1200.5L1502.6 1203.1L1504.0 1206.1L1504.8 1209.2L1503.2 1211.4L1502.8 1214.6L1500.6 1215.7L1496.5 1216.5L1494.2 1219.0L1492.5 1220.7L1489.5 1224.3L1488.5 1226.9L1485.5 1228.0L1482.9 1230.4L1480.3 1232.8L1476.7 1234.0L1473.6 1235.8L1471.7 1236.4L1468.4 1239.1L1466.6 1238.8L1463.0 1240.6L1459.4 1241.2L1457.4 1241.7L1453.3 1244.1L1449.8 1243.4L1448.0 1244.6L1444.2 1245.4L1440.6 1245.2L1438.3 1246.0L1435.8 1246.5L1430.9 1246.6L1428.9 1246.7L1425.6 1246.7L1420.9 1248.4L1419.3 1247.7L1415.2 1248.3L1411.2 1248.1L1408.8 1247.7L1405.0 1248.3L1401.5 1249.2L1398.0 1249.5L1395.0 1249.7L1392.3 1248.3L1389.5 1248.7L1385.0 1248.3L1383.2 1250.4L1378.6 1249.7L1375.5 1250.0L1373.4 1249.5L1370.5 1249.2L1367.5 1249.7L1363.5 1249.6L1359.9 1250.2L1355.8 1250.9L1353.6 1251.1L1349.5 1250.0L1347.0 1249.8L1343.9 1251.1L1341.2 1250.5L1336.8 1250.1L1335.0 1251.1L1331.8 1250.1L1328.2 1250.1L1324.7 1250.0L1321.5 1250.5L1318.6 1251.2L1315.5 1250.6L1312.1 1250.4L1308.3 1251.4L1303.9 1252.4L1301.8 1250.4L1298.0 1251.0L1294.3 1252.5L1292.7 1251.9L1289.3 1252.4L1285.4 1252.6L1282.0 1251.1L1278.9 1252.3L1275.1 1251.3L1272.2 1252.8L1269.0 1252.8L1264.9 1251.1L1263.5 1252.5L1258.4 1250.9L1255.9 1252.1L1252.1 1251.8L1249.1 1252.1L1247.5 1252.4L1243.0 1252.7L1240.5 1251.8L1236.0 1250.9L1233.0 1252.7L1231.1 1250.8L1227.9 1252.4L1223.4 1250.9L1221.6 1252.6L1217.7 1252.0L1214.1 1251.2L1210.6 1252.4L1207.3 1250.9L1205.4 1250.9L1201.6 1251.1L1198.0 1251.2L1193.6 1250.7L1190.9 1252.2L1189.1 1251.1L1185.0 1252.2L1181.4 1250.6L1177.4 1251.0L1174.6 1251.6L1171.4 1252.0L1168.0 1250.7L1165.1 1250.7L1161.6 1251.6L1158.0 1250.4L1154.8 1250.4L1152.5 1251.4L1148.3 1250.3L1146.9 1249.4L1142.1 1251.1L1139.4 1250.0L1136.0 1249.6L1132.5 1250.7L1129.3 1248.6L1125.8 1250.6L1122.7 1248.5L1119.1 1248.4L1117.1 1250.2L1113.8 1249.0L1109.8 1248.2L1107.8 1249.8L1103.5 1248.3L1100.7 1249.4L1097.3 1248.2L1093.6 1247.8L1091.7 1248.1L1088.3 1248.6L1085.0 1248.6L1082.0 1247.8L1076.7 1246.8L1074.5 1247.7L1072.3 1247.6L1067.3 1246.5L1064.3 1246.6L1061.7 1246.7L1058.8 1246.0L1054.8 1245.6L1051.6 1244.7L1049.4 1244.8L1044.6 1243.6L1043.1 1242.8L1039.2 1242.5L1036.5 1242.2L1033.6 1241.1L1029.2 1240.9L1028.0 1239.0L1024.9 1237.9L1021.0 1235.8L1017.8 1233.6L1014.8 1233.0L1012.7 1229.8L1011.1 1228.1L1009.0 1226.0L1005.7 1223.7L1003.5 1220.5L1002.0 1217.5L1001.8 1216.0L998.5 1212.6L997.5 1208.8L997.7 1206.9L995.7 1203.3L995.3 1200.0L996.0 1196.1L994.6 1193.2L995.0 1189.8L994.9 1187.9L994.2 1184.7L994.3 1180.8L994.5 1176.7L995.9 1173.7L994.2 1172.1L994.6 1168.7L995.2 1164.4L995.1 1160.6L995.8 1158.0L995.7 1154.7L995.4 1150.6L994.8 1148.9L995.1 1145.5L995.5 1142.1L995.3 1139.4L994.6 1136.2L995.1 1131.6L993.5 1128.0L993.9 1125.4L995.6 1123.3L995.3 1119.8L995.9 1115.4L997.5 1113.3L998.5 1110.1L1001.5 1106.8L1002.4 1105.3L1005.5 1102.0Z" stroke="#0008f0" stroke-width="4"/></g>
</g>
<text x="71" y="931.4" font-size="33.5" class="b" fill="#fff" style="stroke:#fff">E</text>
<text x="724.6" y="928.8" font-size="26.7" fill="#fff" textLength="223.4" lengthAdjust="spacingAndGlyphs">Mean Keratin Flow</text>
<text x="146.2" y="974.7" font-size="26.7" fill="#fff" textLength="48.8" lengthAdjust="spacingAndGlyphs">Low</text>
<text x="72.9" y="1026.8" font-size="26.7" fill="#fff" textLength="136.6" lengthAdjust="spacingAndGlyphs">n = 14 cells</text>
<text x="1471.4" y="975" font-size="26.7" fill="#fff" textLength="53.9" lengthAdjust="spacingAndGlyphs">High</text>
<text x="1464.2" y="1026.6" font-size="26.7" fill="#fff" textLength="136.1" lengthAdjust="spacingAndGlyphs">n = 10 cells</text>
<text x="788.8" y="1039.6" font-size="26.7" fill="#fff">(nm.min<tspan dy="-9" font-size="15.5">-1</tspan><tspan dy="9">)</tspan></text>
<rect x="818.5" y="1055" width="74.5" height="181" fill="#fff"/>
<linearGradient id="cb" x1="0" y1="0" x2="0" y2="1"><stop offset="0.0%" stop-color="#f0f"/><stop offset="9.0%" stop-color="#ff006e"/><stop offset="14.8%" stop-color="#f00"/><stop offset="23.0%" stop-color="#ff8000"/><stop offset="32.2%" stop-color="#ff0"/><stop offset="38.0%" stop-color="#af0"/><stop offset="46.1%" stop-color="#0f0"/><stop offset="54.2%" stop-color="#0a0"/><stop offset="60.0%" stop-color="#006400"/><stop offset="65.8%" stop-color="#00696e"/><stop offset="71.6%" stop-color="#0064ff"/><stop offset="78.6%" stop-color="#00f"/><stop offset="86.7%" stop-color="#000096"/><stop offset="96.0%" stop-color="#00003c"/><stop offset="100.0%" stop-color="#000"/></linearGradient>
<rect x="829.1" y="1067.3" width="13.5" height="157.4" fill="url(#cb)"/>
<text x="845.6" y="1078.2" font-size="27.3" textLength="41.8" lengthAdjust="spacingAndGlyphs">762</text>
<text x="845.6" y="1117" font-size="27.3" textLength="41.8" lengthAdjust="spacingAndGlyphs">572</text>
<text x="845.6" y="1156.3" font-size="27.3" textLength="41.8" lengthAdjust="spacingAndGlyphs">381</text>
<text x="845.6" y="1195" font-size="27.3" textLength="41.8" lengthAdjust="spacingAndGlyphs">191</text>
<text x="845.6" y="1233.8" font-size="27.3" textLength="12.6" lengthAdjust="spacingAndGlyphs">0</text>
<text x="0.6" y="25.6" font-size="33.5" class="b">A</text>
<text x="-0.6" y="436.2" font-size="33.5" class="b">B</text>
<text x="1070.8" y="25.8" font-size="33.5" class="b">C</text>
<text x="1070.8" y="459.8" font-size="33.5" class="b">D</text>
<text x="75.2" y="1319.2" font-size="33.5" class="b">F</text>
<text x="71.2" y="1725.8" font-size="33.5" class="b">G</text>
</svg></body></html>
